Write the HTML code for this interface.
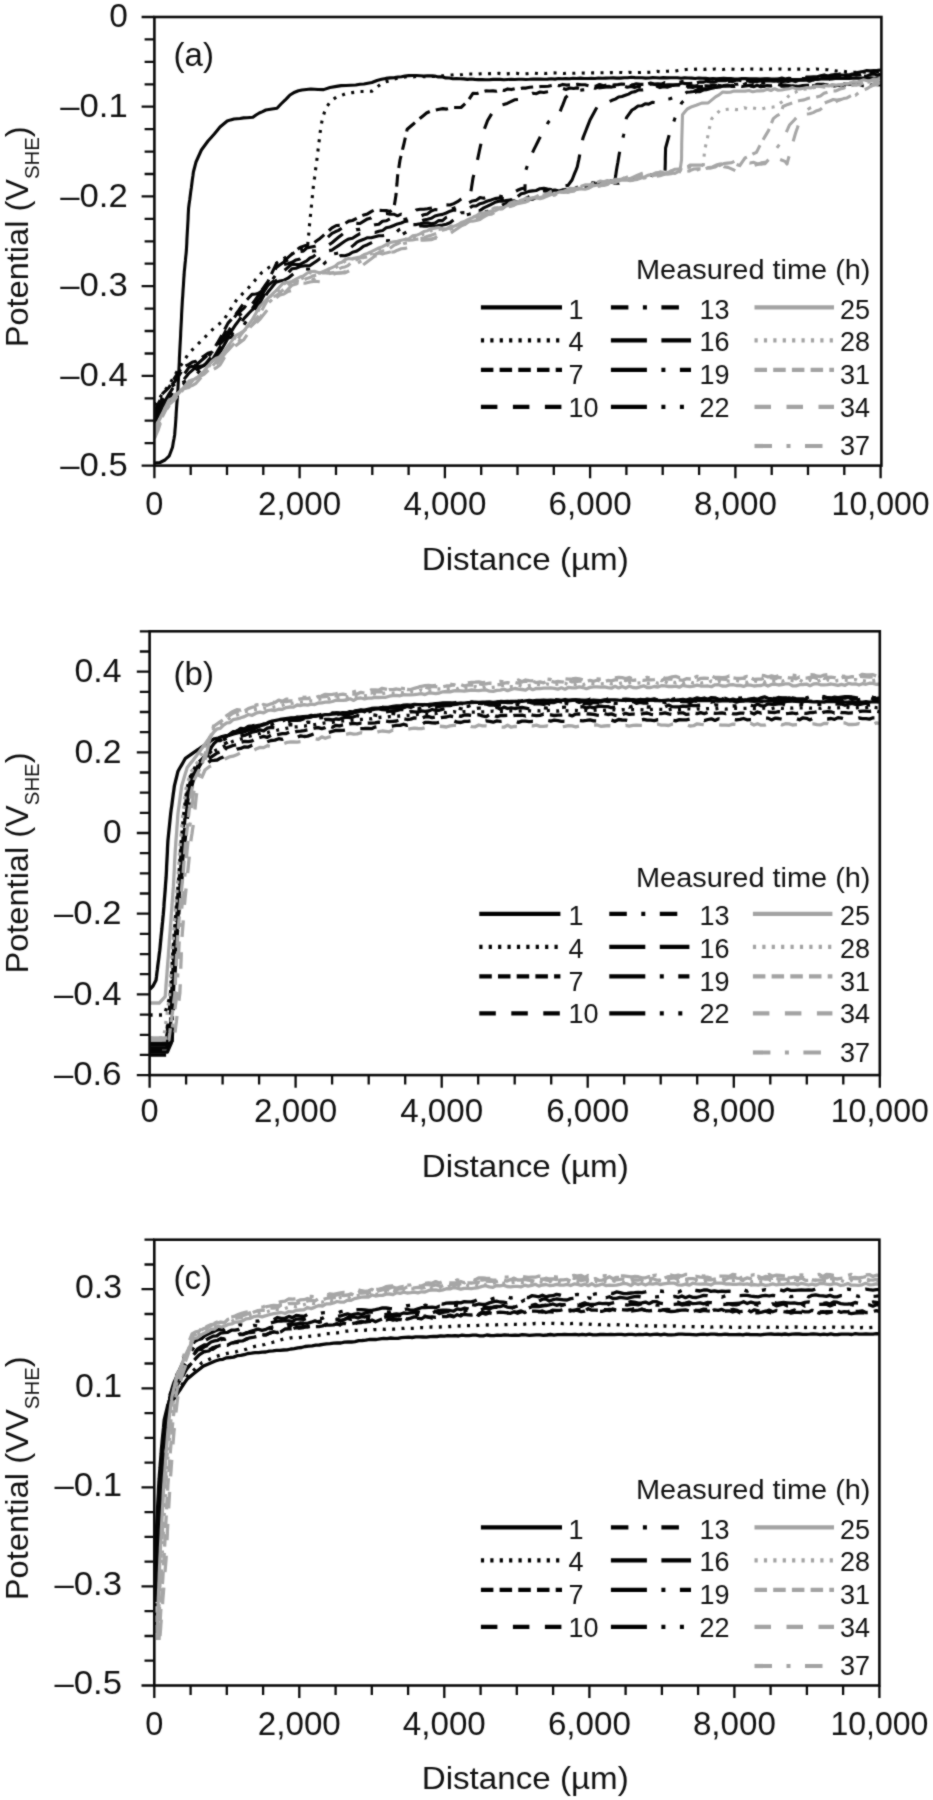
<!DOCTYPE html>
<html><head><meta charset="utf-8"><title>Potential vs distance</title>
<style>html,body{margin:0;padding:0;background:#fff;}svg{display:block;}</style>
</head><body>
<svg width="933" height="1800" viewBox="0 0 933 1800">
<defs><filter id="soft" x="0" y="0" width="100%" height="100%" color-interpolation-filters="sRGB"><feConvolveMatrix order="3" kernelMatrix="1 2 1 2 12 2 1 2 1" divisor="24" edgeMode="duplicate"/></filter></defs>
<rect width="933" height="1800" fill="#fff"/>
<g filter="url(#soft)">
<rect width="933" height="1800" fill="#fff"/>
<clipPath id="clip0"><rect x="154.4" y="17.0" width="727.0" height="448.6"/></clipPath>
<g clip-path="url(#clip0)" fill="none" stroke-linejoin="round">
<path d="M154.5 463.0 L160.0 462.5 L165.0 460.0 L169.3 455.8 L170.9 451.5 L172.5 447.2 L173.2 442.9 L174.0 438.7 L174.7 434.4 L175.0 430.1 L175.4 425.8 L175.7 421.5 L176.0 417.2 L176.2 412.9 L176.5 408.6 L176.8 404.3 L177.1 400.6 L177.4 396.8 L177.6 393.1 L177.9 389.3 L178.1 385.4 L178.3 381.6 L178.5 377.7 L178.7 373.9 L178.9 370.0 L179.1 366.1 L179.3 362.2 L179.4 358.2 L179.6 354.3 L179.8 350.4 L180.0 346.5 L180.2 342.9 L180.4 339.3 L180.6 335.8 L180.7 332.2 L180.9 328.6 L181.1 325.0 L181.3 321.4 L181.5 317.9 L181.6 314.3 L181.8 310.7 L182.0 307.2 L182.2 303.6 L182.4 300.0 L182.7 296.4 L182.9 292.9 L183.1 289.3 L183.4 285.7 L183.6 282.1 L183.8 278.6 L184.1 275.0 L184.3 271.4 L184.7 267.8 L185.0 264.3 L185.4 260.7 L185.7 257.1 L186.1 253.6 L186.4 250.0 L186.6 246.5 L186.8 243.0 L186.9 239.5 L187.1 236.0 L187.3 232.5 L187.5 229.0 L187.7 225.5 L187.9 222.0 L188.1 218.5 L188.2 215.0 L188.4 211.5 L188.6 208.0 L189.1 204.0 L189.7 200.0 L190.2 196.0 L190.7 192.0 L191.3 188.0 L191.8 184.0 L192.3 180.0 L192.9 176.0 L193.4 172.0 L194.7 167.0 L196.0 162.0 L197.8 158.0 L199.6 154.0 L201.4 150.0 L203.6 147.0 L205.8 144.0 L208.0 141.0 L211.2 137.5 L214.3 134.0 L217.2 130.5 L220.0 127.0 L223.6 124.0 L227.2 121.0 L230.6 119.9 L234.0 119.0 L240.0 118.5 L243.5 117.9 L247.0 117.8 L252.9 117.3 L256.0 115.0 L259.3 113.0 L262.6 111.6 L265.8 110.0 L272.0 109.0 L277.0 108.2 L281.0 104.0 L285.0 100.2 L287.5 97.6 L290.0 95.0 L294.7 92.2 L298.4 90.8 L302.0 90.0 L306.4 89.5 L310.8 89.0 L314.4 89.2 L318.0 89.5 L323.6 89.6 L330.0 87.5 L336.5 86.4 L341.2 85.6 L346.0 85.5 L350.9 85.3 L355.8 85.0 L359.9 84.2 L364.0 84.0 L367.9 83.2 L371.9 82.5 L377.0 80.5 L381.5 79.3 L385.9 78.4 L390.2 77.9 L394.6 77.6 L398.1 77.0 L401.5 76.8 L405.0 76.0 L408.8 75.6 L412.6 75.5 L416.4 75.5 L420.1 75.7 L423.7 76.0 L427.4 75.9 L431.0 75.8 L434.7 76.0 L438.3 76.9 L442.0 76.8 L445.6 77.9 L449.3 78.0 L452.9 78.7 L456.5 78.6 L460.2 78.7 L463.8 78.9 L467.5 79.4 L471.1 79.0 L474.7 79.4 L478.4 79.6 L482.0 79.5 L485.7 79.7 L489.3 79.8 L492.9 79.4 L496.6 79.4 L500.2 79.4 L503.9 79.7 L507.5 79.5 L511.2 79.3 L514.8 79.5 L518.5 79.3 L522.1 79.2 L525.8 79.5 L529.4 79.3 L533.0 79.0 L536.7 79.1 L540.3 79.0 L544.0 79.2 L547.6 79.1 L551.3 78.7 L554.9 79.1 L558.6 78.5 L562.2 78.7 L565.8 78.6 L569.5 78.8 L573.1 78.3 L576.8 78.5 L580.4 78.1 L584.0 78.5 L587.7 78.5 L591.3 78.3 L595.0 78.5 L598.6 78.0 L602.2 78.2 L605.9 78.1 L609.5 78.0 L613.2 77.9 L616.8 78.1 L620.4 78.1 L624.1 77.7 L627.7 77.8 L631.4 77.3 L635.0 77.6 L638.5 77.8 L642.1 77.8 L645.6 78.1 L649.2 78.0 L652.7 77.6 L656.2 77.7 L659.8 78.0 L663.3 77.6 L666.9 77.9 L670.4 77.7 L674.0 77.7 L677.5 77.7 L681.0 78.3 L684.6 77.9 L688.1 78.0 L691.7 78.1 L695.2 78.5 L698.8 78.0 L702.3 78.3 L705.8 78.4 L709.4 78.7 L712.9 78.6 L716.5 78.7 L720.0 78.5 L723.6 78.4 L727.3 78.5 L730.9 78.5 L734.5 79.0 L738.2 79.0 L741.8 78.5 L745.5 78.6 L749.1 78.7 L752.7 78.7 L756.4 78.9 L760.0 79.1 L763.6 78.9 L767.3 78.7 L770.9 79.1 L774.5 79.1 L778.2 79.3 L781.8 79.6 L785.5 79.5 L789.1 79.4 L792.7 79.5 L796.4 79.6 L800.0 79.5 L803.5 79.1 L807.0 79.6 L810.6 79.5 L814.1 79.5 L817.6 79.4 L821.1 79.0 L824.7 79.0 L828.2 78.7 L831.7 79.0 L835.2 78.5 L838.7 78.5 L842.3 78.5 L845.8 78.4 L849.3 78.5 L852.8 78.2 L856.3 78.1 L859.9 78.1 L863.4 78.0 L866.9 78.2 L870.4 77.9 L874.0 78.4 L877.5 78.1 L881.0 78.0" stroke="#050505" stroke-width="3.1"/>
<path d="M154.5 405.0 L157.1 401.4 L159.6 397.9 L162.0 394.5 L164.4 391.1 L166.9 387.8 L169.3 384.4 L171.5 380.8 L173.7 377.2 L175.8 373.6 L178.0 370.0 L180.1 366.7 L182.2 363.4 L184.4 360.1 L186.5 356.8 L188.6 353.5 L191.3 350.8 L194.0 348.1 L196.7 345.4 L199.4 342.7 L202.1 340.0 L205.0 337.1 L207.9 334.2 L210.8 331.3 L213.7 328.4 L216.9 325.8 L220.1 323.3 L223.3 320.7 L225.2 317.7 L227.2 314.6 L229.1 311.6 L231.0 308.6 L232.9 305.6 L234.9 302.5 L236.8 299.5 L239.7 296.6 L242.6 293.7 L245.5 290.8 L248.4 287.9 L251.1 284.8 L253.8 281.7 L256.5 278.6 L259.2 275.5 L261.9 272.4 L265.8 269.6 L269.6 267.0 L273.5 264.7 L276.8 262.8 L280.1 260.6 L283.4 258.6 L286.7 256.9 L290.0 255.0 L293.3 253.3 L296.7 251.5 L300.0 250.0 L303.8 247.9 L307.6 246.0 L307.9 242.5 L308.2 239.0 L308.6 235.5 L308.9 232.0 L309.2 228.5 L309.5 225.0 L309.9 221.0 L310.3 217.0 L310.7 213.0 L311.1 209.0 L311.5 205.0 L311.9 201.0 L312.3 197.0 L312.7 193.0 L313.1 189.0 L313.5 185.0 L314.0 181.1 L314.6 177.2 L315.1 173.2 L315.6 169.3 L316.1 165.7 L316.6 162.2 L317.0 158.6 L317.5 155.0 L317.9 151.2 L318.4 147.4 L318.8 143.6 L319.4 139.1 L319.9 134.5 L320.5 130.0 L321.2 125.5 L322.0 121.0 L323.2 116.5 L324.5 112.0 L326.8 106.6 L331.0 101.0 L336.5 97.0 L340.8 95.7 L345.0 94.0 L348.6 93.1 L352.2 92.6 L355.8 92.2 L359.9 91.5 L364.0 91.5 L367.9 91.2 L371.9 91.2 L375.1 88.6 L378.3 86.1 L381.5 83.5 L385.9 81.7 L390.2 80.8 L394.6 79.0 L398.1 78.2 L401.5 78.0 L405.0 77.0 L408.8 76.6 L412.6 76.9 L416.4 76.5 L420.1 76.5 L423.7 76.6 L427.4 76.6 L431.0 76.3 L434.7 76.5 L439.0 75.9 L443.4 75.9 L447.7 75.1 L452.0 75.0 L455.6 74.5 L459.2 74.8 L462.8 74.5 L466.4 74.0 L470.0 74.0 L473.6 74.0 L477.2 74.2 L480.8 73.7 L484.4 73.6 L488.0 73.8 L491.6 73.6 L495.2 73.7 L498.8 73.4 L502.4 73.9 L506.0 73.9 L509.6 73.6 L513.2 73.5 L516.8 73.4 L520.4 73.9 L524.0 73.8 L527.6 73.6 L531.2 73.2 L534.8 73.2 L538.4 73.6 L542.0 73.1 L545.6 73.5 L549.2 73.2 L552.8 72.9 L556.4 73.0 L560.0 73.2 L563.6 73.5 L567.3 73.0 L570.9 73.2 L574.5 73.3 L578.2 73.0 L581.8 73.0 L585.5 73.2 L589.1 73.1 L592.7 72.9 L596.4 72.9 L600.0 72.8 L603.6 72.8 L607.3 72.9 L610.9 72.6 L614.5 73.0 L618.2 72.5 L621.8 72.5 L625.5 73.0 L629.1 72.3 L632.7 72.5 L636.4 72.6 L640.0 72.5 L643.5 72.3 L647.0 72.4 L650.5 72.2 L654.0 71.9 L657.5 71.4 L661.0 71.9 L664.5 71.4 L668.0 71.2 L671.5 71.0 L675.0 71.0 L678.8 70.4 L682.5 69.9 L686.2 69.5 L690.0 69.3 L693.6 69.4 L697.2 69.1 L700.8 69.3 L704.4 69.4 L708.0 68.9 L711.6 69.4 L715.2 69.0 L718.8 69.4 L722.4 69.5 L726.0 69.1 L729.6 69.0 L733.2 69.2 L736.8 69.4 L740.4 69.5 L744.0 69.3 L747.6 69.0 L751.2 69.0 L754.8 69.2 L758.4 69.0 L762.0 69.3 L765.6 68.9 L769.2 69.1 L772.8 69.0 L776.4 69.0 L780.0 69.0 L783.6 69.3 L787.3 69.3 L790.9 69.3 L794.5 69.2 L798.2 69.1 L801.8 69.1 L805.5 69.2 L809.1 69.5 L812.7 69.4 L816.4 69.0 L820.0 69.3 L823.8 69.5 L827.5 69.7 L831.2 70.2 L835.0 70.9 L838.8 71.1 L842.5 71.0 L846.2 71.8 L850.0 72.0 L853.9 72.2 L857.8 72.2 L861.6 72.0 L865.5 72.2 L869.4 72.3 L873.2 73.0 L877.1 72.8 L881.0 73.0" stroke="#050505" stroke-width="3.1" stroke-dasharray="3 6.4"/>
<path d="M154.5 411.4 L156.2 407.9 L158.0 404.3 L159.7 400.6 L161.3 396.9 L163.0 393.1 L166.0 390.3 L169.0 387.4 L171.0 384.0 L173.0 380.6 L175.0 377.3 L177.3 374.0 L179.7 370.7 L182.0 367.5 L185.5 365.9 L189.0 364.4 L192.5 362.0 L196.0 361.4 L200.0 358.6 L204.0 356.1 L208.0 353.3 L212.0 352.1 L214.0 348.7 L216.0 345.4 L218.0 342.0 L220.0 338.6 L222.0 334.7 L224.0 330.8 L226.0 327.0 L228.0 323.1 L230.7 320.1 L233.3 317.1 L236.0 314.0 L238.7 310.4 L241.3 306.7 L244.0 303.0 L246.7 300.1 L249.3 297.3 L252.0 294.4 L256.0 294.0 L260.0 292.5 L262.7 288.8 L265.3 285.1 L268.0 281.4 L269.6 278.0 L271.2 274.6 L272.8 271.2 L274.4 267.8 L276.0 264.4 L280.0 262.7 L284.0 261.0 L286.7 258.6 L289.3 256.3 L292.0 254.0 L296.0 250.7 L300.0 247.4 L305.0 245.6 L310.0 245.5 L313.3 243.2 L316.7 240.8 L320.0 238.4 L323.0 235.8 L326.0 233.1 L329.0 230.5 L332.0 227.9 L336.3 225.5 L340.7 225.4 L345.0 223.5 L348.8 221.1 L352.5 220.5 L356.2 218.6 L360.0 216.6 L363.8 214.9 L367.5 213.9 L371.2 211.7 L375.0 209.8 L378.8 210.4 L382.5 210.5 L386.2 210.6 L390.0 211.6 L393.0 209.5 L394.4 205.0 L395.2 200.0 L396.0 195.0 L396.3 191.2 L396.6 187.3 L397.0 183.5 L397.3 179.6 L397.6 175.8 L398.2 171.9 L398.8 167.9 L399.4 163.9 L400.0 160.0 L401.0 155.9 L402.0 151.8 L403.0 147.7 L404.0 143.6 L404.8 140.0 L405.6 136.4 L406.4 132.8 L407.2 129.2 L410.4 126.5 L413.7 123.7 L416.9 121.0 L420.1 118.3 L423.3 115.7 L426.5 113.0 L430.8 111.0 L435.1 110.3 L439.4 109.2 L442.9 108.6 L446.5 109.1 L450.0 108.2 L453.7 107.5 L457.3 107.5 L461.0 107.5 L464.4 104.3 L467.7 101.2 L470.3 97.3 L472.9 93.4 L477.2 93.5 L481.4 92.0 L485.7 90.9 L489.4 91.0 L493.0 90.9 L496.7 91.2 L500.4 89.6 L504.1 90.5 L507.7 88.9 L511.4 89.6 L515.1 88.7 L518.8 89.0 L522.5 88.1 L526.1 88.1 L529.8 87.2 L533.5 86.9 L537.2 87.0 L540.9 86.5 L544.5 86.5 L548.2 86.3 L551.9 85.5 L555.6 84.9 L559.2 85.7 L562.9 84.4 L566.6 85.1 L570.2 84.9 L573.9 85.0 L577.6 84.4 L581.3 84.7 L584.9 84.7 L588.6 85.7 L592.3 86.5 L595.9 86.2 L599.6 84.5 L603.3 85.7 L607.0 85.0 L610.6 85.5 L614.3 84.9 L618.0 84.6 L621.6 84.0 L625.3 84.2 L629.0 84.5 L632.7 85.0 L636.3 83.8 L640.0 84.4 L643.7 84.4 L647.4 85.5 L651.0 83.9 L654.7 84.6 L658.4 85.6 L662.1 85.3 L665.8 85.9 L669.4 85.4 L673.1 85.5 L676.8 84.8 L680.5 85.2 L684.1 85.6 L687.8 86.3 L691.5 85.7 L695.1 86.0 L698.7 85.4 L702.3 86.4 L705.9 85.9 L709.5 86.1 L713.1 85.0 L716.7 85.2 L720.3 85.8 L723.9 85.5 L727.6 85.1 L731.2 86.4 L734.8 86.5 L738.4 85.9 L742.0 86.5 L745.6 86.0 L749.2 85.4 L752.8 84.8 L756.4 85.6 L760.0 85.5 L763.6 86.3 L767.1 85.6 L770.7 85.9 L774.2 85.2 L777.8 84.5 L781.4 85.4 L784.9 85.1 L788.5 85.5 L792.0 86.3 L795.6 86.3 L799.1 86.2 L802.7 85.6 L806.3 85.4 L809.8 85.4 L813.4 86.1 L816.9 84.3 L820.5 84.3 L824.1 84.4 L827.6 85.1 L831.2 86.2 L834.7 86.0 L838.3 85.3 L841.9 86.1 L845.4 85.6 L849.0 85.8 L852.5 84.6 L856.1 84.3 L859.6 84.5 L863.2 85.8 L866.8 85.8 L870.3 85.2 L873.9 84.3 L877.4 84.8 L881.0 85.0" stroke="#050505" stroke-width="3.1" stroke-dasharray="12.5 6.2"/>
<path d="M154.5 411.5 L158.0 407.9 L159.7 403.8 L161.3 399.8 L163.0 395.8 L166.0 391.7 L169.0 387.5 L172.0 384.5 L175.0 381.5 L177.3 378.0 L179.7 374.4 L182.0 370.9 L185.5 368.0 L189.0 365.0 L192.5 365.9 L196.0 365.1 L198.7 362.8 L201.3 360.5 L204.0 358.2 L208.0 354.8 L212.0 351.5 L214.7 348.4 L217.3 345.3 L220.0 342.3 L221.6 339.0 L223.2 335.8 L224.8 332.6 L226.4 329.4 L228.0 326.2 L230.7 322.5 L233.3 318.8 L236.0 315.1 L238.7 312.8 L241.3 310.4 L244.0 308.1 L246.7 304.6 L249.3 301.2 L252.0 297.7 L256.0 294.6 L260.0 292.3 L262.7 289.8 L265.3 287.2 L268.0 284.7 L269.6 281.3 L271.2 277.9 L272.8 274.5 L274.4 271.2 L276.0 267.8 L280.0 264.8 L284.0 262.0 L288.0 259.8 L292.0 258.9 L294.7 256.4 L297.3 253.9 L300.0 251.4 L303.3 251.1 L306.7 248.0 L310.0 247.3 L315.0 246.3 L320.0 244.5 L323.0 241.7 L326.0 238.9 L329.0 236.1 L332.0 233.3 L335.2 231.8 L338.5 230.4 L341.8 228.2 L345.0 226.7 L348.8 225.7 L352.5 224.9 L356.2 223.4 L360.0 223.5 L363.8 221.1 L367.5 218.9 L371.2 217.9 L375.0 215.3 L378.8 214.9 L382.5 213.9 L386.2 213.6 L390.0 214.3 L393.8 214.2 L397.5 215.8 L401.2 214.2 L405.0 215.4 L408.8 213.8 L412.5 212.9 L416.2 210.0 L420.0 209.2 L423.8 209.2 L427.5 208.8 L431.2 208.0 L435.0 206.8 L438.8 205.6 L442.5 206.7 L446.2 204.9 L450.0 205.0 L453.8 203.6 L457.5 201.7 L461.2 199.1 L465.0 197.1 L470.0 197.5 L470.6 193.6 L471.2 189.7 L471.8 185.8 L472.4 181.9 L473.0 178.0 L474.0 174.3 L475.0 170.7 L476.0 167.0 L476.8 163.2 L477.6 159.4 L478.4 155.6 L479.2 151.8 L480.0 148.0 L480.8 144.4 L481.6 140.8 L482.4 137.2 L483.2 133.6 L484.0 130.0 L485.8 125.2 L487.6 120.5 L489.8 116.9 L492.0 113.2 L494.1 109.6 L496.3 106.0 L499.9 105.4 L503.6 104.4 L507.2 103.4 L510.8 101.7 L514.5 99.8 L518.3 99.5 L522.0 97.0 L525.6 96.2 L529.2 94.7 L532.8 93.2 L536.4 93.7 L540.0 92.0 L543.8 92.5 L547.5 91.7 L551.2 90.8 L555.0 90.5 L558.8 89.3 L562.5 88.3 L566.2 89.4 L570.0 88.0 L573.6 88.5 L577.1 87.9 L580.7 88.5 L584.3 87.0 L587.9 86.8 L591.4 87.1 L595.0 88.3 L598.6 87.1 L602.1 86.5 L605.7 86.6 L609.3 86.4 L612.9 87.9 L616.4 88.0 L620.0 87.0 L623.6 86.1 L627.3 87.3 L630.9 86.4 L634.5 87.6 L638.2 86.4 L641.8 87.4 L645.5 85.9 L649.1 87.0 L652.7 86.6 L656.4 86.0 L660.0 87.6 L663.6 86.7 L667.3 87.2 L670.9 86.1 L674.5 86.3 L678.2 87.4 L681.8 86.7 L685.5 87.5 L689.1 86.9 L692.7 87.5 L696.4 86.2 L700.0 86.5 L703.6 86.5 L707.1 87.3 L710.7 85.5 L714.3 86.5 L717.9 85.4 L721.4 85.9 L725.0 86.2 L728.6 85.9 L732.1 85.5 L735.7 85.5 L739.3 86.6 L742.9 87.0 L746.4 86.5 L750.0 85.9 L753.6 86.7 L757.1 85.3 L760.7 86.7 L764.3 86.3 L767.9 86.2 L771.4 86.3 L775.0 85.4 L778.6 86.0 L782.1 86.2 L785.7 86.0 L789.3 86.1 L792.9 85.8 L796.4 86.2 L800.0 86.0 L803.5 85.6 L807.0 86.6 L810.6 85.1 L814.1 86.0 L817.6 85.4 L821.1 86.0 L824.7 85.6 L828.2 84.9 L831.7 85.8 L835.2 85.3 L838.7 83.9 L842.3 84.1 L845.8 83.8 L849.3 84.1 L852.8 84.1 L856.3 83.9 L859.9 84.6 L863.4 83.4 L866.9 84.2 L870.4 83.3 L874.0 83.6 L877.5 82.4 L881.0 83.0" stroke="#050505" stroke-width="3.1" stroke-dasharray="16.5 15.5"/>
<path d="M154.5 413.1 L158.0 409.2 L160.5 405.3 L163.0 401.4 L165.0 397.2 L167.0 393.1 L169.0 389.0 L172.0 386.4 L175.0 383.9 L178.5 380.7 L182.0 377.5 L184.3 374.1 L186.7 370.7 L189.0 367.3 L192.5 366.2 L196.0 366.8 L200.0 364.2 L204.0 363.0 L206.7 359.3 L209.3 355.6 L212.0 351.9 L214.7 349.2 L217.3 346.5 L220.0 343.9 L222.0 341.0 L224.0 338.1 L226.0 335.2 L228.0 332.3 L230.0 328.7 L232.0 325.1 L234.0 321.5 L236.0 317.8 L240.0 314.7 L244.0 311.6 L246.7 309.1 L249.3 306.7 L252.0 304.3 L254.7 300.6 L257.3 296.9 L260.0 293.2 L262.7 290.7 L265.3 288.2 L268.0 285.7 L270.7 282.0 L273.3 278.3 L276.0 274.5 L278.7 271.2 L281.3 267.9 L284.0 264.6 L288.0 263.8 L292.0 262.3 L296.0 259.9 L300.0 258.9 L303.3 256.2 L306.7 253.5 L310.0 250.8 L315.0 251.0 L320.0 249.4 L324.0 247.8 L328.0 245.4 L332.0 242.7 L335.2 240.0 L338.5 237.3 L341.8 234.7 L345.0 232.0 L348.8 231.3 L352.5 231.4 L356.2 229.6 L360.0 229.4 L363.8 228.5 L367.5 226.9 L371.2 225.9 L375.0 224.8 L378.8 224.2 L382.5 221.2 L386.2 220.8 L390.0 218.8 L393.8 219.5 L397.5 218.2 L401.2 220.2 L405.0 219.3 L408.8 218.5 L412.5 217.9 L416.2 216.7 L420.0 216.4 L423.8 214.8 L427.5 213.9 L431.2 211.0 L435.0 209.6 L438.8 209.9 L442.5 209.9 L446.2 209.9 L450.0 209.0 L453.8 208.3 L457.5 206.7 L461.2 205.4 L465.0 204.6 L468.8 202.7 L472.5 200.9 L476.2 200.2 L480.0 197.6 L483.8 198.3 L487.5 197.0 L491.2 197.1 L495.0 197.6 L498.8 195.8 L502.5 196.8 L506.2 194.2 L510.0 194.2 L513.8 192.4 L517.5 190.3 L521.2 188.8 L525.0 187.8 L525.0 189.9 L525.0 186.4 L525.1 182.8 L525.1 179.2 L525.2 175.6 L525.2 172.0 L526.4 168.5 L527.6 165.0 L528.8 161.5 L530.0 158.0 L532.0 153.7 L534.0 149.4 L535.9 145.6 L537.8 141.7 L539.7 137.9 L541.4 134.7 L543.2 131.5 L544.9 128.4 L546.7 125.2 L548.4 122.0 L550.9 119.3 L553.5 116.7 L556.0 114.0 L560.0 111.8 L561.4 108.2 L562.9 104.6 L564.3 101.0 L565.7 97.4 L568.9 94.7 L572.0 92.0 L575.6 92.1 L579.2 90.3 L582.8 89.9 L586.4 89.5 L590.0 88.0 L593.6 87.8 L597.1 88.1 L600.7 87.7 L604.3 87.1 L607.9 86.7 L611.4 87.1 L615.0 86.4 L618.6 85.4 L622.1 86.2 L625.7 85.8 L629.3 85.8 L632.9 84.9 L636.4 84.2 L640.0 84.0 L643.5 83.6 L647.1 84.0 L650.6 83.0 L654.1 84.0 L657.6 83.8 L661.2 84.1 L664.7 82.6 L668.2 83.2 L671.8 83.0 L675.3 83.0 L678.8 82.5 L682.4 81.6 L685.9 83.3 L689.4 83.2 L692.9 81.6 L696.5 82.9 L700.0 82.0 L703.6 82.1 L707.1 80.9 L710.7 82.1 L714.3 81.3 L717.9 81.4 L721.4 80.8 L725.0 82.2 L728.6 81.7 L732.1 80.8 L735.7 81.4 L739.3 81.1 L742.9 82.1 L746.4 80.5 L750.0 81.4 L753.6 81.5 L757.1 81.6 L760.7 80.3 L764.3 81.4 L767.9 80.0 L771.4 79.9 L775.0 80.7 L778.6 81.2 L782.1 80.2 L785.7 79.6 L789.3 79.4 L792.9 80.0 L796.4 80.8 L800.0 80.0 L803.5 79.9 L807.0 79.3 L810.6 79.0 L814.1 78.0 L817.6 77.7 L821.1 77.4 L824.7 78.0 L828.2 77.5 L831.7 76.0 L835.2 76.7 L838.7 77.1 L842.3 75.0 L845.8 74.8 L849.3 76.1 L852.8 74.8 L856.3 75.2 L859.9 74.8 L863.4 73.7 L866.9 74.4 L870.4 72.6 L874.0 72.3 L877.5 71.8 L881.0 72.0" stroke="#050505" stroke-width="3.1" stroke-dasharray="17.5 14.5 4 14.5"/>
<path d="M154.5 418.2 L156.2 413.8 L158.0 409.3 L163.0 404.6 L165.0 401.1 L167.0 397.6 L169.0 394.1 L171.0 391.0 L173.0 387.9 L175.0 384.8 L178.5 383.3 L182.0 381.8 L184.3 378.9 L186.7 376.0 L189.0 373.1 L192.5 370.1 L196.0 367.0 L200.0 366.3 L204.0 365.7 L206.7 362.4 L209.3 359.2 L212.0 356.0 L214.0 353.0 L216.0 350.0 L218.0 347.0 L220.0 344.0 L222.7 341.4 L225.3 338.9 L228.0 336.4 L230.0 333.3 L232.0 330.3 L234.0 327.2 L236.0 324.2 L238.7 320.6 L241.3 317.1 L244.0 313.5 L248.0 311.5 L252.0 308.8 L254.7 305.1 L257.3 301.4 L260.0 297.8 L262.0 294.6 L264.0 291.5 L266.0 288.4 L268.0 285.2 L272.0 282.2 L276.0 279.2 L278.7 276.4 L281.3 273.6 L284.0 270.7 L288.0 267.4 L292.0 264.1 L296.0 264.5 L300.0 264.4 L303.3 262.7 L306.7 260.9 L310.0 258.0 L313.3 256.7 L316.7 253.7 L320.0 252.5 L324.0 251.2 L328.0 250.8 L332.0 250.1 L335.2 247.8 L338.5 245.6 L341.8 243.3 L345.0 241.0 L348.8 238.9 L352.5 238.2 L356.2 235.9 L360.0 233.6 L363.8 233.3 L367.5 232.8 L371.2 232.2 L375.0 232.5 L378.8 231.3 L382.5 230.6 L386.2 227.7 L390.0 227.0 L393.8 225.5 L397.5 223.9 L401.2 223.0 L405.0 221.4 L408.8 221.0 L412.5 220.7 L416.2 222.1 L420.0 221.8 L423.8 220.0 L427.5 219.2 L431.2 218.3 L435.0 216.0 L438.8 215.0 L442.5 214.4 L446.2 213.0 L450.0 211.2 L453.8 210.1 L457.5 210.3 L461.2 210.9 L465.0 210.4 L468.8 208.7 L472.5 206.0 L476.2 206.0 L480.0 203.7 L483.8 202.7 L487.5 201.0 L491.2 199.9 L495.0 198.6 L498.8 198.0 L502.5 198.8 L506.2 198.0 L510.0 198.8 L513.8 197.6 L517.5 196.7 L521.2 193.8 L525.0 192.9 L528.8 191.4 L532.5 190.9 L536.2 190.5 L540.0 188.7 L543.8 188.3 L547.5 189.0 L551.2 189.6 L555.0 189.7 L559.3 187.6 L563.7 185.9 L568.0 185.4 L572.0 180.0 L573.3 176.7 L574.6 173.4 L576.0 170.1 L577.3 166.8 L578.0 163.2 L578.8 159.6 L579.5 155.9 L580.2 152.3 L580.9 148.7 L581.6 145.1 L582.3 141.5 L583.0 137.9 L584.4 134.3 L585.8 130.7 L587.2 127.2 L588.6 123.6 L590.0 120.0 L591.9 116.5 L593.8 113.0 L595.7 109.5 L597.6 106.0 L601.2 105.1 L604.8 103.4 L608.4 101.9 L612.0 100.3 L615.3 99.1 L618.6 97.0 L621.9 96.5 L625.3 95.3 L628.6 94.1 L631.9 92.2 L635.2 91.6 L638.7 89.9 L642.3 90.0 L645.8 89.6 L649.4 88.7 L652.9 88.5 L656.5 86.5 L660.0 86.0 L663.6 85.4 L667.3 84.9 L670.9 84.9 L674.5 84.9 L678.2 84.9 L681.8 83.0 L685.5 83.6 L689.1 83.6 L692.7 83.2 L696.4 82.2 L700.0 82.0 L703.6 81.0 L707.1 81.4 L710.7 81.8 L714.3 82.0 L717.9 80.7 L721.4 80.8 L725.0 80.7 L728.6 80.0 L732.1 81.7 L735.7 80.3 L739.3 80.3 L742.9 81.2 L746.4 80.7 L750.0 80.0 L753.5 79.4 L757.1 80.5 L760.6 80.1 L764.1 79.4 L767.6 79.0 L771.2 79.6 L774.7 79.6 L778.2 78.9 L781.8 78.1 L785.3 79.0 L788.8 78.4 L792.4 78.7 L795.9 78.3 L799.4 77.9 L802.9 78.1 L806.5 77.1 L810.0 77.0 L813.5 76.9 L817.1 76.8 L820.6 75.8 L824.2 74.9 L827.8 75.9 L831.3 75.0 L834.9 74.5 L838.4 74.3 L842.0 73.4 L845.5 74.2 L849.0 72.7 L852.6 72.3 L856.1 72.7 L859.7 72.1 L863.2 71.4 L866.8 70.6 L870.4 70.9 L873.9 70.5 L877.5 70.4 L881.0 70.0" stroke="#050505" stroke-width="3.1" stroke-dasharray="36 14.5"/>
<path d="M154.5 423.4 L155.7 419.8 L156.8 416.1 L158.0 412.5 L160.5 408.6 L163.0 404.6 L166.0 402.0 L169.0 399.4 L171.0 395.9 L173.0 392.4 L175.0 388.9 L178.5 385.9 L182.0 382.9 L185.5 381.0 L189.0 379.1 L191.3 376.2 L193.7 373.3 L196.0 370.3 L200.0 367.7 L204.0 365.1 L208.0 362.6 L212.0 360.3 L214.0 357.0 L216.0 353.7 L218.0 350.4 L220.0 347.1 L222.7 343.8 L225.3 340.4 L228.0 337.1 L232.0 333.9 L236.0 330.8 L238.0 327.7 L240.0 324.6 L242.0 321.6 L244.0 318.5 L246.7 315.6 L249.3 312.8 L252.0 310.0 L254.7 307.5 L257.3 305.1 L260.0 302.7 L262.0 298.9 L264.0 295.2 L266.0 291.4 L268.0 287.7 L270.7 285.3 L273.3 283.0 L276.0 280.6 L280.0 279.5 L284.0 277.3 L286.7 274.5 L289.3 271.6 L292.0 268.7 L296.0 268.2 L300.0 266.5 L305.0 265.8 L310.0 265.6 L313.3 263.3 L316.7 260.9 L320.0 258.6 L324.0 257.2 L328.0 255.9 L332.0 254.2 L336.3 253.4 L340.7 252.6 L345.0 250.4 L348.0 249.0 L351.0 247.3 L354.0 244.9 L357.0 242.2 L360.0 240.7 L363.8 239.3 L367.5 237.7 L371.2 237.8 L375.0 236.8 L378.8 235.8 L382.5 235.8 L386.2 235.3 L390.0 235.8 L393.0 232.9 L396.0 232.5 L399.0 229.7 L402.0 228.5 L405.0 226.3 L408.8 226.5 L412.5 224.6 L416.2 224.6 L420.0 223.8 L423.8 222.9 L427.5 222.7 L431.2 223.7 L435.0 223.1 L438.8 220.5 L442.5 220.6 L446.2 217.4 L450.0 216.1 L453.8 216.0 L457.5 215.3 L461.2 212.7 L465.0 212.6 L468.8 211.9 L472.5 211.6 L476.2 210.5 L480.0 210.5 L483.8 207.9 L487.5 206.2 L491.2 204.3 L495.0 202.3 L498.8 201.2 L502.5 201.3 L506.2 200.6 L510.0 199.9 L513.8 199.7 L517.5 198.4 L521.2 199.9 L525.0 198.8 L528.8 196.8 L532.5 195.1 L536.2 192.9 L540.0 191.7 L543.8 190.9 L547.5 191.1 L551.2 190.4 L555.0 190.1 L558.8 190.9 L562.5 189.9 L566.2 189.6 L570.0 189.7 L573.8 188.8 L577.5 187.1 L581.2 185.8 L585.0 183.2 L588.8 183.6 L592.5 182.8 L596.2 183.0 L600.0 182.0 L603.8 181.3 L607.5 181.2 L611.2 181.0 L615.0 181.9 L615.0 179.9 L615.7 175.6 L616.3 171.3 L617.0 167.0 L617.8 162.8 L618.5 158.5 L619.2 154.2 L620.0 150.0 L620.9 146.2 L621.8 142.5 L622.7 138.8 L623.6 135.0 L624.2 131.5 L624.8 128.0 L625.3 124.6 L625.9 121.1 L626.5 117.6 L629.2 113.8 L632.0 110.0 L635.0 108.3 L638.0 106.0 L641.6 105.8 L645.1 103.8 L648.7 104.1 L652.2 102.3 L655.8 102.7 L659.3 100.5 L662.9 100.0 L666.4 99.2 L670.0 98.8 L673.3 97.6 L676.7 97.1 L680.0 95.4 L683.3 94.9 L686.7 92.3 L690.0 92.0 L693.8 91.5 L697.5 89.6 L701.2 88.9 L705.0 88.8 L708.8 89.0 L712.5 87.9 L716.2 87.2 L720.0 86.0 L723.6 84.9 L727.3 86.0 L730.9 85.4 L734.5 84.3 L738.2 84.3 L741.8 83.3 L745.5 83.5 L749.1 82.2 L752.7 82.1 L756.4 81.0 L760.0 81.0 L763.5 81.1 L767.1 80.7 L770.6 81.0 L774.1 81.2 L777.6 80.9 L781.2 80.2 L784.7 80.2 L788.2 78.8 L791.8 78.4 L795.3 78.6 L798.8 79.2 L802.4 78.6 L805.9 78.4 L809.4 78.0 L812.9 78.6 L816.5 77.6 L820.0 78.0 L823.6 77.1 L827.2 76.2 L830.8 77.5 L834.4 76.0 L837.9 76.5 L841.5 75.0 L845.1 75.4 L848.7 74.9 L852.3 74.0 L855.9 74.0 L859.5 73.6 L863.1 72.6 L866.6 72.6 L870.2 71.5 L873.8 72.7 L877.4 70.7 L881.0 71.0" stroke="#050505" stroke-width="3.1" stroke-dasharray="36 14.5 4 14.5"/>
<path d="M154.5 425.0 L156.2 421.1 L158.0 417.3 L159.7 413.3 L161.3 409.4 L163.0 405.4 L166.0 403.2 L169.0 401.0 L172.0 397.8 L175.0 394.5 L177.3 391.2 L179.7 387.9 L182.0 384.6 L185.5 383.0 L189.0 381.4 L192.5 378.3 L196.0 375.3 L198.7 371.9 L201.3 368.6 L204.0 365.2 L208.0 362.6 L212.0 361.1 L214.7 358.0 L217.3 355.0 L220.0 352.0 L222.0 348.6 L224.0 345.2 L226.0 341.8 L228.0 338.3 L232.0 336.8 L236.0 333.6 L238.7 330.7 L241.3 327.8 L244.0 324.9 L246.0 321.6 L248.0 318.2 L250.0 314.9 L252.0 311.5 L254.7 309.0 L257.3 306.5 L260.0 304.0 L262.0 301.0 L264.0 298.0 L266.0 295.0 L268.0 292.0 L270.7 288.8 L273.3 285.5 L276.0 282.3 L280.0 281.0 L284.0 280.2 L288.0 278.2 L292.0 275.0 L296.0 271.9 L300.0 268.8 L305.0 269.0 L310.0 269.3 L313.3 267.2 L316.7 267.0 L320.0 266.0 L323.0 264.6 L326.0 261.9 L329.0 260.4 L332.0 258.1 L336.3 257.5 L340.7 255.6 L345.0 255.8 L348.8 254.6 L352.5 252.3 L356.2 251.3 L360.0 249.0 L363.8 246.1 L367.5 244.7 L371.2 242.9 L375.0 240.8 L378.8 241.1 L382.5 240.6 L386.2 240.8 L390.0 240.5 L393.8 238.1 L397.5 236.2 L401.2 235.2 L405.0 232.8 L408.8 230.7 L412.5 229.8 L416.2 226.7 L420.0 225.8 L423.8 226.1 L427.5 226.1 L431.2 225.4 L435.0 226.5 L438.8 225.6 L442.5 225.1 L446.2 224.3 L450.0 222.7 L453.8 219.8 L457.5 218.4 L461.2 216.9 L465.0 214.9 L468.8 214.3 L472.5 213.4 L476.2 213.3 L480.0 213.6 L483.8 212.2 L487.5 211.6 L491.2 209.6 L495.0 207.8 L498.8 206.6 L502.5 205.0 L506.2 203.4 L510.0 201.1 L513.8 200.8 L517.5 202.1 L521.2 200.6 L525.0 201.2 L528.8 199.3 L532.5 199.3 L536.2 197.7 L540.0 196.7 L543.8 196.1 L547.5 193.8 L551.2 192.8 L555.0 190.7 L558.8 191.3 L562.5 191.8 L566.2 192.2 L570.0 191.5 L573.8 190.0 L577.5 190.0 L581.2 189.4 L585.0 187.6 L588.8 186.2 L592.5 183.9 L596.2 184.2 L600.0 182.0 L603.8 182.2 L607.5 182.1 L611.2 182.1 L615.0 183.2 L618.8 183.1 L622.5 180.8 L626.2 181.1 L630.0 179.6 L633.8 178.0 L637.5 176.5 L641.2 176.3 L645.0 174.4 L648.8 174.0 L652.5 175.7 L656.2 175.3 L660.0 175.6 L665.0 173.1 L665.1 169.5 L665.2 166.0 L665.3 162.4 L665.3 158.8 L665.4 155.2 L665.5 151.6 L665.6 148.0 L666.7 144.0 L667.8 140.0 L668.9 136.0 L670.0 132.0 L671.2 128.5 L672.5 125.0 L673.8 121.5 L675.0 118.0 L676.6 114.2 L678.2 110.5 L679.9 106.8 L681.5 103.0 L684.3 100.3 L687.2 97.7 L690.0 95.0 L693.3 93.3 L696.7 91.7 L700.0 91.6 L703.3 90.0 L706.7 89.6 L710.0 88.0 L713.6 87.7 L717.1 87.1 L720.7 86.9 L724.3 85.6 L727.9 85.5 L731.4 86.6 L735.0 84.8 L738.6 84.7 L742.1 85.3 L745.7 83.6 L749.3 83.8 L752.9 84.6 L756.4 84.0 L760.0 83.0 L763.5 83.1 L767.1 82.5 L770.6 82.5 L774.1 82.0 L777.6 82.5 L781.2 82.5 L784.7 81.0 L788.2 81.5 L791.8 80.6 L795.3 81.6 L798.8 80.3 L802.4 80.2 L805.9 79.9 L809.4 81.2 L812.9 80.1 L816.5 79.5 L820.0 80.0 L823.6 80.3 L827.2 80.2 L830.8 78.1 L834.4 79.3 L837.9 78.8 L841.5 78.0 L845.1 78.1 L848.7 76.7 L852.3 76.8 L855.9 77.3 L859.5 75.2 L863.1 75.9 L866.6 76.2 L870.2 74.6 L873.8 73.9 L877.4 75.2 L881.0 74.0" stroke="#050505" stroke-width="3.1" stroke-dasharray="36 14.5 4 14.5 4 14.5"/>
<path d="M154.5 426.9 L158.0 422.1 L159.7 418.8 L161.3 415.4 L163.0 412.1 L165.0 408.0 L167.0 404.0 L169.0 399.9 L175.0 397.2 L178.5 393.5 L182.0 389.8 L184.3 386.8 L186.7 383.8 L189.0 380.9 L192.5 379.7 L196.0 378.8 L198.7 376.2 L201.3 373.7 L204.0 371.1 L206.7 367.8 L209.3 364.6 L212.0 361.3 L216.0 358.2 L220.0 357.0 L222.7 353.3 L225.3 349.6 L228.0 346.0 L230.7 342.4 L233.3 338.8 L236.0 335.3 L240.0 333.3 L244.0 330.9 L246.7 327.3 L249.3 323.6 L252.0 320.0 L254.0 316.6 L256.0 313.1 L258.0 309.6 L260.0 306.2 L262.7 303.5 L265.3 300.9 L268.0 298.2 L270.7 295.7 L273.3 293.2 L276.0 290.7 L278.7 287.9 L281.3 285.1 L284.0 282.4 L288.0 282.5 L292.0 281.4 L296.0 279.2 L300.0 277.0 L303.3 276.1 L306.7 273.5 L310.0 271.5 L315.0 271.4 L320.0 273.0 L324.0 271.2 L328.0 269.3 L332.0 267.6 L335.2 266.2 L338.5 263.2 L341.8 262.2 L345.0 259.7 L348.8 258.4 L352.5 259.1 L356.2 257.8 L360.0 257.1 L363.8 254.8 L367.5 253.4 L371.2 251.7 L375.0 249.8 L378.8 247.9 L382.5 246.7 L386.2 244.6 L390.0 242.6 L393.8 241.8 L397.5 241.3 L401.2 240.2 L405.0 239.5 L408.8 238.9 L412.5 235.9 L416.2 235.4 L420.0 233.9 L423.8 231.5 L427.5 230.7 L431.2 228.6 L435.0 228.1 L438.8 227.5 L442.5 228.6 L446.2 228.7 L450.0 228.1 L453.8 226.2 L457.5 225.1 L461.2 222.5 L465.0 221.2 L468.8 219.1 L472.5 217.7 L476.2 215.9 L480.0 213.0 L483.8 213.1 L487.5 211.9 L491.2 211.0 L495.0 211.0 L498.8 208.8 L502.5 208.9 L506.2 205.9 L510.0 205.0 L513.8 203.4 L517.5 202.1 L521.2 200.8 L525.0 198.6 L528.8 198.4 L532.5 197.7 L536.2 197.9 L540.0 198.7 L543.8 197.7 L547.5 196.1 L551.2 194.6 L555.0 193.8 L558.8 192.1 L562.5 191.6 L566.2 190.2 L570.0 188.5 L573.8 188.7 L577.5 188.0 L581.2 189.0 L585.0 189.3 L588.8 188.2 L592.5 186.1 L596.2 185.2 L600.0 184.7 L603.8 183.0 L607.5 181.6 L611.2 181.2 L615.0 179.7 L618.8 180.3 L622.5 180.1 L626.2 180.0 L630.0 180.7 L633.8 180.1 L637.5 179.4 L641.2 178.1 L645.0 176.7 L648.8 175.0 L652.5 174.5 L656.2 172.7 L660.0 172.2 L663.8 172.7 L667.5 173.1 L671.2 172.2 L675.0 173.4 L680.0 170.7 L680.5 167.1 L681.0 163.6 L681.5 160.0 L681.6 156.0 L681.6 152.0 L681.7 148.0 L681.7 144.0 L681.8 140.0 L681.9 136.4 L682.0 132.8 L682.1 129.2 L682.2 125.5 L682.3 121.9 L682.4 118.3 L682.5 114.7 L684.9 111.8 L687.3 109.0 L691.8 106.7 L696.2 105.3 L701.7 103.1 L708.2 102.9 L711.9 99.9 L715.5 96.9 L719.1 94.9 L722.7 92.0 L726.5 92.4 L730.2 92.2 L734.0 91.0 L737.7 91.1 L741.5 91.1 L745.2 91.1 L749.0 90.5 L752.7 91.7 L756.5 90.9 L760.1 90.9 L763.7 90.6 L767.3 89.2 L771.0 90.5 L774.6 88.7 L778.2 90.2 L781.8 90.0 L785.4 89.3 L789.0 88.7 L792.6 87.6 L796.3 88.9 L799.9 89.0 L803.5 88.3 L807.1 87.6 L810.7 88.0 L814.3 86.3 L818.0 86.3 L821.6 86.6 L825.2 85.6 L828.8 86.0 L832.3 84.5 L835.8 85.1 L839.2 84.8 L842.7 84.4 L846.2 83.6 L849.7 83.2 L853.2 81.9 L856.6 82.4 L860.1 81.1 L863.6 79.8 L867.1 80.7 L870.6 80.5 L874.0 79.0 L877.5 79.2 L881.0 78.0" stroke="#a6a6a6" stroke-width="3.1"/>
<path d="M154.5 428.4 L156.2 425.1 L158.0 421.9 L160.5 418.0 L163.0 414.1 L164.5 410.7 L166.0 407.3 L167.5 403.9 L169.0 400.5 L172.0 398.3 L175.0 396.1 L178.5 393.6 L182.0 391.2 L184.3 388.0 L186.7 384.7 L189.0 381.5 L192.5 380.1 L196.0 378.0 L200.0 376.0 L204.0 373.1 L206.7 369.5 L209.3 366.0 L212.0 362.4 L216.0 360.0 L220.0 356.7 L222.7 353.9 L225.3 351.1 L228.0 348.4 L230.0 345.4 L232.0 342.4 L234.0 339.5 L236.0 336.5 L240.0 334.2 L244.0 330.7 L246.7 328.0 L249.3 325.3 L252.0 322.6 L254.0 318.9 L256.0 315.2 L258.0 311.5 L260.0 307.8 L262.7 304.7 L265.3 301.5 L268.0 298.4 L272.0 295.3 L276.0 293.3 L278.7 290.1 L281.3 287.0 L284.0 283.8 L288.0 282.4 L292.0 281.3 L296.0 280.7 L300.0 279.5 L303.3 277.8 L306.7 275.6 L310.0 272.7 L315.0 273.2 L320.0 272.9 L324.0 271.3 L328.0 270.7 L332.0 270.3 L335.2 268.0 L338.5 265.8 L341.8 263.5 L345.0 261.3 L348.8 259.5 L352.5 258.5 L356.2 257.8 L360.0 257.2 L363.8 255.5 L367.5 255.5 L371.2 253.7 L375.0 252.3 L378.8 249.3 L382.5 248.4 L386.2 246.0 L390.0 243.7 L393.8 242.6 L397.5 241.8 L401.2 240.1 L405.0 239.4 L408.8 237.8 L412.5 238.2 L416.2 237.0 L420.0 236.5 L423.8 233.9 L427.5 233.8 L431.2 230.6 L435.0 229.2 L438.8 229.4 L442.5 228.7 L446.2 228.8 L450.0 227.6 L453.8 226.6 L457.5 224.8 L461.2 224.6 L465.0 223.1 L468.0 221.7 L471.0 219.4 L474.0 216.6 L477.0 215.5 L480.0 213.4 L483.8 213.4 L487.5 211.6 L491.2 211.5 L495.0 209.9 L498.8 209.3 L502.5 208.0 L506.2 207.3 L510.0 206.4 L513.8 203.5 L517.5 203.0 L521.2 200.2 L525.0 198.4 L528.8 197.8 L532.5 196.9 L536.2 197.6 L540.0 197.3 L543.8 196.6 L547.5 195.2 L551.2 196.0 L555.0 194.9 L558.8 193.0 L562.5 192.0 L566.2 189.4 L570.0 188.2 L573.8 188.6 L577.5 188.5 L581.2 188.1 L585.0 187.8 L588.8 186.8 L592.5 187.2 L596.2 187.0 L600.0 185.9 L603.8 184.1 L607.5 183.2 L611.2 180.8 L615.0 179.4 L618.8 179.4 L622.5 179.0 L626.2 178.3 L630.0 179.2 L633.8 178.0 L637.5 178.0 L641.2 178.4 L645.0 177.8 L648.8 175.8 L652.5 175.7 L656.2 173.3 L660.0 171.9 L663.8 172.4 L667.5 171.1 L671.2 172.3 L675.0 172.1 L678.8 171.4 L682.5 172.4 L686.2 171.3 L690.0 171.0 L694.3 170.7 L698.7 169.4 L703.0 168.9 L703.3 165.1 L703.6 161.3 L704.0 157.6 L704.3 153.8 L704.6 150.0 L705.8 145.2 L707.0 140.3 L707.8 136.3 L708.6 132.2 L709.4 128.2 L710.6 123.4 L711.8 118.6 L714.6 115.8 L717.5 112.9 L720.3 110.1 L724.3 109.7 L728.3 109.3 L732.3 108.9 L736.3 109.6 L740.4 109.4 L744.4 107.7 L748.4 109.0 L752.5 107.8 L756.5 108.5 L760.3 109.0 L764.2 108.3 L768.0 107.3 L771.9 107.2 L775.7 106.5 L778.9 104.1 L782.2 101.7 L785.4 99.3 L788.4 96.3 L791.4 93.3 L795.1 92.3 L798.8 90.3 L802.6 89.3 L806.3 89.0 L810.0 88.0 L813.5 87.8 L817.1 87.0 L820.6 86.5 L824.2 87.2 L827.8 85.1 L831.3 85.9 L834.9 86.0 L838.4 85.4 L842.0 85.1 L845.5 84.0 L849.0 82.7 L852.6 83.4 L856.1 81.8 L859.7 82.1 L863.2 82.2 L866.8 82.3 L870.4 81.7 L873.9 79.9 L877.5 81.1 L881.0 80.0" stroke="#a6a6a6" stroke-width="3.1" stroke-dasharray="3 6.4"/>
<path d="M154.5 433.8 L155.7 429.8 L156.8 425.8 L158.0 421.9 L160.5 418.7 L163.0 415.5 L165.0 411.6 L167.0 407.7 L169.0 403.9 L171.0 400.7 L173.0 397.5 L175.0 394.3 L178.5 392.8 L182.0 391.3 L185.5 388.2 L189.0 385.0 L191.3 382.3 L193.7 379.6 L196.0 376.9 L200.0 376.5 L204.0 374.3 L206.7 371.8 L209.3 369.3 L212.0 366.9 L214.7 363.4 L217.3 360.0 L220.0 356.6 L224.0 353.5 L228.0 350.4 L230.7 347.4 L233.3 344.4 L236.0 341.4 L238.7 337.8 L241.3 334.3 L244.0 330.8 L248.0 327.5 L252.0 325.2 L254.0 322.3 L256.0 319.3 L258.0 316.4 L260.0 313.5 L262.0 309.9 L264.0 306.3 L266.0 302.7 L268.0 299.1 L272.0 297.0 L276.0 295.8 L278.7 293.6 L281.3 291.3 L284.0 289.0 L286.7 286.5 L289.3 284.0 L292.0 281.5 L296.0 281.1 L300.0 281.8 L303.3 280.0 L306.7 278.5 L310.0 277.5 L313.3 275.7 L316.7 275.0 L320.0 273.0 L324.0 272.8 L328.0 273.1 L332.0 272.9 L335.2 271.9 L338.5 269.3 L341.8 267.5 L345.0 266.9 L348.0 265.6 L351.0 262.8 L354.0 260.5 L357.0 259.6 L360.0 257.6 L363.8 257.6 L367.5 256.9 L371.2 254.6 L375.0 254.7 L378.8 252.6 L382.5 251.0 L386.2 250.6 L390.0 248.2 L393.8 245.4 L397.5 243.8 L401.2 241.8 L405.0 239.5 L408.8 240.3 L412.5 240.0 L416.2 239.3 L420.0 239.0 L423.8 238.0 L427.5 236.2 L431.2 235.3 L435.0 233.9 L438.8 232.5 L442.5 230.2 L446.2 229.2 L450.0 226.8 L453.8 225.2 L457.5 226.6 L461.2 225.6 L465.0 224.5 L468.8 221.8 L472.5 219.6 L476.2 218.2 L480.0 216.7 L483.8 214.4 L487.5 212.2 L491.2 209.7 L495.0 207.7 L498.8 207.9 L502.5 207.4 L506.2 207.6 L510.0 206.6 L513.8 205.5 L517.5 203.1 L521.2 201.4 L525.0 200.6 L528.8 199.5 L532.5 198.1 L536.2 196.7 L540.0 194.5 L543.8 194.8 L547.5 194.2 L551.2 193.9 L555.0 194.7 L558.8 193.1 L562.5 192.4 L566.2 192.0 L570.0 190.2 L573.8 188.9 L577.5 187.0 L581.2 186.3 L585.0 184.9 L588.8 184.9 L592.5 185.1 L596.2 184.9 L600.0 185.7 L603.8 185.5 L607.5 184.5 L611.2 181.6 L615.0 181.3 L618.8 179.6 L622.5 178.9 L626.2 177.4 L630.0 176.1 L633.8 176.6 L637.5 177.4 L641.2 177.2 L645.0 177.6 L648.8 177.0 L652.5 175.3 L656.2 175.1 L660.0 174.0 L663.8 173.7 L667.5 172.5 L671.2 170.9 L675.0 169.3 L678.8 169.0 L682.5 170.1 L686.2 170.4 L690.0 170.6 L693.8 169.0 L697.5 168.8 L701.2 168.9 L705.0 167.9 L710.0 168.2 L715.0 167.1 L720.0 164.0 L724.0 166.7 L728.0 167.4 L732.0 169.1 L736.0 171.0 L738.2 167.8 L740.5 164.5 L742.8 161.2 L745.0 158.0 L748.8 156.2 L752.7 154.0 L756.5 152.3 L758.1 149.1 L759.7 145.9 L761.3 142.7 L763.1 139.7 L764.9 136.6 L766.7 133.6 L768.5 130.6 L770.1 126.6 L771.7 122.6 L773.3 118.6 L777.0 115.6 L780.6 113.8 L781.8 110.2 L783.0 106.5 L787.8 104.4 L792.6 102.9 L796.2 101.3 L799.9 100.5 L804.1 99.9 L808.3 98.2 L812.5 97.9 L816.7 96.9 L820.4 95.9 L824.0 93.3 L828.0 92.1 L832.0 90.9 L836.0 90.9 L840.0 89.0 L843.4 88.2 L846.8 87.2 L850.2 85.9 L853.7 85.1 L857.1 85.1 L860.5 84.4 L863.9 82.7 L867.3 82.2 L870.8 80.7 L874.2 81.0 L877.6 79.4 L881.0 79.0" stroke="#a6a6a6" stroke-width="3.1" stroke-dasharray="12.5 6.2"/>
<path d="M154.5 438.4 L156.2 434.4 L158.0 430.4 L159.2 426.7 L160.5 423.0 L161.8 419.3 L163.0 415.6 L165.0 412.0 L167.0 408.3 L169.0 404.7 L172.0 402.0 L175.0 399.3 L177.3 395.9 L179.7 392.4 L182.0 389.0 L185.5 387.6 L189.0 386.3 L192.5 385.4 L196.0 383.3 L198.7 380.2 L201.3 377.0 L204.0 373.8 L208.0 371.2 L212.0 370.1 L216.0 367.9 L220.0 364.9 L222.0 361.6 L224.0 358.2 L226.0 354.9 L228.0 351.6 L232.0 348.5 L236.0 345.4 L240.0 342.4 L244.0 339.4 L246.0 336.4 L248.0 333.4 L250.0 330.3 L252.0 327.3 L254.7 324.6 L257.3 321.9 L260.0 319.2 L262.7 315.8 L265.3 312.5 L268.0 309.1 L270.7 305.3 L273.3 301.5 L276.0 297.8 L280.0 295.0 L284.0 294.0 L288.0 291.5 L292.0 290.5 L294.7 288.0 L297.3 285.5 L300.0 283.0 L305.0 283.2 L310.0 282.0 L315.0 281.2 L320.0 281.8 L324.0 279.6 L328.0 277.3 L332.0 274.9 L336.3 273.3 L340.7 272.9 L345.0 272.9 L348.8 271.0 L352.5 269.1 L356.2 268.5 L360.0 267.2 L363.0 265.0 L366.0 262.7 L369.0 260.5 L372.0 258.2 L375.0 256.0 L378.8 255.9 L382.5 253.6 L386.2 252.5 L390.0 252.2 L393.8 252.0 L397.5 250.2 L401.2 248.8 L405.0 248.4 L408.8 247.2 L412.5 245.1 L416.2 242.6 L420.0 240.3 L423.8 240.1 L427.5 240.0 L431.2 239.8 L435.0 238.3 L438.8 237.9 L442.5 236.4 L446.2 234.1 L450.0 233.7 L453.0 231.6 L456.0 229.5 L459.0 227.4 L462.0 225.4 L465.0 223.3 L468.8 221.8 L472.5 220.1 L476.2 219.4 L480.0 218.4 L483.8 217.0 L487.5 214.8 L491.2 214.3 L495.0 212.2 L498.0 210.6 L501.0 209.4 L504.0 206.2 L507.0 205.8 L510.0 202.9 L513.8 201.6 L517.5 202.1 L521.2 200.1 L525.0 200.2 L528.8 199.5 L532.5 199.4 L536.2 197.3 L540.0 197.6 L543.8 196.4 L547.5 193.5 L551.2 191.3 L555.0 190.2 L558.8 189.1 L562.5 190.5 L566.2 189.6 L570.0 189.8 L573.8 188.6 L577.5 189.5 L581.2 188.4 L585.0 187.9 L588.8 185.7 L592.5 184.7 L596.2 182.6 L600.0 181.1 L603.8 181.8 L607.5 180.5 L611.2 181.6 L615.0 180.7 L618.8 179.7 L622.5 180.6 L626.2 178.9 L630.0 178.6 L633.8 176.8 L637.5 175.1 L641.2 173.6 L645.0 172.8 L648.8 173.9 L652.5 172.7 L656.2 174.6 L660.0 173.9 L663.8 174.0 L667.5 174.1 L671.2 173.7 L675.0 172.4 L678.8 169.9 L682.5 169.6 L686.2 167.7 L690.0 165.1 L693.8 165.1 L697.5 165.1 L701.2 165.1 L705.0 166.1 L708.8 165.7 L712.5 165.1 L716.2 166.2 L720.0 165.5 L723.8 163.5 L727.5 163.1 L731.2 162.8 L735.0 161.1 L738.8 161.7 L742.5 161.2 L746.2 162.6 L750.0 163.1 L753.8 162.3 L757.5 163.9 L761.2 164.3 L765.0 163.4 L768.8 162.9 L772.5 160.8 L776.2 159.8 L780.0 159.4 L785.0 161.4 L787.0 164.0 L788.0 160.2 L789.0 156.5 L790.0 152.8 L791.0 149.0 L792.0 145.5 L793.0 142.0 L794.0 138.5 L795.0 135.0 L796.1 131.6 L797.3 128.2 L798.4 124.8 L799.6 121.4 L800.7 118.0 L806.0 114.0 L809.6 113.8 L813.2 112.6 L816.8 110.7 L820.1 109.7 L823.4 106.8 L826.7 105.3 L830.0 104.0 L833.4 103.7 L836.8 101.2 L840.2 99.7 L843.6 98.6 L847.0 97.9 L850.2 96.1 L853.4 94.4 L856.6 93.9 L859.8 91.0 L863.0 90.0 L866.6 88.8 L870.2 86.7 L873.8 83.7 L877.4 82.8 L881.0 81.0" stroke="#a6a6a6" stroke-width="3.1" stroke-dasharray="16.5 15.5"/>
<path d="M154.5 437.9 L155.7 433.8 L156.8 429.6 L158.0 425.5 L159.7 421.8 L161.3 418.1 L163.0 414.4 L166.0 410.2 L169.0 406.1 L171.0 402.8 L173.0 399.5 L175.0 396.2 L178.5 392.6 L182.0 389.0 L185.5 388.2 L189.0 387.5 L191.3 384.8 L193.7 382.1 L196.0 379.4 L200.0 376.2 L204.0 372.9 L208.0 370.7 L212.0 370.3 L214.7 366.9 L217.3 363.4 L220.0 360.0 L222.7 356.6 L225.3 353.3 L228.0 349.9 L232.0 347.7 L236.0 345.2 L238.7 341.6 L241.3 337.9 L244.0 334.3 L246.7 331.3 L249.3 328.3 L252.0 325.2 L254.7 322.9 L257.3 320.5 L260.0 318.1 L262.0 314.4 L264.0 310.7 L266.0 307.0 L268.0 303.3 L270.7 300.8 L273.3 298.3 L276.0 295.8 L280.0 294.4 L284.0 293.3 L286.7 290.6 L289.3 287.9 L292.0 285.2 L296.0 284.1 L300.0 281.4 L305.0 281.8 L310.0 281.6 L313.3 279.4 L316.7 277.4 L320.0 276.6 L324.0 275.9 L328.0 274.2 L332.0 272.9 L336.3 273.1 L340.7 272.9 L345.0 271.7 L348.0 269.7 L351.0 267.6 L354.0 265.6 L357.0 263.6 L360.0 261.6 L363.8 259.9 L367.5 258.6 L371.2 255.5 L375.0 254.4 L378.8 253.0 L382.5 254.1 L386.2 252.9 L390.0 252.0 L393.8 249.8 L397.5 247.2 L401.2 244.7 L405.0 243.1 L408.8 242.6 L412.5 241.3 L416.2 238.9 L420.0 238.7 L423.8 238.0 L427.5 239.3 L431.2 238.9 L435.0 237.9 L438.8 235.0 L442.5 234.2 L446.2 230.9 L450.0 229.3 L453.8 228.0 L457.5 227.1 L461.2 224.8 L465.0 223.0 L468.8 221.2 L472.5 221.2 L476.2 220.5 L480.0 219.4 L483.0 217.3 L486.0 215.2 L489.0 213.1 L492.0 211.1 L495.0 209.0 L498.8 207.4 L502.5 206.6 L506.2 205.5 L510.0 203.9 L513.8 203.9 L517.5 203.8 L521.2 202.9 L525.0 202.2 L528.8 200.8 L532.5 198.4 L536.2 196.9 L540.0 195.1 L543.8 195.1 L547.5 193.6 L551.2 193.2 L555.0 191.6 L558.8 192.3 L562.5 192.0 L566.2 192.3 L570.0 191.8 L573.8 191.2 L577.5 188.6 L581.2 186.3 L585.0 185.4 L588.8 184.6 L592.5 183.8 L596.2 182.3 L600.0 182.6 L603.8 182.3 L607.5 181.8 L611.2 182.3 L615.0 182.8 L618.8 181.1 L622.5 178.7 L626.2 177.1 L630.0 176.3 L633.8 176.1 L637.5 176.1 L641.2 175.3 L645.0 174.4 L648.8 174.8 L652.5 174.5 L656.2 176.3 L660.0 175.7 L663.8 174.6 L667.5 172.6 L671.2 171.0 L675.0 169.8 L678.8 169.5 L682.5 168.1 L686.2 167.6 L690.0 167.1 L693.8 167.8 L697.5 168.5 L701.2 168.7 L705.0 168.8 L708.8 167.5 L712.5 167.0 L716.2 165.1 L720.0 164.1 L723.8 163.7 L727.5 164.4 L731.2 164.4 L735.0 163.9 L738.8 165.3 L742.5 166.0 L746.2 165.6 L750.0 166.4 L753.8 165.5 L757.5 164.5 L761.2 162.9 L765.0 162.4 L765.0 163.7 L769.0 159.0 L771.2 155.8 L773.4 152.5 L775.8 149.3 L778.2 146.1 L780.6 142.9 L783.0 139.7 L784.6 136.0 L786.2 132.3 L787.9 128.7 L789.5 125.0 L794.3 120.0 L797.5 116.5 L800.7 113.0 L803.8 112.0 L806.9 109.9 L810.0 108.0 L813.9 106.7 L817.9 105.8 L821.8 104.5 L825.8 102.5 L829.7 101.0 L833.2 99.5 L836.8 100.0 L840.3 99.6 L843.9 98.3 L847.4 97.9 L851.4 95.6 L855.4 95.4 L859.4 92.0 L863.4 91.0 L866.9 88.4 L870.4 86.5 L874.0 85.1 L877.5 84.5 L881.0 82.0" stroke="#a6a6a6" stroke-width="3.1" stroke-dasharray="17.5 14.5 4 14.5"/>
</g>
<g stroke="#0a0a0a" stroke-width="2.3" fill="none">
<rect x="154.4" y="17" width="727" height="448.6" stroke-width="2.6"/>
<path d="M141.6 17H154.4 M144.6 39.4H154.4 M144.6 61.9H154.4 M144.6 84.3H154.4 M141.6 106.7H154.4 M144.6 129.2H154.4 M144.6 151.6H154.4 M144.6 174H154.4 M141.6 196.4H154.4 M144.6 218.9H154.4 M144.6 241.3H154.4 M144.6 263.7H154.4 M141.6 286.2H154.4 M144.6 308.6H154.4 M144.6 331H154.4 M144.6 353.5H154.4 M141.6 375.9H154.4 M144.6 398.3H154.4 M144.6 420.7H154.4 M144.6 443.2H154.4 M141.6 465.6H154.4 M154.4 465.6V478.2 M190.7 465.6V475 M227 465.6V475 M263.3 465.6V475 M299.6 465.6V478.2 M336 465.6V475 M372.3 465.6V475 M408.6 465.6V475 M444.9 465.6V478.2 M481.2 465.6V475 M517.5 465.6V475 M553.8 465.6V475 M590.1 465.6V478.2 M626.4 465.6V475 M662.7 465.6V475 M699.1 465.6V475 M735.4 465.6V478.2 M771.7 465.6V475 M808 465.6V475 M844.3 465.6V475 M880.6 465.6V478.2" stroke-width="2.3"/>
</g>
<g fill="#111" font-family='"Liberation Sans", sans-serif'>
<text x="127.8" y="27.2" font-size="32.5" text-anchor="end" textLength="18.6" lengthAdjust="spacingAndGlyphs">0</text>
<text x="127.8" y="116.9" font-size="32.5" text-anchor="end" textLength="67.5" lengthAdjust="spacingAndGlyphs">–0.1</text>
<text x="127.8" y="206.6" font-size="32.5" text-anchor="end" textLength="67.5" lengthAdjust="spacingAndGlyphs">–0.2</text>
<text x="127.8" y="296.4" font-size="32.5" text-anchor="end" textLength="67.5" lengthAdjust="spacingAndGlyphs">–0.3</text>
<text x="127.8" y="386.1" font-size="32.5" text-anchor="end" textLength="67.5" lengthAdjust="spacingAndGlyphs">–0.4</text>
<text x="127.8" y="475.8" font-size="32.5" text-anchor="end" textLength="67.5" lengthAdjust="spacingAndGlyphs">–0.5</text>
<text x="154.4" y="515" font-size="32.5" text-anchor="middle">0</text>
<text x="299.6" y="515" font-size="32.5" text-anchor="middle" textLength="83" lengthAdjust="spacingAndGlyphs">2,000</text>
<text x="444.9" y="515" font-size="32.5" text-anchor="middle" textLength="83" lengthAdjust="spacingAndGlyphs">4,000</text>
<text x="590.1" y="515" font-size="32.5" text-anchor="middle" textLength="83" lengthAdjust="spacingAndGlyphs">6,000</text>
<text x="735.4" y="515" font-size="32.5" text-anchor="middle" textLength="83" lengthAdjust="spacingAndGlyphs">8,000</text>
<text x="880.6" y="515" font-size="32.5" text-anchor="middle" textLength="98" lengthAdjust="spacingAndGlyphs">10,000</text>
<text x="525.2" y="569.5" font-size="31.5" text-anchor="middle" textLength="207" lengthAdjust="spacingAndGlyphs">Distance (µm)</text>
<text x="173.6" y="65.6" font-size="33">(a)</text>
<g transform="translate(27.8 236.8) rotate(-90)">
<text x="0" y="0" font-size="32" text-anchor="middle" textLength="221" lengthAdjust="spacingAndGlyphs">Potential (V<tspan font-size="20" dy="11">SHE</tspan><tspan dy="-11">)</tspan></text>
</g>
</g>
<g fill="#111" font-family='"Liberation Sans", sans-serif'>
<text x="636" y="278.7" font-size="27" textLength="234.5" lengthAdjust="spacingAndGlyphs">Measured time (h)</text>
<text x="568.5" y="318.8" font-size="27">1</text>
<text x="568.5" y="351.2" font-size="27">4</text>
<text x="568.5" y="384" font-size="27">7</text>
<text x="568.5" y="416.8" font-size="27">10</text>
<text x="699.5" y="318.8" font-size="27">13</text>
<text x="699.5" y="351.2" font-size="27">16</text>
<text x="699.5" y="384" font-size="27">19</text>
<text x="699.5" y="416.8" font-size="27">22</text>
<text x="840" y="318.8" font-size="27">25</text>
<text x="840" y="351.2" font-size="27">28</text>
<text x="840" y="384" font-size="27">31</text>
<text x="840" y="416.8" font-size="27">34</text>
<text x="840" y="455.4" font-size="27">37</text>
</g>
<line x1="480.9" y1="307.4" x2="562" y2="307.4" stroke="#000" stroke-width="4.2"/>
<line x1="480.9" y1="340.3" x2="562" y2="340.3" stroke="#000" stroke-width="4.2" stroke-dasharray="3.2 6.2"/>
<line x1="480.9" y1="369.9" x2="562" y2="369.9" stroke="#000" stroke-width="4.2" stroke-dasharray="12.5 6.2"/>
<line x1="480.9" y1="406.9" x2="562" y2="406.9" stroke="#000" stroke-width="4.2" stroke-dasharray="16.5 15.5"/>
<line x1="610.9" y1="307.4" x2="691" y2="307.4" stroke="#000" stroke-width="4.2" stroke-dasharray="17.5 14.5 4 14.5"/>
<line x1="610.9" y1="340.3" x2="691" y2="340.3" stroke="#000" stroke-width="4.2" stroke-dasharray="36 14.5"/>
<line x1="610.9" y1="369.9" x2="691" y2="369.9" stroke="#000" stroke-width="4.2" stroke-dasharray="36 14.5 4 14.5"/>
<line x1="610.9" y1="406.9" x2="691" y2="406.9" stroke="#000" stroke-width="4.2" stroke-dasharray="36 14.5 4 14.5 4 14.5"/>
<line x1="754.5" y1="307.4" x2="834" y2="307.4" stroke="#a3a3a3" stroke-width="4.2"/>
<line x1="754.5" y1="340.3" x2="834" y2="340.3" stroke="#a3a3a3" stroke-width="4.2" stroke-dasharray="3.2 6.2"/>
<line x1="754.5" y1="369.9" x2="834" y2="369.9" stroke="#a3a3a3" stroke-width="4.2" stroke-dasharray="12.5 6.2"/>
<line x1="754.5" y1="406.9" x2="834" y2="406.9" stroke="#a3a3a3" stroke-width="4.2" stroke-dasharray="16.5 15.5"/>
<line x1="754.5" y1="446" x2="834" y2="446" stroke="#a3a3a3" stroke-width="4.2" stroke-dasharray="17.5 14.5 4 14.5"/>
<clipPath id="clip1"><rect x="149.6" y="631.3" width="730.2" height="443.8"/></clipPath>
<g clip-path="url(#clip1)" fill="none" stroke-linejoin="round">
<path d="M149.8 989.3 L153.0 986.0 L156.0 980.2 L156.5 976.5 L156.9 972.9 L157.4 969.2 L157.8 965.5 L158.3 961.8 L158.8 958.1 L159.2 954.5 L159.7 950.8 L160.1 947.1 L160.4 943.5 L160.8 939.8 L161.1 936.2 L161.5 932.5 L161.9 928.8 L162.2 925.2 L162.6 921.5 L162.9 917.9 L163.3 914.2 L163.6 910.5 L163.9 906.9 L164.1 903.2 L164.4 899.5 L164.7 895.9 L165.0 892.2 L165.3 888.5 L165.5 884.8 L165.8 881.2 L166.1 877.5 L166.3 873.8 L166.5 870.2 L166.6 866.5 L166.8 862.8 L167.0 859.1 L167.2 855.5 L167.4 851.8 L167.5 848.1 L167.7 844.5 L167.9 840.8 L168.3 836.9 L168.7 832.9 L169.1 829.0 L169.5 825.1 L169.9 821.2 L170.3 817.2 L170.7 813.3 L171.2 809.4 L171.8 805.4 L172.3 801.5 L172.8 797.6 L173.3 793.7 L173.9 789.7 L174.4 785.8 L175.3 782.1 L176.2 778.5 L177.1 774.9 L178.0 771.2 L179.8 768.0 L181.7 764.8 L183.6 761.5 L185.4 758.3 L188.6 756.1 L191.8 753.8 L195.0 751.6 L198.2 749.5 L201.5 747.1 L204.7 745.2 L207.9 743.4 L211.1 740.6 L214.3 738.8 L218.2 738.0 L222.0 736.6 L225.9 735.7 L229.7 735.3 L233.6 734.0 L237.5 732.8 L241.3 732.1 L245.2 731.0 L249.0 730.0 L252.9 729.1 L256.8 727.5 L260.6 725.7 L264.5 724.6 L268.3 722.4 L272.2 721.1 L276.1 720.3 L279.9 719.5 L283.8 719.0 L287.6 718.5 L291.5 717.9 L295.4 717.9 L299.2 717.2 L303.1 716.6 L306.9 716.4 L310.8 716.3 L314.4 716.3 L318.0 715.2 L321.5 715.3 L325.1 714.7 L328.7 714.6 L332.3 714.0 L335.8 713.9 L339.4 713.4 L343.0 713.0 L346.6 712.6 L350.1 712.2 L353.7 711.5 L357.2 710.6 L360.8 710.0 L364.3 710.1 L367.9 709.3 L371.4 708.5 L375.0 708.2 L378.6 708.2 L382.2 707.5 L385.7 707.3 L389.3 707.1 L392.9 706.3 L396.5 706.0 L400.0 706.0 L403.6 705.1 L407.2 705.0 L410.8 705.1 L414.3 704.4 L417.9 704.7 L421.5 704.6 L425.0 704.7 L428.6 704.5 L432.2 704.1 L435.7 703.7 L439.3 703.5 L442.9 703.7 L446.4 703.5 L450.0 703.4 L453.6 703.0 L457.2 703.5 L460.8 703.1 L464.4 703.1 L468.0 702.6 L471.6 702.5 L475.2 702.2 L478.8 702.4 L482.4 702.2 L486.0 702.2 L489.6 702.0 L493.2 702.3 L496.8 702.2 L500.4 701.5 L504.0 701.6 L507.6 701.3 L511.2 701.6 L514.8 701.7 L518.4 701.0 L522.0 701.3 L525.6 700.8 L529.2 700.5 L532.8 700.9 L536.4 700.5 L540.0 700.5 L543.6 700.2 L547.1 700.4 L550.7 700.2 L554.3 700.4 L557.9 700.4 L561.4 700.3 L565.0 700.4 L568.6 700.2 L572.1 700.0 L575.7 700.0 L579.3 700.0 L582.9 700.3 L586.4 700.2 L590.0 700.5 L593.6 700.2 L597.1 700.4 L600.7 700.6 L604.3 699.8 L607.9 699.8 L611.4 699.9 L615.0 700.0 L618.6 700.2 L622.1 700.3 L625.7 700.0 L629.3 700.4 L632.9 699.7 L636.4 700.3 L640.0 700.0 L643.6 699.8 L647.1 700.4 L650.7 699.7 L654.3 700.5 L657.9 700.4 L661.4 700.6 L665.0 700.3 L668.6 700.0 L672.1 700.7 L675.7 700.3 L679.3 700.1 L682.9 700.5 L686.4 700.5 L690.0 700.5 L693.6 700.3 L697.1 700.3 L700.7 700.7 L704.3 700.6 L707.9 700.4 L711.4 700.7 L715.0 700.9 L718.6 701.0 L722.1 700.8 L725.7 700.8 L729.3 700.8 L732.9 700.7 L736.4 700.7 L740.0 701.0 L743.5 701.0 L747.0 700.7 L750.5 701.2 L754.0 701.3 L757.5 701.2 L761.0 700.8 L764.5 701.1 L768.0 701.1 L771.5 700.9 L775.0 701.6 L778.5 701.5 L782.0 701.3 L785.5 701.5 L789.0 701.1 L792.5 701.2 L796.0 701.4 L799.5 701.6 L803.0 701.6 L806.5 701.1 L810.0 701.6 L813.5 701.8 L817.0 701.7 L820.5 701.9 L824.0 702.0 L827.5 701.4 L831.0 701.5 L834.5 701.7 L838.0 702.1 L841.5 701.6 L845.0 702.1 L848.5 702.0 L852.0 701.8 L855.5 701.9 L859.0 702.2 L862.5 702.1 L866.0 701.7 L869.5 702.2 L873.0 701.7 L876.5 701.9 L880.0 702.0" stroke="#050505" stroke-width="3.3"/>
<path d="M149.6 1015.0 L153.3 1015.0 L157.0 1015.0 L160.7 1015.0 L164.4 1015.0 L165.6 1011.1 L166.8 1007.2 L168.0 1003.2 L169.2 999.3 L170.3 995.4 L170.6 991.6 L170.8 987.8 L171.0 984.0 L171.2 980.2 L171.5 976.4 L171.7 972.6 L171.9 968.8 L172.1 965.0 L172.3 961.2 L172.6 957.4 L172.8 953.6 L173.1 949.9 L173.3 946.3 L173.6 942.6 L173.9 938.9 L174.1 935.2 L174.4 931.6 L174.7 927.9 L175.0 924.2 L175.2 920.6 L175.5 916.9 L175.8 913.2 L176.1 909.6 L176.4 905.9 L176.7 902.2 L177.0 898.6 L177.3 894.9 L177.6 891.3 L177.9 887.6 L178.2 883.9 L178.5 880.3 L178.8 876.5 L179.0 872.8 L179.3 869.1 L179.5 865.4 L179.8 861.7 L180.0 857.9 L180.3 854.2 L180.5 850.5 L180.8 846.8 L181.1 843.0 L181.4 839.2 L181.8 835.4 L182.1 831.6 L182.4 827.9 L182.8 824.1 L183.1 820.3 L183.5 816.5 L183.9 812.6 L184.4 808.7 L184.9 804.7 L185.4 800.8 L185.9 796.9 L186.4 792.9 L186.8 789.0 L187.9 785.2 L188.9 781.5 L190.0 777.7 L191.0 773.9 L193.4 770.1 L195.8 766.2 L198.2 762.4 L201.3 760.2 L204.5 758.0 L207.7 755.8 L210.8 753.5 L214.0 751.3 L217.2 749.7 L220.3 747.9 L223.5 746.6 L226.7 744.5 L229.8 743.0 L233.0 741.3 L236.8 740.0 L240.7 739.0 L244.5 738.2 L248.3 736.4 L252.2 735.6 L256.0 734.5 L259.8 733.5 L263.6 732.8 L267.3 732.6 L271.1 731.3 L274.9 730.8 L278.7 729.9 L282.4 729.4 L286.2 728.4 L290.0 727.7 L293.5 727.0 L297.1 726.8 L300.6 726.3 L304.1 726.1 L307.7 725.5 L311.2 724.7 L314.7 724.6 L318.3 723.9 L321.8 723.6 L325.3 722.9 L328.9 722.6 L332.4 722.4 L335.9 721.8 L339.5 721.5 L343.0 720.9 L346.6 720.7 L350.1 720.3 L353.7 720.0 L357.2 719.6 L360.8 719.4 L364.4 719.2 L367.9 718.4 L371.5 718.8 L375.1 718.0 L378.6 717.5 L382.2 717.2 L385.8 717.1 L389.3 716.6 L392.9 716.5 L396.4 716.2 L400.0 716.0 L403.6 715.8 L407.1 715.4 L410.7 715.5 L414.3 715.0 L417.9 714.4 L421.4 714.6 L425.0 714.1 L428.6 714.1 L432.1 713.6 L435.7 713.5 L439.3 712.6 L442.9 712.4 L446.4 712.7 L450.0 712.0 L453.6 711.6 L457.2 712.2 L460.8 712.2 L464.4 711.6 L468.0 711.5 L471.6 712.1 L475.2 712.1 L478.8 711.9 L482.4 711.8 L486.0 711.8 L489.6 711.4 L493.2 711.1 L496.8 711.5 L500.4 711.7 L504.0 711.7 L507.6 711.3 L511.2 710.9 L514.8 711.0 L518.4 711.1 L522.0 710.9 L525.6 710.7 L529.2 710.8 L532.8 711.0 L536.4 710.7 L540.0 710.9 L543.6 710.6 L547.1 710.6 L550.7 710.4 L554.3 711.0 L557.9 711.0 L561.4 710.4 L565.0 710.7 L568.6 710.9 L572.1 710.3 L575.7 710.3 L579.3 710.7 L582.9 710.6 L586.4 710.4 L590.0 710.5 L593.6 710.3 L597.1 710.1 L600.7 710.3 L604.3 710.3 L607.9 709.7 L611.4 709.9 L615.0 709.8 L618.6 710.2 L622.1 709.7 L625.7 710.0 L629.3 709.7 L632.9 709.7 L636.4 709.7 L640.0 709.7 L643.6 709.9 L647.1 709.7 L650.7 709.5 L654.3 709.2 L657.9 709.3 L661.4 709.4 L665.0 709.5 L668.6 709.7 L672.1 709.2 L675.7 709.6 L679.3 709.5 L682.9 709.1 L686.4 708.9 L690.0 708.9 L693.6 709.4 L697.1 708.8 L700.7 709.1 L704.3 709.1 L707.9 708.6 L711.4 708.5 L715.0 708.9 L718.6 708.4 L722.1 708.8 L725.7 709.1 L729.3 708.6 L732.9 708.5 L736.4 708.3 L740.0 708.5 L743.5 708.4 L747.0 708.3 L750.5 708.2 L754.0 708.6 L757.5 708.5 L761.0 708.5 L764.5 708.0 L768.0 708.1 L771.5 708.6 L775.0 707.9 L778.5 708.1 L782.0 708.4 L785.5 708.0 L789.0 707.9 L792.5 708.2 L796.0 707.9 L799.5 707.9 L803.0 707.9 L806.5 707.8 L810.0 708.1 L813.5 708.1 L817.0 708.1 L820.5 708.3 L824.0 707.5 L827.5 707.6 L831.0 708.2 L834.5 708.0 L838.0 707.9 L841.5 707.5 L845.0 707.4 L848.5 707.5 L852.0 707.9 L855.5 707.8 L859.0 707.5 L862.5 707.7 L866.0 707.7 L869.5 707.3 L873.0 707.2 L876.5 707.7 L880.0 707.4" stroke="#050505" stroke-width="3.3" stroke-dasharray="3 6.4"/>
<path d="M149.6 1050.0 L153.7 1050.0 L157.8 1050.0 L161.8 1050.0 L165.9 1050.0 L167.9 1046.1 L169.9 1042.2 L170.1 1038.6 L170.2 1035.0 L170.4 1031.4 L170.5 1027.7 L170.6 1024.1 L170.8 1020.5 L170.9 1016.8 L171.1 1013.2 L171.2 1009.6 L171.4 1005.9 L171.5 1002.3 L171.7 998.7 L171.8 995.0 L172.0 991.4 L172.2 987.8 L172.4 984.2 L172.6 980.6 L172.8 977.0 L173.0 973.4 L173.2 969.8 L173.4 966.2 L173.6 962.6 L173.8 959.0 L174.0 955.4 L174.2 951.8 L174.4 948.1 L174.7 944.4 L175.0 940.8 L175.2 937.1 L175.5 933.4 L175.8 929.7 L176.1 926.1 L176.3 922.4 L176.6 918.7 L176.9 915.1 L177.2 911.4 L177.5 907.7 L177.8 904.1 L178.1 900.4 L178.4 896.7 L178.8 893.1 L179.1 889.4 L179.4 885.7 L179.7 882.1 L180.0 878.4 L180.3 874.8 L180.5 871.2 L180.8 867.6 L181.0 863.9 L181.3 860.3 L181.6 856.7 L181.8 853.1 L182.1 849.5 L182.3 845.9 L182.7 842.3 L183.0 838.8 L183.3 835.2 L183.7 831.6 L184.0 828.1 L184.3 824.5 L184.7 821.0 L185.0 817.4 L185.5 813.5 L186.0 809.6 L186.4 805.7 L186.9 801.7 L187.4 797.8 L187.8 793.9 L188.3 789.9 L189.3 786.4 L190.2 782.8 L191.2 779.3 L192.1 775.7 L193.9 772.7 L195.7 769.6 L197.5 766.6 L199.2 763.6 L202.9 761.5 L206.6 758.8 L210.3 757.6 L214.0 755.2 L217.2 753.0 L220.3 751.9 L223.5 751.4 L226.7 747.8 L229.8 746.7 L233.0 745.5 L236.8 744.8 L240.7 742.3 L244.5 741.3 L248.3 741.7 L252.2 740.8 L256.0 738.6 L259.8 737.5 L263.6 736.4 L267.3 737.4 L271.1 735.2 L274.9 735.1 L278.7 734.3 L282.4 733.6 L286.2 733.5 L290.0 731.8 L293.5 732.4 L297.1 731.3 L300.6 731.1 L304.1 730.6 L307.7 729.8 L311.2 728.9 L314.7 728.0 L318.3 727.6 L321.8 728.6 L325.3 727.6 L328.9 725.9 L332.4 727.2 L335.9 725.3 L339.5 725.8 L343.0 724.9 L346.6 724.5 L350.1 723.8 L353.7 723.3 L357.2 723.8 L360.8 723.1 L364.4 723.3 L367.9 723.2 L371.5 723.1 L375.1 722.9 L378.6 722.1 L382.2 722.5 L385.8 721.2 L389.3 721.7 L392.9 721.3 L396.4 721.0 L400.0 720.0 L403.6 718.8 L407.1 719.5 L410.7 719.1 L414.3 717.9 L417.9 718.2 L421.4 718.3 L425.0 716.9 L428.6 716.6 L432.1 717.6 L435.7 716.9 L439.3 717.9 L442.9 717.3 L446.4 717.0 L450.0 716.0 L453.6 716.6 L457.2 715.3 L460.8 716.4 L464.4 715.0 L468.0 715.0 L471.6 715.5 L475.2 715.2 L478.8 714.7 L482.4 715.8 L486.0 716.7 L489.6 714.8 L493.2 715.1 L496.8 716.6 L500.4 715.7 L504.0 715.5 L507.6 715.4 L511.2 716.2 L514.8 715.4 L518.4 715.3 L522.0 715.1 L525.6 716.0 L529.2 714.3 L532.8 715.2 L536.4 715.7 L540.0 715.3 L543.6 714.2 L547.1 714.8 L550.7 714.9 L554.3 715.5 L557.9 715.2 L561.4 715.1 L565.0 714.6 L568.6 714.8 L572.1 715.9 L575.7 714.1 L579.3 714.0 L582.9 714.1 L586.4 713.8 L590.0 714.0 L593.6 714.3 L597.1 715.2 L600.7 715.6 L604.3 713.5 L607.9 714.5 L611.4 713.9 L615.0 715.3 L618.6 715.5 L622.1 714.8 L625.7 713.3 L629.3 714.3 L632.9 714.1 L636.4 714.3 L640.0 714.2 L643.6 713.5 L647.1 713.0 L650.7 714.3 L654.3 714.7 L657.9 713.6 L661.4 713.7 L665.0 712.9 L668.6 713.9 L672.1 714.5 L675.7 713.7 L679.3 712.9 L682.9 712.8 L686.4 714.4 L690.0 714.1 L693.6 713.0 L697.1 713.6 L700.7 712.7 L704.3 713.6 L707.9 712.4 L711.4 712.9 L715.0 713.3 L718.6 713.2 L722.1 712.8 L725.7 713.6 L729.3 712.6 L732.9 713.8 L736.4 713.8 L740.0 713.1 L743.5 713.2 L747.0 714.0 L750.5 712.4 L754.0 714.0 L757.5 712.0 L761.0 713.1 L764.5 712.2 L768.0 712.0 L771.5 712.3 L775.0 712.5 L778.5 711.7 L782.0 712.3 L785.5 713.7 L789.0 713.4 L792.5 713.0 L796.0 713.7 L799.5 712.6 L803.0 713.2 L806.5 713.4 L810.0 712.6 L813.5 712.5 L817.0 711.7 L820.5 713.4 L824.0 712.1 L827.5 711.7 L831.0 711.8 L834.5 713.0 L838.0 711.9 L841.5 712.7 L845.0 712.6 L848.5 713.2 L852.0 712.9 L855.5 713.2 L859.0 711.5 L862.5 711.1 L866.0 711.1 L869.5 711.4 L873.0 711.1 L876.5 711.2 L880.0 712.0" stroke="#050505" stroke-width="3.3" stroke-dasharray="12.5 6.2"/>
<path d="M149.6 1055.0 L153.3 1055.0 L157.0 1055.0 L160.7 1055.0 L164.4 1055.0 L168.1 1055.0 L169.5 1051.0 L170.8 1047.0 L172.1 1043.0 L172.3 1039.3 L172.4 1035.5 L172.6 1031.8 L172.7 1028.1 L172.9 1024.3 L173.0 1020.6 L173.1 1016.9 L173.3 1013.1 L173.4 1009.4 L173.6 1005.7 L173.7 1001.9 L173.9 998.2 L174.0 994.5 L174.2 991.0 L174.4 987.5 L174.5 984.0 L174.7 980.5 L174.9 977.0 L175.0 973.5 L175.2 970.0 L175.4 966.5 L175.5 963.0 L175.7 959.5 L175.9 956.0 L176.1 952.5 L176.2 949.0 L176.5 945.4 L176.8 941.7 L177.0 938.0 L177.3 934.3 L177.6 930.7 L177.8 927.0 L178.1 923.3 L178.4 919.7 L178.6 916.0 L178.9 912.3 L179.2 908.7 L179.6 905.0 L179.9 901.3 L180.2 897.7 L180.6 894.0 L180.9 890.3 L181.2 886.7 L181.6 883.0 L181.9 879.3 L182.2 875.7 L182.5 871.8 L182.8 867.9 L183.1 864.0 L183.4 860.1 L183.7 856.2 L184.1 852.3 L184.4 848.4 L184.7 844.5 L185.0 840.8 L185.4 837.1 L185.8 833.5 L186.2 829.8 L186.6 826.2 L187.0 822.5 L187.4 818.8 L187.8 814.9 L188.3 811.0 L188.7 807.0 L189.2 803.1 L189.6 799.2 L190.1 795.2 L190.5 791.3 L191.6 787.0 L192.7 782.8 L193.8 778.5 L195.5 775.2 L197.3 771.9 L199.1 768.6 L200.8 765.3 L204.1 763.7 L207.4 763.1 L210.7 760.6 L214.0 760.4 L217.2 760.0 L220.3 758.1 L223.5 757.0 L226.7 753.9 L229.8 752.2 L233.0 751.4 L236.8 749.2 L240.7 748.4 L244.5 746.8 L248.3 747.1 L252.2 745.2 L256.0 744.4 L259.8 744.3 L263.6 743.4 L267.3 741.7 L271.1 740.5 L274.9 740.1 L278.7 738.7 L282.4 739.3 L286.2 737.5 L290.0 737.4 L293.5 736.1 L297.1 737.3 L300.6 735.8 L304.1 736.5 L307.7 736.1 L311.2 734.9 L314.7 733.6 L318.3 732.9 L321.8 732.6 L325.3 733.2 L328.9 732.3 L332.4 731.3 L335.9 730.3 L339.5 730.5 L343.0 730.4 L346.6 729.8 L350.1 728.8 L353.7 728.9 L357.2 728.7 L360.8 728.6 L364.4 728.5 L367.9 728.3 L371.5 728.7 L375.1 727.1 L378.6 726.4 L382.2 726.5 L385.8 726.0 L389.3 726.5 L392.9 726.0 L396.4 725.3 L400.0 725.4 L403.6 724.2 L407.1 725.4 L410.7 724.8 L414.3 724.5 L417.9 724.4 L421.4 724.5 L425.0 722.4 L428.6 722.4 L432.1 722.8 L435.7 723.0 L439.3 722.3 L442.9 722.0 L446.4 721.3 L450.0 721.4 L453.6 720.8 L457.2 722.2 L460.8 722.5 L464.4 721.4 L468.0 721.3 L471.6 720.6 L475.2 721.6 L478.8 720.7 L482.4 721.6 L486.0 720.9 L489.6 721.3 L493.2 722.2 L496.8 720.9 L500.4 721.4 L504.0 721.0 L507.6 721.3 L511.2 722.2 L514.8 721.3 L518.4 722.4 L522.0 721.1 L525.6 721.2 L529.2 721.7 L532.8 721.3 L536.4 721.7 L540.0 721.3 L543.6 720.8 L547.1 720.2 L550.7 721.1 L554.3 720.2 L557.9 720.6 L561.4 721.3 L565.0 721.5 L568.6 721.9 L572.1 721.4 L575.7 721.1 L579.3 720.6 L582.9 720.8 L586.4 720.4 L590.0 719.9 L593.6 720.9 L597.1 721.0 L600.7 720.3 L604.3 721.2 L607.9 720.7 L611.4 720.2 L615.0 721.3 L618.6 719.5 L622.1 720.0 L625.7 720.1 L629.3 720.8 L632.9 719.8 L636.4 721.4 L640.0 720.3 L643.6 719.4 L647.1 720.1 L650.7 720.1 L654.3 720.7 L657.9 719.6 L661.4 719.4 L665.0 720.6 L668.6 720.7 L672.1 720.2 L675.7 720.8 L679.3 719.7 L682.9 719.8 L686.4 719.8 L690.0 719.0 L693.6 720.5 L697.1 718.8 L700.7 718.8 L704.3 720.6 L707.9 719.5 L711.4 718.8 L715.0 720.4 L718.6 718.8 L722.1 719.4 L725.7 718.4 L729.3 718.6 L732.9 719.3 L736.4 719.8 L740.0 719.3 L743.5 718.5 L747.0 719.8 L750.5 719.6 L754.0 719.6 L757.5 720.2 L761.0 719.1 L764.5 718.0 L768.0 718.1 L771.5 719.9 L775.0 718.2 L778.5 718.5 L782.0 719.3 L785.5 719.5 L789.0 719.5 L792.5 719.1 L796.0 718.5 L799.5 719.8 L803.0 717.8 L806.5 718.3 L810.0 719.9 L813.5 718.1 L817.0 719.5 L820.5 719.0 L824.0 719.0 L827.5 719.0 L831.0 718.5 L834.5 719.4 L838.0 717.6 L841.5 718.1 L845.0 719.1 L848.5 719.0 L852.0 718.8 L855.5 718.9 L859.0 718.0 L862.5 718.6 L866.0 718.6 L869.5 719.1 L873.0 717.8 L876.5 717.8 L880.0 718.3" stroke="#050505" stroke-width="3.3" stroke-dasharray="16.5 15.5"/>
<path d="M149.6 1045.0 L153.5 1045.0 L157.4 1045.0 L161.3 1045.0 L165.2 1045.0 L165.6 1041.4 L166.0 1037.9 L166.4 1034.3 L166.9 1030.8 L167.3 1027.2 L167.7 1023.7 L168.1 1020.1 L168.6 1016.6 L169.0 1013.0 L169.4 1009.4 L169.8 1005.9 L170.2 1002.3 L170.7 998.8 L171.1 995.2 L171.3 991.7 L171.5 988.1 L171.7 984.6 L171.9 981.0 L172.1 977.5 L172.3 974.0 L172.5 970.4 L172.7 966.9 L172.9 963.3 L173.1 959.8 L173.3 956.2 L173.5 952.7 L173.8 949.0 L174.0 945.3 L174.3 941.7 L174.6 938.0 L174.8 934.3 L175.1 930.7 L175.4 927.0 L175.6 923.3 L175.9 919.6 L176.2 916.0 L176.5 912.3 L176.8 908.7 L177.1 905.0 L177.4 901.3 L177.7 897.7 L178.0 894.0 L178.3 890.3 L178.7 886.7 L179.0 883.0 L179.3 879.3 L179.5 875.7 L179.8 872.0 L180.0 868.3 L180.3 864.7 L180.5 861.0 L180.8 857.3 L181.0 853.7 L181.3 850.0 L181.5 846.3 L181.9 842.7 L182.2 839.0 L182.6 835.3 L182.9 831.6 L183.2 828.0 L183.6 824.3 L183.9 820.6 L184.2 817.0 L184.7 813.1 L185.2 809.1 L185.7 805.2 L186.1 801.3 L186.6 797.3 L187.1 793.4 L187.6 789.5 L188.6 785.8 L189.6 782.1 L190.6 778.5 L191.6 774.8 L194.0 770.9 L196.3 766.9 L198.7 763.0 L201.2 760.0 L203.8 757.0 L206.3 754.1 L208.9 751.1 L211.4 748.1 L214.0 745.2 L217.2 743.2 L220.3 741.7 L223.5 739.9 L226.7 738.2 L229.8 736.9 L233.0 734.5 L236.8 734.4 L240.7 732.6 L244.5 731.8 L248.3 730.1 L252.2 728.8 L256.0 727.7 L259.8 727.7 L263.6 727.4 L267.3 725.7 L271.1 725.1 L274.9 723.1 L278.7 724.1 L282.4 722.9 L286.2 722.2 L290.0 721.2 L293.5 720.0 L297.1 720.4 L300.6 720.0 L304.1 718.6 L307.7 718.7 L311.2 719.0 L314.7 718.6 L318.3 718.0 L321.8 717.5 L325.3 717.6 L328.9 716.8 L332.4 714.8 L335.9 715.0 L339.5 713.8 L343.0 714.4 L346.6 715.0 L350.1 714.2 L353.7 712.9 L357.2 712.5 L360.8 712.3 L364.4 712.8 L367.9 712.2 L371.5 710.9 L375.1 712.0 L378.6 710.9 L382.2 710.6 L385.8 711.9 L389.3 711.4 L392.9 711.0 L396.4 710.7 L400.0 709.6 L403.6 709.5 L407.1 708.0 L410.7 708.5 L414.3 708.7 L417.9 709.1 L421.4 707.5 L425.0 706.7 L428.6 708.3 L432.1 707.5 L435.7 707.5 L439.3 706.5 L442.9 705.8 L446.4 705.5 L450.0 705.6 L453.6 704.8 L457.2 705.2 L460.8 705.6 L464.4 706.4 L468.0 706.3 L471.6 705.2 L475.2 704.5 L478.8 706.1 L482.4 703.9 L486.0 704.0 L489.6 705.2 L493.2 705.0 L496.8 705.8 L500.4 705.0 L504.0 705.3 L507.6 705.3 L511.2 705.4 L514.8 705.2 L518.4 704.3 L522.0 704.5 L525.6 704.7 L529.2 703.0 L532.8 704.1 L536.4 703.7 L540.0 703.9 L543.6 704.4 L547.1 703.1 L550.7 704.5 L554.3 703.0 L557.9 703.5 L561.4 703.7 L565.0 703.1 L568.6 703.9 L572.1 704.1 L575.7 704.4 L579.3 703.1 L582.9 704.2 L586.4 703.4 L590.0 703.8 L593.6 702.4 L597.1 702.9 L600.7 703.6 L604.3 703.2 L607.9 702.2 L611.4 703.0 L615.0 703.4 L618.6 703.5 L622.1 701.7 L625.7 701.7 L629.3 702.2 L632.9 701.4 L636.4 703.3 L640.0 702.4 L643.6 703.1 L647.1 703.0 L650.7 702.4 L654.3 701.9 L657.9 702.1 L661.4 701.2 L665.0 702.8 L668.6 701.4 L672.1 702.6 L675.7 701.6 L679.3 701.2 L682.9 701.7 L686.4 701.5 L690.0 702.8 L693.6 700.8 L697.1 701.4 L700.7 701.5 L704.3 701.7 L707.9 700.5 L711.4 702.2 L715.0 701.2 L718.6 701.8 L722.1 700.9 L725.7 700.9 L729.3 700.9 L732.9 700.9 L736.4 702.1 L740.0 701.2 L743.5 700.5 L747.0 700.1 L750.5 702.1 L754.0 700.5 L757.5 702.0 L761.0 701.4 L764.5 701.8 L768.0 700.8 L771.5 700.9 L775.0 701.5 L778.5 700.7 L782.0 700.8 L785.5 699.9 L789.0 701.1 L792.5 700.2 L796.0 701.6 L799.5 700.1 L803.0 701.4 L806.5 701.0 L810.0 701.1 L813.5 701.4 L817.0 701.2 L820.5 699.9 L824.0 700.5 L827.5 701.2 L831.0 700.3 L834.5 699.5 L838.0 699.9 L841.5 701.0 L845.0 699.3 L848.5 701.3 L852.0 699.2 L855.5 700.4 L859.0 699.6 L862.5 699.2 L866.0 700.8 L869.5 700.8 L873.0 699.3 L876.5 699.7 L880.0 700.0" stroke="#050505" stroke-width="3.3" stroke-dasharray="17.5 14.5 4 14.5"/>
<path d="M149.6 1048.0 L153.9 1048.0 L158.1 1048.0 L162.4 1048.0 L166.7 1048.0 L167.0 1044.5 L167.4 1040.9 L167.8 1037.4 L168.2 1033.8 L168.6 1030.3 L169.0 1026.7 L169.4 1023.2 L169.8 1019.7 L170.2 1016.1 L170.6 1012.6 L171.0 1009.0 L171.4 1005.5 L171.8 1001.9 L172.2 998.4 L172.6 994.9 L172.7 991.2 L172.9 987.5 L173.1 983.9 L173.3 980.2 L173.5 976.5 L173.7 972.9 L173.9 969.2 L174.1 965.5 L174.3 961.9 L174.5 958.2 L174.7 954.5 L174.8 950.9 L175.1 947.2 L175.4 943.5 L175.7 939.8 L175.9 936.2 L176.2 932.5 L176.5 928.8 L176.7 925.2 L177.0 921.5 L177.3 917.8 L177.6 914.1 L177.9 910.5 L178.2 906.8 L178.5 903.2 L178.8 899.5 L179.2 895.8 L179.5 892.2 L179.8 888.5 L180.1 884.8 L180.4 881.2 L180.8 877.5 L181.0 873.9 L181.3 870.4 L181.5 866.8 L181.8 863.2 L182.1 859.7 L182.3 856.1 L182.6 852.5 L182.8 849.0 L183.1 845.4 L183.5 841.5 L183.9 837.5 L184.3 833.6 L184.6 829.7 L185.0 825.8 L185.4 821.8 L185.8 817.9 L186.3 814.0 L186.7 810.0 L187.2 806.1 L187.7 802.2 L188.1 798.3 L188.6 794.3 L189.1 790.4 L190.0 787.0 L190.9 783.5 L191.8 780.1 L192.7 776.6 L194.5 773.5 L196.2 770.4 L198.0 767.3 L199.8 764.1 L201.8 761.2 L203.8 758.2 L205.9 755.3 L207.9 752.3 L209.9 749.4 L212.0 746.4 L214.0 743.5 L217.2 740.6 L220.3 740.7 L223.5 738.5 L226.7 735.2 L229.8 734.5 L233.0 732.6 L236.8 730.9 L240.7 731.2 L244.5 730.0 L248.3 727.7 L252.2 727.2 L256.0 725.9 L259.8 725.2 L263.6 724.0 L267.3 723.6 L271.1 722.8 L274.9 722.2 L278.7 722.6 L282.4 721.3 L286.2 719.1 L290.0 719.4 L293.5 718.6 L297.1 719.5 L300.6 718.6 L304.1 717.8 L307.7 717.5 L311.2 717.1 L314.7 715.5 L318.3 715.6 L321.8 714.8 L325.3 714.2 L328.9 714.8 L332.4 713.0 L335.9 712.8 L339.5 713.5 L343.0 712.6 L346.6 713.2 L350.1 711.6 L353.7 712.5 L357.2 712.2 L360.8 710.4 L364.4 711.8 L367.9 709.8 L371.5 710.2 L375.1 709.0 L378.6 708.8 L382.2 709.7 L385.8 709.8 L389.3 707.9 L392.9 708.1 L396.4 708.4 L400.0 707.9 L403.6 707.8 L407.1 706.5 L410.7 707.4 L414.3 705.9 L417.9 707.4 L421.4 706.5 L425.0 706.2 L428.6 706.5 L432.1 704.7 L435.7 704.4 L439.3 705.0 L442.9 705.3 L446.4 705.1 L450.0 703.9 L453.6 704.5 L457.2 704.0 L460.8 703.4 L464.4 704.2 L468.0 703.8 L471.6 704.3 L475.2 703.9 L478.8 703.3 L482.4 703.5 L486.0 702.5 L489.6 702.6 L493.2 703.6 L496.8 703.3 L500.4 701.8 L504.0 702.1 L507.6 702.5 L511.2 702.7 L514.8 702.2 L518.4 702.1 L522.0 703.3 L525.6 702.0 L529.2 702.1 L532.8 703.1 L536.4 701.7 L540.0 702.0 L543.6 702.0 L547.1 701.1 L550.7 702.6 L554.3 702.5 L557.9 701.1 L561.4 701.9 L565.0 701.0 L568.6 702.3 L572.1 701.5 L575.7 701.0 L579.3 702.4 L582.9 701.3 L586.4 701.4 L590.0 702.2 L593.6 700.7 L597.1 701.0 L600.7 702.0 L604.3 700.7 L607.9 701.7 L611.4 701.2 L615.0 701.8 L618.6 701.0 L622.1 701.6 L625.7 700.7 L629.3 700.0 L632.9 700.2 L636.4 700.5 L640.0 700.5 L643.6 700.7 L647.1 700.3 L650.7 700.0 L654.3 699.8 L657.9 700.3 L661.4 700.6 L665.0 700.5 L668.6 699.1 L672.1 699.5 L675.7 700.4 L679.3 700.0 L682.9 699.5 L686.4 700.1 L690.0 698.9 L693.6 699.8 L697.1 700.7 L700.7 699.4 L704.3 698.9 L707.9 700.0 L711.4 699.8 L715.0 699.2 L718.6 698.9 L722.1 698.4 L725.7 698.5 L729.3 700.0 L732.9 699.1 L736.4 700.1 L740.0 699.2 L743.5 700.2 L747.0 699.7 L750.5 698.8 L754.0 698.3 L757.5 700.0 L761.0 698.3 L764.5 698.2 L768.0 698.8 L771.5 698.5 L775.0 698.4 L778.5 698.2 L782.0 697.9 L785.5 697.8 L789.0 699.7 L792.5 697.9 L796.0 698.6 L799.5 699.0 L803.0 698.8 L806.5 699.5 L810.0 699.6 L813.5 698.8 L817.0 698.4 L820.5 698.8 L824.0 698.2 L827.5 697.8 L831.0 698.4 L834.5 698.4 L838.0 697.8 L841.5 698.2 L845.0 698.0 L848.5 697.4 L852.0 699.3 L855.5 698.3 L859.0 698.3 L862.5 697.2 L866.0 697.7 L869.5 697.1 L873.0 698.9 L876.5 698.3 L880.0 698.0" stroke="#050505" stroke-width="3.3" stroke-dasharray="36 14.5"/>
<path d="M149.6 1052.0 L153.2 1052.0 L156.7 1052.0 L160.3 1052.0 L163.8 1052.0 L167.4 1052.0 L169.4 1047.4 L171.4 1042.8 L171.5 1039.1 L171.7 1035.4 L171.8 1031.7 L172.0 1028.0 L172.1 1024.3 L172.3 1020.6 L172.4 1016.9 L172.6 1013.2 L172.7 1009.5 L172.8 1005.8 L173.0 1002.1 L173.1 998.4 L173.3 994.7 L173.5 990.9 L173.7 987.2 L173.8 983.5 L174.0 979.8 L174.2 976.0 L174.4 972.3 L174.6 968.6 L174.8 964.8 L175.0 961.1 L175.2 957.4 L175.3 953.7 L175.5 949.9 L175.8 946.3 L176.1 942.6 L176.3 938.9 L176.6 935.3 L176.9 931.6 L177.2 927.9 L177.4 924.2 L177.7 920.6 L178.0 916.9 L178.2 913.2 L178.6 909.6 L178.9 905.9 L179.2 902.2 L179.5 898.6 L179.9 894.9 L180.2 891.2 L180.5 887.6 L180.8 883.9 L181.2 880.2 L181.5 876.6 L181.8 873.1 L182.0 869.5 L182.3 866.0 L182.5 862.5 L182.8 859.0 L183.1 855.5 L183.3 852.0 L183.6 848.5 L183.9 844.9 L184.3 841.1 L184.7 837.3 L185.0 833.5 L185.4 829.8 L185.8 826.0 L186.2 822.2 L186.6 818.4 L187.0 814.4 L187.5 810.5 L188.0 806.6 L188.4 802.6 L188.9 798.7 L189.3 794.8 L189.8 790.9 L190.9 786.4 L192.1 782.0 L193.2 777.6 L195.0 774.4 L196.8 771.1 L198.5 767.9 L200.3 764.7 L202.2 761.6 L204.2 758.4 L206.2 755.3 L208.1 752.1 L210.1 749.0 L212.0 745.8 L214.0 742.6 L217.2 740.8 L220.3 738.3 L223.5 738.2 L226.7 736.3 L229.8 734.1 L233.0 731.7 L236.8 731.3 L240.7 728.4 L244.5 728.9 L248.3 726.4 L252.2 725.9 L256.0 725.0 L259.8 724.3 L263.6 723.0 L267.3 722.9 L271.1 722.0 L274.9 720.4 L278.7 720.2 L282.4 720.0 L286.2 719.9 L290.0 718.5 L293.5 718.5 L297.1 717.1 L300.6 718.0 L304.1 717.2 L307.7 716.7 L311.2 715.3 L314.7 716.2 L318.3 715.8 L321.8 714.2 L325.3 714.5 L328.9 714.5 L332.4 714.0 L335.9 713.0 L339.5 712.6 L343.0 711.8 L346.6 710.7 L350.1 711.9 L353.7 711.4 L357.2 710.6 L360.8 711.0 L364.4 710.7 L367.9 710.7 L371.5 709.9 L375.1 709.1 L378.6 708.9 L382.2 707.5 L385.8 708.0 L389.3 707.3 L392.9 706.8 L396.4 706.4 L400.0 707.0 L403.6 707.4 L407.1 705.5 L410.7 705.8 L414.3 706.1 L417.9 705.2 L421.4 705.6 L425.0 704.5 L428.6 705.2 L432.1 704.8 L435.7 704.9 L439.3 703.7 L442.9 702.9 L446.4 703.0 L450.0 703.0 L453.6 703.6 L457.2 702.0 L460.8 703.7 L464.4 703.3 L468.0 703.4 L471.6 701.8 L475.2 702.9 L478.8 701.5 L482.4 701.7 L486.0 701.6 L489.6 703.1 L493.2 702.7 L496.8 702.0 L500.4 701.9 L504.0 702.1 L507.6 702.3 L511.2 701.3 L514.8 701.3 L518.4 702.5 L522.0 700.8 L525.6 700.2 L529.2 702.0 L532.8 702.1 L536.4 700.9 L540.0 701.0 L543.6 701.4 L547.1 700.0 L550.7 699.8 L554.3 699.7 L557.9 699.8 L561.4 700.5 L565.0 699.5 L568.6 700.9 L572.1 700.4 L575.7 699.9 L579.3 701.0 L582.9 700.4 L586.4 700.8 L590.0 699.2 L593.6 700.3 L597.1 700.9 L600.7 700.2 L604.3 700.6 L607.9 699.0 L611.4 699.4 L615.0 700.4 L618.6 699.8 L622.1 699.4 L625.7 699.2 L629.3 699.4 L632.9 700.2 L636.4 700.3 L640.0 699.5 L643.6 700.0 L647.1 699.0 L650.7 699.7 L654.3 698.8 L657.9 700.2 L661.4 699.1 L665.0 698.6 L668.6 700.0 L672.1 699.4 L675.7 698.6 L679.3 698.6 L682.9 698.4 L686.4 699.5 L690.0 700.0 L693.6 699.0 L697.1 697.9 L700.7 698.8 L704.3 698.0 L707.9 699.2 L711.4 697.6 L715.0 697.9 L718.6 699.3 L722.1 699.3 L725.7 697.4 L729.3 697.8 L732.9 697.3 L736.4 697.5 L740.0 698.2 L743.5 697.8 L747.0 698.4 L750.5 697.2 L754.0 698.6 L757.5 699.2 L761.0 697.9 L764.5 696.9 L768.0 698.3 L771.5 698.7 L775.0 699.0 L778.5 697.4 L782.0 698.4 L785.5 698.4 L789.0 698.0 L792.5 698.1 L796.0 697.7 L799.5 697.0 L803.0 696.6 L806.5 698.0 L810.0 696.6 L813.5 696.9 L817.0 697.4 L820.5 698.5 L824.0 696.5 L827.5 697.7 L831.0 698.0 L834.5 697.2 L838.0 697.7 L841.5 697.1 L845.0 696.7 L848.5 696.7 L852.0 697.0 L855.5 697.7 L859.0 698.3 L862.5 697.1 L866.0 697.4 L869.5 696.0 L873.0 697.3 L876.5 697.7 L880.0 697.0" stroke="#050505" stroke-width="3.3" stroke-dasharray="36 14.5 4 14.5"/>
<path d="M149.6 1043.0 L153.7 1043.0 L157.8 1043.0 L161.8 1043.0 L165.9 1043.0 L166.4 1039.3 L166.8 1035.6 L167.3 1031.9 L167.7 1028.2 L168.2 1024.6 L168.6 1020.9 L169.1 1017.2 L169.5 1013.5 L170.0 1009.8 L170.5 1006.1 L170.9 1002.4 L171.4 998.7 L171.8 995.0 L172.0 991.4 L172.2 987.8 L172.4 984.2 L172.6 980.6 L172.8 977.0 L173.0 973.4 L173.2 969.8 L173.4 966.2 L173.6 962.6 L173.8 959.0 L174.0 955.4 L174.2 951.8 L174.4 948.1 L174.7 944.4 L175.0 940.8 L175.2 937.1 L175.5 933.4 L175.8 929.7 L176.1 926.1 L176.3 922.4 L176.6 918.7 L176.9 915.1 L177.2 911.4 L177.5 907.7 L177.8 904.1 L178.1 900.4 L178.4 896.7 L178.8 893.1 L179.1 889.4 L179.4 885.7 L179.7 882.1 L180.0 878.4 L180.3 874.8 L180.5 871.2 L180.8 867.6 L181.0 863.9 L181.3 860.3 L181.6 856.7 L181.8 853.1 L182.1 849.5 L182.3 845.9 L182.7 842.3 L183.0 838.8 L183.3 835.2 L183.7 831.6 L184.0 828.1 L184.3 824.5 L184.7 821.0 L185.0 817.4 L185.5 813.5 L186.0 809.6 L186.4 805.7 L186.9 801.7 L187.4 797.8 L187.8 793.9 L188.3 789.9 L189.3 786.4 L190.2 782.8 L191.2 779.3 L192.1 775.7 L193.9 772.7 L195.7 769.6 L197.5 766.6 L199.2 763.6 L201.7 761.1 L204.2 758.5 L206.6 756.0 L209.1 753.5 L211.5 751.0 L214.0 748.5 L217.2 746.9 L220.3 745.1 L223.5 744.2 L226.7 742.7 L229.8 740.5 L233.0 738.2 L236.8 736.8 L240.7 736.0 L244.5 735.4 L248.3 733.8 L252.2 732.0 L256.0 731.4 L259.8 729.9 L263.6 730.9 L267.3 728.2 L271.1 727.4 L274.9 727.7 L278.7 726.2 L282.4 725.6 L286.2 725.7 L290.0 724.7 L293.5 724.8 L297.1 723.8 L300.6 724.4 L304.1 723.1 L307.7 722.1 L311.2 722.5 L314.7 720.9 L318.3 721.1 L321.8 720.9 L325.3 719.3 L328.9 719.5 L332.4 720.0 L335.9 719.0 L339.5 719.3 L343.0 717.9 L346.6 717.1 L350.1 717.6 L353.7 716.8 L357.2 715.7 L360.8 716.6 L364.4 716.0 L367.9 714.7 L371.5 714.7 L375.1 715.2 L378.6 715.7 L382.2 714.0 L385.8 713.9 L389.3 713.9 L392.9 713.4 L396.4 714.1 L400.0 713.0 L403.6 712.7 L407.1 712.7 L410.7 711.5 L414.3 711.8 L417.9 712.1 L421.4 710.9 L425.0 711.4 L428.6 711.0 L432.1 709.5 L435.7 710.4 L439.3 710.3 L442.9 709.1 L446.4 708.3 L450.0 709.1 L453.6 708.2 L457.2 708.0 L460.8 708.7 L464.4 709.1 L468.0 708.6 L471.6 707.7 L475.2 708.7 L478.8 708.1 L482.4 708.2 L486.0 707.9 L489.6 708.4 L493.2 708.3 L496.8 707.3 L500.4 709.2 L504.0 707.1 L507.6 708.5 L511.2 707.8 L514.8 708.5 L518.4 707.9 L522.0 707.5 L525.6 708.1 L529.2 708.9 L532.8 708.4 L536.4 707.8 L540.0 707.7 L543.6 707.9 L547.1 708.2 L550.7 707.6 L554.3 706.8 L557.9 706.4 L561.4 707.4 L565.0 707.1 L568.6 707.3 L572.1 708.0 L575.7 707.1 L579.3 706.7 L582.9 706.8 L586.4 708.1 L590.0 706.8 L593.6 707.9 L597.1 706.7 L600.7 706.1 L604.3 706.7 L607.9 706.6 L611.4 707.7 L615.0 707.1 L618.6 706.6 L622.1 707.4 L625.7 705.5 L629.3 707.2 L632.9 706.0 L636.4 707.1 L640.0 706.3 L643.6 706.8 L647.1 707.0 L650.7 707.0 L654.3 706.8 L657.9 707.0 L661.4 707.1 L665.0 706.8 L668.6 705.1 L672.1 706.7 L675.7 706.8 L679.3 706.8 L682.9 706.2 L686.4 706.5 L690.0 705.3 L693.6 705.7 L697.1 705.5 L700.7 705.2 L704.3 705.1 L707.9 704.8 L711.4 706.1 L715.0 704.9 L718.6 705.1 L722.1 705.6 L725.7 705.6 L729.3 706.2 L732.9 706.0 L736.4 705.8 L740.0 705.2 L743.5 704.3 L747.0 705.6 L750.5 705.3 L754.0 706.0 L757.5 704.1 L761.0 705.8 L764.5 705.9 L768.0 703.9 L771.5 704.3 L775.0 704.4 L778.5 703.8 L782.0 703.8 L785.5 705.0 L789.0 704.7 L792.5 705.4 L796.0 704.6 L799.5 704.8 L803.0 704.3 L806.5 705.1 L810.0 703.7 L813.5 704.3 L817.0 704.4 L820.5 704.3 L824.0 704.0 L827.5 704.9 L831.0 705.0 L834.5 703.7 L838.0 704.2 L841.5 703.9 L845.0 705.3 L848.5 704.2 L852.0 703.4 L855.5 704.4 L859.0 704.6 L862.5 703.8 L866.0 703.2 L869.5 705.2 L873.0 705.1 L876.5 704.2 L880.0 704.0" stroke="#050505" stroke-width="3.3" stroke-dasharray="36 14.5 4 14.5 4 14.5"/>
<path d="M149.6 1003.0 L154.4 1003.0 L159.3 1003.0 L162.2 999.9 L165.2 996.7 L165.5 993.0 L165.8 989.4 L166.0 985.7 L166.3 982.0 L166.6 978.4 L166.9 974.7 L167.2 971.0 L167.4 967.3 L167.7 963.7 L168.0 960.0 L168.3 956.3 L168.5 952.7 L168.8 949.0 L169.1 945.3 L169.3 941.6 L169.6 938.0 L169.9 934.3 L170.2 930.6 L170.4 927.0 L170.7 923.3 L171.0 919.6 L171.2 916.0 L171.5 912.3 L171.8 908.7 L172.1 905.0 L172.3 901.3 L172.6 897.7 L172.9 894.0 L173.1 890.4 L173.4 886.7 L173.6 883.0 L173.8 879.4 L174.0 875.7 L174.2 872.0 L174.4 868.4 L174.5 864.7 L174.7 861.0 L174.9 857.3 L175.1 853.7 L175.3 850.0 L175.6 846.3 L175.8 842.7 L176.1 839.0 L176.4 835.3 L176.7 831.6 L176.9 828.0 L177.2 824.3 L177.5 820.6 L177.7 817.0 L178.0 813.3 L178.5 809.4 L179.1 805.4 L179.6 801.5 L180.1 797.6 L180.6 793.7 L181.2 789.7 L181.7 785.8 L182.8 782.1 L183.9 778.5 L185.0 774.8 L186.1 771.2 L187.2 767.5 L189.6 764.4 L192.1 761.4 L194.5 758.3 L196.7 755.4 L198.8 752.4 L201.0 749.5 L203.2 746.5 L205.3 743.6 L207.5 740.6 L209.7 737.7 L211.8 734.8 L214.0 731.8 L217.2 728.8 L220.3 728.4 L223.5 725.1 L226.7 722.9 L229.8 722.6 L233.0 719.7 L236.8 718.9 L240.7 717.8 L244.5 716.6 L248.3 714.5 L252.2 715.3 L256.0 713.2 L259.8 712.1 L263.6 712.8 L267.3 710.7 L271.1 710.0 L274.9 710.5 L278.7 709.2 L282.4 709.3 L286.2 707.6 L290.0 707.0 L293.5 707.1 L297.1 705.0 L300.6 705.5 L304.1 704.6 L307.7 705.1 L311.2 704.2 L314.7 704.6 L318.3 703.0 L321.8 702.9 L325.3 702.2 L328.9 702.2 L332.4 701.5 L335.9 700.2 L339.5 700.3 L343.0 700.4 L346.6 700.0 L350.1 698.8 L353.7 700.4 L357.2 698.4 L360.8 698.0 L364.4 698.8 L367.9 698.1 L371.5 698.1 L375.1 697.4 L378.6 697.5 L382.2 697.4 L385.8 697.3 L389.3 696.2 L392.9 695.7 L396.4 695.3 L400.0 695.8 L403.6 694.6 L407.1 694.8 L410.7 694.8 L414.3 694.7 L417.9 694.2 L421.4 693.6 L425.0 694.6 L428.6 693.0 L432.1 693.2 L435.7 693.6 L439.3 693.0 L442.9 691.8 L446.4 691.5 L450.0 691.9 L453.6 690.8 L457.2 690.5 L460.8 690.8 L464.4 691.1 L468.0 690.6 L471.6 690.0 L475.2 690.4 L478.8 690.6 L482.4 690.2 L486.0 689.9 L489.6 691.2 L493.2 691.3 L496.8 690.3 L500.4 690.1 L504.0 689.2 L507.6 690.6 L511.2 689.4 L514.8 688.5 L518.4 689.1 L522.0 689.5 L525.6 690.1 L529.2 687.9 L532.8 689.7 L536.4 688.4 L540.0 688.6 L543.6 688.2 L547.1 688.1 L550.7 687.9 L554.3 688.4 L557.9 689.1 L561.4 687.8 L565.0 689.2 L568.6 687.3 L572.1 687.9 L575.7 687.9 L579.3 686.9 L582.9 687.5 L586.4 688.7 L590.0 687.4 L593.6 686.8 L597.1 686.8 L600.7 687.2 L604.3 686.9 L607.9 687.7 L611.4 688.2 L615.0 686.3 L618.6 687.9 L622.1 686.4 L625.7 688.0 L629.3 686.1 L632.9 687.5 L636.4 687.9 L640.0 686.8 L643.6 685.8 L647.1 687.5 L650.7 687.5 L654.3 686.5 L657.9 687.0 L661.4 685.7 L665.0 685.9 L668.6 686.5 L672.1 686.5 L675.7 686.2 L679.3 687.2 L682.9 685.3 L686.4 686.1 L690.0 686.6 L693.6 686.1 L697.1 685.2 L700.7 686.0 L704.3 686.2 L707.9 686.0 L711.4 686.7 L715.0 684.8 L718.6 684.7 L722.1 686.0 L725.7 686.2 L729.3 684.9 L732.9 684.7 L736.4 685.5 L740.0 685.4 L743.5 686.4 L747.0 684.9 L750.5 685.1 L754.0 686.0 L757.5 685.6 L761.0 685.5 L764.5 684.2 L768.0 686.0 L771.5 684.4 L775.0 684.1 L778.5 685.0 L782.0 684.5 L785.5 683.9 L789.0 683.9 L792.5 685.8 L796.0 685.9 L799.5 684.7 L803.0 684.5 L806.5 684.1 L810.0 685.7 L813.5 684.0 L817.0 683.7 L820.5 684.8 L824.0 684.8 L827.5 684.6 L831.0 684.0 L834.5 684.7 L838.0 685.4 L841.5 684.4 L845.0 685.3 L848.5 683.4 L852.0 684.2 L855.5 683.8 L859.0 685.0 L862.5 683.7 L866.0 684.3 L869.5 683.2 L873.0 683.4 L876.5 684.3 L880.0 684.0" stroke="#a6a6a6" stroke-width="3.3"/>
<path d="M149.6 1038.0 L153.1 1038.0 L156.7 1038.0 L160.2 1038.0 L163.7 1038.0 L164.2 1034.5 L164.7 1030.9 L165.2 1027.4 L165.7 1023.9 L166.2 1020.3 L166.7 1016.8 L167.2 1013.3 L167.6 1009.7 L168.1 1006.2 L168.6 1002.7 L169.1 999.1 L169.6 995.6 L169.8 991.9 L170.1 988.1 L170.3 984.4 L170.5 980.7 L170.7 976.9 L171.0 973.2 L171.2 969.4 L171.4 965.7 L171.7 962.0 L171.9 958.2 L172.1 954.5 L172.4 950.8 L172.6 947.2 L172.9 943.5 L173.2 939.8 L173.5 936.2 L173.7 932.5 L174.0 928.8 L174.3 925.1 L174.5 921.5 L174.8 917.8 L175.1 914.1 L175.4 910.5 L175.7 906.8 L176.0 903.2 L176.3 899.5 L176.6 895.8 L176.9 892.2 L177.2 888.5 L177.5 884.8 L177.8 881.2 L178.1 877.4 L178.3 873.6 L178.5 869.9 L178.8 866.1 L179.0 862.3 L179.3 858.6 L179.5 854.8 L179.7 851.0 L180.0 847.2 L180.3 843.3 L180.7 839.4 L181.0 835.5 L181.3 831.6 L181.7 827.8 L182.0 823.9 L182.3 820.0 L182.7 816.1 L183.2 812.1 L183.7 808.2 L184.2 804.3 L184.6 800.3 L185.1 796.4 L185.6 792.5 L186.1 788.6 L187.2 784.7 L188.3 780.8 L189.4 776.9 L190.5 773.0 L192.9 769.3 L195.3 765.5 L197.7 761.8 L199.3 758.5 L200.9 755.1 L202.6 751.8 L204.2 748.5 L205.8 745.1 L207.5 741.8 L209.1 738.5 L210.7 735.1 L212.4 731.8 L214.0 728.5 L217.2 726.4 L220.3 724.3 L223.5 722.2 L226.7 720.2 L229.8 718.1 L233.0 716.0 L236.8 715.0 L240.7 713.0 L244.5 711.7 L248.3 711.0 L252.2 709.8 L256.0 709.5 L259.8 709.0 L263.6 708.1 L267.3 708.5 L271.1 707.8 L274.9 706.9 L278.7 706.1 L282.4 705.2 L286.2 703.4 L290.0 703.4 L293.5 703.2 L297.1 702.5 L300.6 702.1 L304.1 701.8 L307.7 701.5 L311.2 700.8 L314.7 700.8 L318.3 699.4 L321.8 698.9 L325.3 699.8 L328.9 698.9 L332.4 697.5 L335.9 698.4 L339.5 697.4 L343.0 696.9 L346.6 697.4 L350.1 695.8 L353.7 696.7 L357.2 696.8 L360.8 695.8 L364.4 695.9 L367.9 695.7 L371.5 694.3 L375.1 693.8 L378.6 694.4 L382.2 693.5 L385.8 693.0 L389.3 693.0 L392.9 693.1 L396.4 692.8 L400.0 692.3 L403.6 692.9 L407.1 692.8 L410.7 691.8 L414.3 691.8 L417.9 691.5 L421.4 689.9 L425.0 691.1 L428.6 690.9 L432.1 690.8 L435.7 689.0 L439.3 689.0 L442.9 688.8 L446.4 689.1 L450.0 688.4 L453.6 688.1 L457.2 688.9 L460.8 687.0 L464.4 688.7 L468.0 688.6 L471.6 687.1 L475.2 686.6 L478.8 687.9 L482.4 688.1 L486.0 686.6 L489.6 687.7 L493.2 687.3 L496.8 686.8 L500.4 686.2 L504.0 685.1 L507.6 687.0 L511.2 686.7 L514.8 686.8 L518.4 685.0 L522.0 686.3 L525.6 686.3 L529.2 685.5 L532.8 684.7 L536.4 684.3 L540.0 684.8 L543.6 685.7 L547.1 684.0 L550.7 684.7 L554.3 684.5 L557.9 684.1 L561.4 683.6 L565.0 683.2 L568.6 684.8 L572.1 684.4 L575.7 684.3 L579.3 683.0 L582.9 684.9 L586.4 683.3 L590.0 683.1 L593.6 683.5 L597.1 683.3 L600.7 683.8 L604.3 683.7 L607.9 682.7 L611.4 683.9 L615.0 683.4 L618.6 683.8 L622.1 682.8 L625.7 683.6 L629.3 682.6 L632.9 682.3 L636.4 683.2 L640.0 682.9 L643.6 682.9 L647.1 683.5 L650.7 683.0 L654.3 681.9 L657.9 683.3 L661.4 682.8 L665.0 681.6 L668.6 683.5 L672.1 681.7 L675.7 682.6 L679.3 681.4 L682.9 683.1 L686.4 681.8 L690.0 681.8 L693.6 683.1 L697.1 682.1 L700.7 683.0 L704.3 682.3 L707.9 682.9 L711.4 681.0 L715.0 682.7 L718.6 681.4 L722.1 682.3 L725.7 680.7 L729.3 681.1 L732.9 680.7 L736.4 680.5 L740.0 681.4 L743.5 682.1 L747.0 682.4 L750.5 680.7 L754.0 680.5 L757.5 681.7 L761.0 680.8 L764.5 682.1 L768.0 680.6 L771.5 681.2 L775.0 681.2 L778.5 680.5 L782.0 681.3 L785.5 680.1 L789.0 680.0 L792.5 680.5 L796.0 680.7 L799.5 679.9 L803.0 681.8 L806.5 681.7 L810.0 680.1 L813.5 681.3 L817.0 681.7 L820.5 680.2 L824.0 681.3 L827.5 679.8 L831.0 681.1 L834.5 681.3 L838.0 680.3 L841.5 680.3 L845.0 680.2 L848.5 680.4 L852.0 679.8 L855.5 679.6 L859.0 681.3 L862.5 680.6 L866.0 681.2 L869.5 681.0 L873.0 680.7 L876.5 679.8 L880.0 680.0" stroke="#a6a6a6" stroke-width="3.3" stroke-dasharray="3 6.4"/>
<path d="M149.6 1040.0 L153.5 1040.0 L157.3 1040.0 L161.2 1040.0 L165.0 1040.0 L168.9 1040.0 L169.3 1036.5 L169.8 1033.0 L170.2 1029.5 L170.7 1025.9 L171.1 1022.4 L171.6 1018.9 L172.0 1015.4 L172.5 1011.9 L172.9 1008.4 L173.4 1004.8 L173.8 1001.3 L174.3 997.8 L174.8 994.3 L174.9 990.7 L175.1 987.2 L175.3 983.6 L175.4 980.1 L175.6 976.5 L175.7 973.0 L175.9 969.4 L176.1 965.9 L176.2 962.3 L176.4 958.8 L176.6 955.2 L176.7 951.7 L176.9 948.1 L177.2 944.4 L177.4 940.8 L177.7 937.1 L178.0 933.4 L178.3 929.8 L178.5 926.1 L178.8 922.4 L179.1 918.7 L179.3 915.1 L179.6 911.4 L179.9 907.7 L180.3 904.1 L180.6 900.4 L180.9 896.7 L181.3 893.1 L181.6 889.4 L181.9 885.7 L182.3 882.1 L182.6 878.4 L183.0 874.7 L183.3 870.9 L183.6 867.1 L183.9 863.2 L184.2 859.4 L184.5 855.5 L184.8 851.7 L185.1 847.9 L185.4 844.0 L185.8 840.5 L186.2 837.0 L186.6 833.4 L187.0 829.9 L187.4 826.3 L187.8 822.8 L188.1 819.3 L188.6 815.4 L189.0 811.4 L189.5 807.5 L189.9 803.6 L190.4 799.6 L190.8 795.7 L191.3 791.8 L192.3 787.7 L193.3 783.5 L194.3 779.4 L196.1 776.0 L197.8 772.6 L199.6 769.3 L201.3 765.9 L202.5 762.3 L203.6 758.6 L204.8 755.0 L205.9 751.4 L207.1 747.8 L208.2 744.1 L209.4 740.5 L210.5 736.9 L211.7 733.2 L212.8 729.6 L214.0 726.0 L217.2 723.8 L220.3 721.7 L223.5 719.6 L226.7 717.5 L229.8 715.4 L233.0 713.2 L236.8 711.7 L240.7 710.2 L244.5 711.0 L248.3 708.6 L252.2 707.2 L256.0 706.8 L259.8 707.0 L263.6 704.5 L267.3 705.3 L271.1 703.8 L274.9 702.8 L278.7 702.4 L282.4 701.6 L286.2 701.7 L290.0 700.8 L293.5 701.1 L297.1 699.8 L300.6 698.8 L304.1 698.5 L307.7 698.6 L311.2 697.4 L314.7 698.2 L318.3 696.5 L321.8 696.8 L325.3 696.6 L328.9 695.9 L332.4 695.0 L335.9 696.0 L339.5 694.7 L343.0 694.2 L346.6 694.8 L350.1 693.0 L353.7 694.2 L357.2 694.1 L360.8 692.3 L364.4 693.0 L367.9 693.0 L371.5 693.0 L375.1 691.9 L378.6 691.5 L382.2 691.8 L385.8 690.7 L389.3 689.6 L392.9 689.6 L396.4 689.0 L400.0 689.7 L403.6 688.6 L407.1 689.5 L410.7 689.6 L414.3 688.3 L417.9 687.3 L421.4 687.3 L425.0 687.1 L428.6 688.1 L432.1 686.3 L435.7 686.6 L439.3 687.5 L442.9 686.7 L446.4 686.0 L450.0 685.8 L453.6 684.6 L457.2 686.0 L460.8 684.6 L464.4 686.1 L468.0 685.0 L471.6 684.9 L475.2 685.2 L478.8 683.8 L482.4 684.5 L486.0 683.8 L489.6 683.2 L493.2 683.3 L496.8 684.7 L500.4 684.6 L504.0 683.2 L507.6 682.6 L511.2 683.7 L514.8 682.4 L518.4 683.2 L522.0 681.7 L525.6 681.4 L529.2 681.5 L532.8 681.2 L536.4 682.7 L540.0 681.9 L543.6 682.8 L547.1 681.1 L550.7 681.3 L554.3 682.1 L557.9 681.5 L561.4 681.8 L565.0 682.4 L568.6 680.4 L572.1 681.9 L575.7 681.5 L579.3 681.0 L582.9 681.1 L586.4 681.4 L590.0 680.4 L593.6 681.3 L597.1 680.2 L600.7 681.2 L604.3 681.6 L607.9 680.5 L611.4 680.8 L615.0 679.8 L618.6 680.0 L622.1 679.3 L625.7 680.6 L629.3 679.5 L632.9 680.3 L636.4 680.0 L640.0 680.0 L643.6 680.4 L647.1 679.9 L650.7 679.8 L654.3 679.6 L657.9 678.8 L661.4 680.7 L665.0 678.8 L668.6 679.1 L672.1 679.2 L675.7 679.8 L679.3 679.9 L682.9 680.3 L686.4 678.7 L690.0 679.0 L693.6 679.0 L697.1 680.2 L700.7 678.3 L704.3 678.1 L707.9 678.4 L711.4 679.0 L715.0 678.6 L718.6 678.6 L722.1 679.1 L725.7 679.3 L729.3 678.7 L732.9 677.9 L736.4 678.4 L740.0 678.5 L743.5 678.1 L747.0 678.9 L750.5 677.7 L754.0 679.4 L757.5 679.2 L761.0 679.2 L764.5 677.8 L768.0 677.2 L771.5 677.9 L775.0 678.9 L778.5 677.3 L782.0 678.0 L785.5 677.2 L789.0 677.8 L792.5 677.8 L796.0 678.9 L799.5 677.0 L803.0 678.2 L806.5 678.1 L810.0 677.4 L813.5 677.2 L817.0 678.4 L820.5 676.8 L824.0 678.4 L827.5 677.4 L831.0 677.2 L834.5 677.6 L838.0 678.5 L841.5 677.7 L845.0 677.1 L848.5 677.4 L852.0 676.7 L855.5 676.9 L859.0 676.3 L862.5 676.6 L866.0 676.9 L869.5 677.1 L873.0 676.8 L876.5 677.7 L880.0 677.0" stroke="#a6a6a6" stroke-width="3.3" stroke-dasharray="12.5 6.2"/>
<path d="M149.6 1040.0 L153.7 1040.0 L157.7 1040.0 L161.8 1040.0 L165.9 1040.0 L169.9 1040.0 L174.0 1040.0 L174.5 1036.4 L174.9 1032.8 L175.4 1029.2 L175.8 1025.5 L176.3 1021.9 L176.7 1018.3 L177.2 1014.7 L177.6 1011.1 L178.1 1007.5 L178.5 1003.8 L179.0 1000.2 L179.4 996.6 L179.9 993.0 L180.0 989.3 L180.2 985.7 L180.3 982.0 L180.4 978.3 L180.5 974.7 L180.7 971.0 L180.8 967.4 L180.9 963.7 L181.1 960.0 L181.2 956.4 L181.3 952.7 L181.4 949.0 L181.6 945.4 L181.7 941.7 L182.0 938.0 L182.2 934.4 L182.5 930.7 L182.8 927.0 L183.1 923.4 L183.3 919.7 L183.6 916.0 L183.9 912.3 L184.1 908.7 L184.4 905.0 L184.8 901.3 L185.1 897.7 L185.5 894.0 L185.9 890.3 L186.2 886.6 L186.6 883.0 L187.0 879.3 L187.4 875.6 L187.7 872.0 L188.1 868.3 L188.5 864.4 L188.9 860.4 L189.3 856.5 L189.7 852.6 L190.1 848.7 L190.5 844.7 L190.9 840.8 L191.4 837.1 L192.0 833.5 L192.5 829.8 L193.1 826.2 L193.6 822.5 L194.0 818.6 L194.4 814.6 L194.8 810.7 L195.2 806.8 L195.6 802.9 L196.0 798.9 L196.4 795.0 L197.3 790.4 L198.2 785.8 L199.9 781.8 L201.6 777.9 L203.3 774.0 L205.0 770.0 L209.5 766.5 L214.0 764.8 L217.8 763.8 L221.6 760.5 L225.4 758.7 L229.2 756.9 L233.0 756.2 L236.8 754.7 L240.7 752.7 L244.5 753.2 L248.3 750.9 L252.2 751.0 L256.0 749.1 L259.8 747.5 L263.6 747.6 L267.3 745.7 L271.1 746.8 L274.9 744.3 L278.7 743.8 L282.4 744.3 L286.2 742.7 L290.0 742.0 L293.5 741.8 L297.1 742.1 L300.6 741.6 L304.1 740.7 L307.7 740.2 L311.2 739.7 L314.7 738.7 L318.3 739.3 L321.8 736.9 L325.3 738.3 L328.9 737.0 L332.4 736.2 L335.9 735.2 L339.5 734.8 L343.0 734.9 L346.6 734.2 L350.1 733.4 L353.7 734.2 L357.2 733.9 L360.8 732.7 L364.4 733.7 L367.9 733.4 L371.5 733.4 L375.1 732.7 L378.6 731.7 L382.2 731.0 L385.8 731.3 L389.3 731.8 L392.9 730.0 L396.4 730.9 L400.0 729.9 L403.6 730.4 L407.1 729.3 L410.7 728.7 L414.3 728.2 L417.9 728.5 L421.4 728.7 L425.0 727.8 L428.6 726.7 L432.1 726.5 L435.7 727.0 L439.3 726.2 L442.9 726.5 L446.4 727.0 L450.0 725.9 L453.6 725.3 L457.2 725.5 L460.8 724.9 L464.4 726.7 L468.0 725.4 L471.6 726.7 L475.2 726.8 L478.8 725.0 L482.4 725.8 L486.0 725.9 L489.6 726.3 L493.2 726.8 L496.8 725.7 L500.4 727.1 L504.0 727.2 L507.6 725.1 L511.2 727.2 L514.8 726.4 L518.4 726.7 L522.0 725.5 L525.6 726.9 L529.2 725.6 L532.8 725.8 L536.4 725.2 L540.0 726.3 L543.6 726.3 L547.1 725.9 L550.7 727.2 L554.3 725.6 L557.9 726.2 L561.4 726.8 L565.0 726.4 L568.6 725.6 L572.1 725.9 L575.7 726.8 L579.3 726.1 L582.9 726.3 L586.4 725.7 L590.0 726.4 L593.6 725.0 L597.1 725.0 L600.7 726.3 L604.3 726.0 L607.9 725.7 L611.4 725.8 L615.0 725.8 L618.6 725.3 L622.1 726.4 L625.7 725.4 L629.3 726.1 L632.9 725.4 L636.4 725.1 L640.0 725.4 L643.6 725.4 L647.1 726.3 L650.7 725.2 L654.3 724.7 L657.9 724.1 L661.4 725.2 L665.0 725.2 L668.6 725.5 L672.1 724.2 L675.7 724.1 L679.3 724.6 L682.9 725.8 L686.4 724.5 L690.0 726.0 L693.6 725.7 L697.1 723.8 L700.7 724.4 L704.3 724.7 L707.9 724.9 L711.4 724.3 L715.0 724.7 L718.6 724.8 L722.1 725.2 L725.7 725.2 L729.3 725.3 L732.9 724.1 L736.4 724.5 L740.0 724.4 L743.5 724.3 L747.0 725.1 L750.5 723.3 L754.0 725.0 L757.5 723.7 L761.0 725.2 L764.5 725.2 L768.0 724.0 L771.5 723.4 L775.0 723.7 L778.5 723.4 L782.0 724.9 L785.5 723.7 L789.0 723.9 L792.5 725.0 L796.0 724.7 L799.5 724.6 L803.0 725.1 L806.5 724.3 L810.0 723.9 L813.5 723.8 L817.0 724.6 L820.5 724.9 L824.0 723.4 L827.5 723.5 L831.0 724.7 L834.5 724.8 L838.0 723.6 L841.5 722.9 L845.0 723.0 L848.5 724.5 L852.0 724.5 L855.5 724.3 L859.0 723.6 L862.5 724.6 L866.0 724.0 L869.5 723.6 L873.0 724.6 L876.5 722.8 L880.0 723.5" stroke="#a6a6a6" stroke-width="3.3" stroke-dasharray="16.5 15.5"/>
<path d="M149.6 1038.0 L153.2 1038.0 L156.8 1038.0 L160.3 1038.0 L163.9 1038.0 L167.5 1038.0 L171.1 1038.0 L171.6 1034.3 L172.0 1030.6 L172.5 1026.9 L173.0 1023.2 L173.5 1019.6 L174.0 1015.9 L174.5 1012.2 L175.0 1008.5 L175.5 1004.8 L176.0 1001.1 L176.5 997.4 L177.0 993.7 L177.1 990.0 L177.3 986.3 L177.4 982.6 L177.6 978.9 L177.7 975.1 L177.9 971.4 L178.0 967.7 L178.2 964.0 L178.3 960.2 L178.5 956.5 L178.7 952.8 L178.8 949.1 L179.0 945.4 L179.2 941.7 L179.5 938.0 L179.8 934.4 L180.0 930.7 L180.3 927.0 L180.6 923.3 L180.8 919.7 L181.1 916.0 L181.4 912.3 L181.7 908.7 L182.0 905.0 L182.4 901.3 L182.7 897.7 L183.1 894.0 L183.4 890.3 L183.8 886.7 L184.1 883.0 L184.5 879.3 L184.8 875.6 L185.2 872.0 L185.5 868.3 L185.8 864.6 L186.1 861.0 L186.5 857.3 L186.8 853.6 L187.1 850.0 L187.5 846.3 L187.8 842.6 L188.2 839.0 L188.7 835.3 L189.1 831.6 L189.6 828.0 L190.0 824.3 L190.5 820.7 L190.9 816.7 L191.3 812.8 L191.8 808.9 L192.2 804.9 L192.6 801.0 L193.0 797.1 L193.5 793.2 L194.3 789.5 L195.2 785.8 L196.0 782.1 L197.7 778.5 L199.4 774.9 L201.2 771.3 L202.9 767.7 L203.8 764.0 L204.8 760.4 L205.7 756.8 L206.6 753.2 L207.5 749.6 L208.4 746.0 L209.4 742.4 L210.3 738.8 L211.2 735.1 L212.2 731.5 L213.1 727.9 L214.0 724.3 L217.2 722.1 L220.3 720.0 L223.5 717.8 L226.7 715.7 L229.8 713.5 L233.0 711.4 L236.8 709.7 L240.7 710.2 L244.5 708.3 L248.3 707.1 L252.2 706.5 L256.0 705.0 L259.8 704.6 L263.6 703.2 L267.3 702.8 L271.1 701.8 L274.9 702.7 L278.7 700.1 L282.4 701.4 L286.2 699.1 L290.0 699.0 L293.5 699.2 L297.1 698.7 L300.6 697.2 L304.1 697.3 L307.7 697.0 L311.2 696.7 L314.7 695.7 L318.3 696.3 L321.8 695.8 L325.3 694.4 L328.9 694.6 L332.4 694.3 L335.9 693.9 L339.5 692.6 L343.0 692.5 L346.6 692.7 L350.1 692.3 L353.7 691.9 L357.2 690.8 L360.8 691.4 L364.4 691.4 L367.9 691.5 L371.5 689.8 L375.1 689.9 L378.6 690.2 L382.2 688.3 L385.8 689.1 L389.3 689.8 L392.9 688.8 L396.4 689.3 L400.0 688.0 L403.6 688.7 L407.1 688.4 L410.7 686.5 L414.3 687.8 L417.9 687.1 L421.4 686.3 L425.0 685.6 L428.6 685.4 L432.1 685.8 L435.7 685.3 L439.3 685.2 L442.9 684.0 L446.4 684.7 L450.0 684.1 L453.6 684.9 L457.2 683.0 L460.8 683.3 L464.4 683.8 L468.0 682.8 L471.6 682.3 L475.2 682.2 L478.8 681.8 L482.4 682.6 L486.0 682.3 L489.6 683.3 L493.2 682.3 L496.8 681.8 L500.4 681.4 L504.0 682.1 L507.6 682.1 L511.2 680.7 L514.8 681.6 L518.4 680.0 L522.0 681.8 L525.6 680.0 L529.2 680.7 L532.8 680.9 L536.4 679.5 L540.0 680.0 L543.6 680.7 L547.1 679.1 L550.7 679.5 L554.3 680.8 L557.9 679.9 L561.4 678.8 L565.0 678.8 L568.6 679.2 L572.1 678.9 L575.7 678.5 L579.3 678.8 L582.9 679.8 L586.4 678.7 L590.0 679.8 L593.6 680.0 L597.1 679.0 L600.7 679.2 L604.3 678.7 L607.9 679.7 L611.4 678.2 L615.0 678.0 L618.6 677.4 L622.1 677.7 L625.7 678.6 L629.3 677.5 L632.9 679.0 L636.4 677.7 L640.0 678.0 L643.6 678.6 L647.1 677.3 L650.7 678.5 L654.3 677.8 L657.9 678.3 L661.4 676.7 L665.0 678.4 L668.6 677.8 L672.1 676.9 L675.7 676.4 L679.3 677.6 L682.9 677.5 L686.4 677.1 L690.0 677.1 L693.6 677.8 L697.1 676.4 L700.7 677.3 L704.3 676.3 L707.9 676.2 L711.4 675.9 L715.0 677.5 L718.6 677.3 L722.1 677.7 L725.7 677.5 L729.3 675.9 L732.9 676.4 L736.4 676.2 L740.0 676.5 L743.5 677.3 L747.0 676.4 L750.5 677.1 L754.0 677.2 L757.5 676.5 L761.0 675.2 L764.5 675.7 L768.0 677.0 L771.5 675.9 L775.0 676.9 L778.5 675.7 L782.0 676.9 L785.5 676.6 L789.0 676.1 L792.5 675.1 L796.0 675.6 L799.5 675.3 L803.0 676.6 L806.5 675.1 L810.0 674.7 L813.5 674.8 L817.0 676.2 L820.5 676.5 L824.0 675.1 L827.5 674.6 L831.0 675.3 L834.5 675.9 L838.0 675.7 L841.5 676.0 L845.0 676.4 L848.5 674.6 L852.0 675.1 L855.5 674.5 L859.0 676.1 L862.5 674.3 L866.0 674.8 L869.5 675.0 L873.0 674.7 L876.5 676.0 L880.0 675.0" stroke="#a6a6a6" stroke-width="3.3" stroke-dasharray="17.5 14.5 4 14.5"/>
</g>
<g stroke="#0a0a0a" stroke-width="2.3" fill="none">
<rect x="149.6" y="631.3" width="730.2" height="443.8" stroke-width="2.6"/>
<path d="M139.8 631.3H149.6 M139.8 651.5H149.6 M136.8 671.6H149.6 M139.8 691.8H149.6 M139.8 712H149.6 M139.8 732.2H149.6 M136.8 752.3H149.6 M139.8 772.5H149.6 M139.8 792.7H149.6 M139.8 812.9H149.6 M136.8 833H149.6 M139.8 853.2H149.6 M139.8 873.4H149.6 M139.8 893.5H149.6 M136.8 913.7H149.6 M139.8 933.9H149.6 M139.8 954.1H149.6 M139.8 974.2H149.6 M136.8 994.4H149.6 M139.8 1014.6H149.6 M139.8 1034.8H149.6 M139.8 1054.9H149.6 M136.8 1075.1H149.6 M149.6 1075.1V1087.7 M186.1 1075.1V1084.5 M222.6 1075.1V1084.5 M259.1 1075.1V1084.5 M295.6 1075.1V1087.7 M332.1 1075.1V1084.5 M368.7 1075.1V1084.5 M405.2 1075.1V1084.5 M441.7 1075.1V1087.7 M478.2 1075.1V1084.5 M514.7 1075.1V1084.5 M551.2 1075.1V1084.5 M587.7 1075.1V1087.7 M624.2 1075.1V1084.5 M660.7 1075.1V1084.5 M697.2 1075.1V1084.5 M733.8 1075.1V1087.7 M770.3 1075.1V1084.5 M806.8 1075.1V1084.5 M843.3 1075.1V1084.5 M879.8 1075.1V1087.7" stroke-width="2.3"/>
</g>
<g fill="#111" font-family='"Liberation Sans", sans-serif'>
<text x="121.5" y="681.8" font-size="32.5" text-anchor="end" textLength="47" lengthAdjust="spacingAndGlyphs">0.4</text>
<text x="121.5" y="762.5" font-size="32.5" text-anchor="end" textLength="47" lengthAdjust="spacingAndGlyphs">0.2</text>
<text x="121.5" y="843.2" font-size="32.5" text-anchor="end" textLength="18.6" lengthAdjust="spacingAndGlyphs">0</text>
<text x="121.5" y="923.9" font-size="32.5" text-anchor="end" textLength="67.5" lengthAdjust="spacingAndGlyphs">–0.2</text>
<text x="121.5" y="1004.6" font-size="32.5" text-anchor="end" textLength="67.5" lengthAdjust="spacingAndGlyphs">–0.4</text>
<text x="121.5" y="1085.3" font-size="32.5" text-anchor="end" textLength="67.5" lengthAdjust="spacingAndGlyphs">–0.6</text>
<text x="149.6" y="1121.5" font-size="32.5" text-anchor="middle">0</text>
<text x="295.6" y="1121.5" font-size="32.5" text-anchor="middle" textLength="83" lengthAdjust="spacingAndGlyphs">2,000</text>
<text x="441.7" y="1121.5" font-size="32.5" text-anchor="middle" textLength="83" lengthAdjust="spacingAndGlyphs">4,000</text>
<text x="587.7" y="1121.5" font-size="32.5" text-anchor="middle" textLength="83" lengthAdjust="spacingAndGlyphs">6,000</text>
<text x="733.8" y="1121.5" font-size="32.5" text-anchor="middle" textLength="83" lengthAdjust="spacingAndGlyphs">8,000</text>
<text x="879.8" y="1121.5" font-size="32.5" text-anchor="middle" textLength="98" lengthAdjust="spacingAndGlyphs">10,000</text>
<text x="525.2" y="1177" font-size="31.5" text-anchor="middle" textLength="207" lengthAdjust="spacingAndGlyphs">Distance (µm)</text>
<text x="173.6" y="684.6" font-size="33">(b)</text>
<g transform="translate(27.8 863) rotate(-90)">
<text x="0" y="0" font-size="32" text-anchor="middle" textLength="221" lengthAdjust="spacingAndGlyphs">Potential (V<tspan font-size="20" dy="11">SHE</tspan><tspan dy="-11">)</tspan></text>
</g>
</g>
<g fill="#111" font-family='"Liberation Sans", sans-serif'>
<text x="636" y="886.7" font-size="27" textLength="234.5" lengthAdjust="spacingAndGlyphs">Measured time (h)</text>
<text x="568.5" y="925.3" font-size="27">1</text>
<text x="568.5" y="957.7" font-size="27">4</text>
<text x="568.5" y="990.5" font-size="27">7</text>
<text x="568.5" y="1023.3" font-size="27">10</text>
<text x="699.5" y="925.3" font-size="27">13</text>
<text x="699.5" y="957.7" font-size="27">16</text>
<text x="699.5" y="990.5" font-size="27">19</text>
<text x="699.5" y="1023.3" font-size="27">22</text>
<text x="840" y="925.3" font-size="27">25</text>
<text x="840" y="957.7" font-size="27">28</text>
<text x="840" y="990.5" font-size="27">31</text>
<text x="840" y="1023.3" font-size="27">34</text>
<text x="840" y="1061.9" font-size="27">37</text>
</g>
<line x1="479.3" y1="913.9" x2="560.4" y2="913.9" stroke="#000" stroke-width="4.2"/>
<line x1="479.3" y1="946.8" x2="560.4" y2="946.8" stroke="#000" stroke-width="4.2" stroke-dasharray="3.2 6.2"/>
<line x1="479.3" y1="976.4" x2="560.4" y2="976.4" stroke="#000" stroke-width="4.2" stroke-dasharray="12.5 6.2"/>
<line x1="479.3" y1="1013.4" x2="560.4" y2="1013.4" stroke="#000" stroke-width="4.2" stroke-dasharray="16.5 15.5"/>
<line x1="609.3" y1="913.9" x2="689.4" y2="913.9" stroke="#000" stroke-width="4.2" stroke-dasharray="17.5 14.5 4 14.5"/>
<line x1="609.3" y1="946.8" x2="689.4" y2="946.8" stroke="#000" stroke-width="4.2" stroke-dasharray="36 14.5"/>
<line x1="609.3" y1="976.4" x2="689.4" y2="976.4" stroke="#000" stroke-width="4.2" stroke-dasharray="36 14.5 4 14.5"/>
<line x1="609.3" y1="1013.4" x2="689.4" y2="1013.4" stroke="#000" stroke-width="4.2" stroke-dasharray="36 14.5 4 14.5 4 14.5"/>
<line x1="752.9" y1="913.9" x2="832.4" y2="913.9" stroke="#a3a3a3" stroke-width="4.2"/>
<line x1="752.9" y1="946.8" x2="832.4" y2="946.8" stroke="#a3a3a3" stroke-width="4.2" stroke-dasharray="3.2 6.2"/>
<line x1="752.9" y1="976.4" x2="832.4" y2="976.4" stroke="#a3a3a3" stroke-width="4.2" stroke-dasharray="12.5 6.2"/>
<line x1="752.9" y1="1013.4" x2="832.4" y2="1013.4" stroke="#a3a3a3" stroke-width="4.2" stroke-dasharray="16.5 15.5"/>
<line x1="752.9" y1="1052.5" x2="832.4" y2="1052.5" stroke="#a3a3a3" stroke-width="4.2" stroke-dasharray="17.5 14.5 4 14.5"/>
<clipPath id="clip2"><rect x="154.3" y="1239.7" width="725.1" height="445.8"/></clipPath>
<g clip-path="url(#clip2)" fill="none" stroke-linejoin="round">
<path d="M154.6 1598.0 L154.7 1594.2 L154.7 1590.5 L154.8 1586.8 L154.8 1583.0 L154.9 1579.2 L154.9 1575.5 L155.0 1571.8 L155.1 1568.0 L155.1 1564.2 L155.2 1560.5 L155.2 1556.8 L155.3 1553.0 L155.5 1549.5 L155.7 1546.0 L155.8 1542.5 L156.0 1539.0 L156.2 1535.5 L156.4 1532.0 L156.6 1528.5 L156.7 1525.0 L156.9 1521.5 L157.1 1518.0 L157.3 1514.4 L157.5 1510.8 L157.6 1507.2 L157.8 1503.6 L158.0 1500.0 L158.2 1496.4 L158.4 1492.8 L158.5 1489.2 L158.7 1485.6 L158.9 1482.0 L159.2 1478.5 L159.4 1475.0 L159.7 1471.5 L160.0 1468.0 L160.2 1464.5 L160.5 1461.0 L160.8 1457.5 L161.1 1454.0 L161.3 1450.5 L161.6 1447.0 L162.0 1443.1 L162.3 1439.3 L162.7 1435.4 L163.1 1431.6 L163.5 1427.7 L163.8 1423.9 L164.2 1420.0 L165.1 1416.2 L166.0 1412.5 L166.9 1408.8 L167.8 1405.0 L171.1 1401.7 L174.3 1398.3 L176.5 1395.1 L178.6 1391.9 L180.8 1388.7 L182.9 1385.4 L185.0 1382.2 L187.2 1379.0 L190.4 1376.4 L193.6 1373.8 L196.8 1371.3 L200.0 1368.7 L203.2 1366.1 L207.2 1364.5 L211.2 1362.8 L215.3 1361.0 L219.3 1359.7 L222.9 1359.3 L226.5 1357.8 L230.0 1357.5 L233.6 1357.1 L237.2 1355.7 L240.8 1355.4 L244.3 1354.7 L247.9 1353.5 L251.5 1353.2 L255.1 1352.7 L258.6 1352.7 L262.2 1352.1 L265.8 1352.0 L269.3 1351.1 L272.9 1350.8 L276.5 1350.4 L280.0 1350.4 L283.6 1350.0 L287.2 1349.8 L290.8 1349.0 L294.3 1348.6 L297.9 1347.8 L301.5 1347.5 L305.1 1346.5 L308.6 1346.1 L312.2 1345.9 L315.8 1345.2 L319.4 1345.0 L323.0 1344.4 L326.5 1343.8 L330.1 1343.6 L333.7 1343.2 L337.3 1342.9 L340.8 1343.0 L344.4 1342.1 L348.0 1342.0 L351.6 1342.0 L355.1 1341.6 L358.7 1340.6 L362.2 1340.5 L365.8 1340.2 L369.3 1339.5 L372.9 1339.4 L376.4 1339.5 L380.0 1338.8 L383.6 1338.3 L387.1 1338.6 L390.7 1338.0 L394.3 1338.3 L397.9 1338.4 L401.4 1337.6 L405.0 1337.3 L408.6 1337.2 L412.1 1337.5 L415.7 1336.9 L419.3 1336.8 L422.9 1337.0 L426.4 1337.2 L430.0 1336.6 L433.6 1336.4 L437.1 1336.5 L440.7 1335.9 L444.3 1336.1 L447.9 1335.6 L451.4 1335.8 L455.0 1335.6 L458.5 1336.0 L462.1 1335.2 L465.6 1335.6 L469.1 1335.6 L472.7 1335.2 L476.2 1335.2 L479.8 1335.8 L483.3 1335.8 L486.8 1335.0 L490.4 1335.5 L493.9 1335.7 L497.4 1335.1 L501.0 1335.3 L504.5 1334.8 L508.0 1335.1 L511.6 1335.3 L515.1 1335.2 L518.7 1335.3 L522.2 1334.7 L525.7 1334.9 L529.3 1335.3 L532.8 1335.1 L536.3 1334.9 L539.9 1334.9 L543.4 1335.3 L547.0 1335.0 L550.5 1334.5 L554.0 1335.1 L557.6 1334.7 L561.1 1334.7 L564.6 1334.5 L568.2 1334.7 L571.7 1334.6 L575.2 1334.3 L578.8 1334.8 L582.3 1334.3 L585.9 1334.8 L589.4 1334.2 L592.9 1334.8 L596.5 1334.8 L600.0 1334.5 L603.6 1334.5 L607.1 1334.7 L610.7 1334.3 L614.3 1334.7 L617.9 1334.4 L621.4 1334.3 L625.0 1334.9 L628.6 1334.4 L632.1 1334.4 L635.7 1334.8 L639.3 1334.4 L642.9 1334.6 L646.4 1334.2 L650.0 1334.8 L653.6 1334.3 L657.1 1334.1 L660.7 1334.9 L664.3 1334.2 L667.9 1334.9 L671.4 1334.9 L675.0 1334.6 L678.6 1334.1 L682.1 1334.1 L685.7 1334.3 L689.3 1334.4 L692.9 1334.6 L696.4 1334.9 L700.0 1334.4 L703.6 1334.2 L707.1 1334.6 L710.7 1334.2 L714.3 1334.2 L717.9 1334.5 L721.4 1334.7 L725.0 1334.1 L728.6 1334.5 L732.1 1334.7 L735.7 1334.7 L739.3 1334.4 L742.9 1334.8 L746.4 1334.2 L750.0 1334.5 L753.5 1334.7 L757.0 1334.7 L760.5 1334.8 L764.1 1334.4 L767.6 1334.1 L771.1 1334.0 L774.6 1334.4 L778.1 1334.1 L781.6 1334.5 L785.1 1334.0 L788.6 1334.6 L792.2 1334.1 L795.7 1333.9 L799.2 1334.0 L802.7 1334.3 L806.2 1334.3 L809.7 1334.2 L813.2 1334.0 L816.8 1334.2 L820.3 1334.6 L823.8 1334.2 L827.3 1334.6 L830.8 1333.8 L834.3 1334.6 L837.8 1334.5 L841.4 1334.2 L844.9 1334.2 L848.4 1334.2 L851.9 1334.5 L855.4 1333.7 L858.9 1334.2 L862.4 1334.1 L865.9 1333.9 L869.5 1334.2 L873.0 1334.2 L876.5 1333.7 L880.0 1334.0" stroke="#050505" stroke-width="3.3"/>
<path d="M155.1 1625.0 L155.2 1621.4 L155.3 1617.9 L155.3 1614.3 L155.4 1610.8 L155.5 1607.2 L155.5 1603.6 L155.6 1600.1 L155.6 1596.5 L155.7 1592.9 L155.8 1589.4 L155.8 1585.8 L155.9 1582.3 L155.9 1578.7 L156.0 1575.1 L156.1 1571.6 L156.1 1568.0 L156.2 1564.5 L156.3 1560.9 L156.3 1557.3 L156.4 1553.8 L156.6 1550.2 L156.7 1546.7 L156.9 1543.1 L157.1 1539.6 L157.3 1536.0 L157.5 1532.4 L157.7 1528.9 L157.8 1525.3 L158.0 1521.8 L158.2 1518.2 L158.4 1514.6 L158.6 1511.0 L158.7 1507.5 L158.9 1503.9 L159.1 1500.3 L159.3 1496.7 L159.5 1493.1 L159.7 1489.5 L159.8 1485.9 L160.0 1482.3 L160.3 1478.8 L160.6 1475.3 L160.8 1471.8 L161.1 1468.3 L161.4 1464.8 L161.6 1461.3 L161.9 1457.8 L162.2 1454.3 L162.4 1450.8 L162.7 1447.3 L163.1 1443.4 L163.4 1439.5 L163.8 1435.6 L164.2 1431.7 L164.5 1427.8 L164.9 1423.9 L165.3 1420.0 L166.2 1416.0 L167.1 1411.9 L167.9 1407.9 L168.8 1403.9 L171.9 1399.8 L175.0 1395.7 L177.1 1392.4 L179.2 1389.2 L181.2 1385.9 L183.3 1382.6 L185.3 1379.3 L187.4 1376.0 L190.3 1373.3 L193.2 1370.6 L196.1 1367.9 L199.1 1365.3 L202.0 1362.6 L205.2 1361.2 L208.5 1359.7 L211.7 1358.1 L215.0 1357.2 L218.3 1355.8 L221.8 1354.6 L225.4 1353.8 L229.0 1353.0 L232.5 1352.4 L236.1 1351.8 L239.6 1350.4 L243.2 1350.0 L246.8 1349.1 L250.3 1347.6 L253.9 1346.6 L257.4 1345.8 L261.0 1345.2 L264.8 1344.5 L268.5 1343.2 L272.3 1342.5 L276.1 1341.5 L279.8 1340.2 L283.6 1339.0 L287.2 1338.7 L290.8 1337.9 L294.3 1337.5 L297.9 1337.7 L301.5 1337.3 L305.1 1337.0 L308.6 1336.4 L312.2 1336.1 L315.8 1335.6 L319.4 1335.2 L323.0 1334.9 L326.5 1333.7 L330.1 1333.6 L333.7 1332.9 L337.3 1332.8 L340.8 1332.3 L344.4 1331.3 L348.0 1331.0 L351.7 1330.5 L355.4 1330.4 L359.1 1330.3 L362.9 1330.5 L366.6 1330.0 L370.3 1330.1 L374.0 1329.6 L377.7 1329.6 L381.4 1329.1 L385.1 1329.3 L388.9 1329.0 L392.6 1329.2 L396.3 1329.1 L400.0 1328.5 L403.6 1328.4 L407.2 1327.8 L410.7 1328.4 L414.3 1328.3 L417.9 1327.7 L421.5 1327.6 L425.0 1327.8 L428.6 1327.1 L432.2 1327.0 L435.8 1327.2 L439.3 1327.0 L442.9 1326.9 L446.5 1326.9 L450.1 1326.5 L453.6 1326.2 L457.2 1325.9 L460.8 1326.0 L464.4 1325.6 L467.9 1325.6 L471.5 1325.5 L475.1 1325.7 L478.6 1325.4 L482.2 1325.2 L485.7 1324.9 L489.3 1325.0 L492.9 1324.7 L496.4 1324.9 L500.0 1324.5 L503.5 1324.6 L507.1 1324.5 L510.6 1324.2 L514.1 1324.3 L517.6 1324.4 L521.2 1324.5 L524.7 1324.1 L528.2 1323.8 L531.8 1324.1 L535.3 1323.5 L538.8 1323.6 L542.4 1323.3 L545.9 1323.7 L549.4 1323.4 L552.9 1323.4 L556.5 1323.7 L560.0 1323.4 L563.5 1323.6 L567.1 1323.2 L570.6 1323.6 L574.1 1323.4 L577.6 1324.1 L581.2 1324.0 L584.7 1324.4 L588.2 1324.0 L591.8 1324.5 L595.3 1324.0 L598.8 1324.7 L602.4 1324.4 L605.9 1324.3 L609.4 1325.1 L612.9 1325.1 L616.5 1324.6 L620.0 1325.0 L623.6 1325.2 L627.3 1325.2 L630.9 1325.0 L634.5 1325.3 L638.2 1325.9 L641.8 1325.4 L645.5 1325.9 L649.1 1325.9 L652.7 1326.0 L656.4 1326.0 L660.0 1326.3 L663.6 1326.0 L667.3 1326.2 L670.9 1326.2 L674.5 1326.0 L678.2 1326.4 L681.8 1326.8 L685.5 1326.7 L689.1 1326.5 L692.7 1326.6 L696.4 1326.9 L700.0 1327.0 L703.5 1326.7 L707.1 1326.8 L710.6 1327.2 L714.1 1326.7 L717.6 1326.7 L721.2 1326.8 L724.7 1327.1 L728.2 1326.7 L731.8 1327.3 L735.3 1327.2 L738.8 1327.3 L742.4 1327.4 L745.9 1327.3 L749.4 1327.2 L752.9 1327.0 L756.5 1327.3 L760.0 1326.9 L763.5 1327.0 L767.1 1327.4 L770.6 1327.3 L774.1 1326.9 L777.6 1327.2 L781.2 1327.4 L784.7 1327.0 L788.2 1327.4 L791.8 1327.0 L795.3 1327.0 L798.8 1327.3 L802.4 1327.2 L805.9 1327.5 L809.4 1327.3 L812.9 1327.2 L816.5 1327.7 L820.0 1327.7 L823.5 1327.6 L827.1 1327.1 L830.6 1327.2 L834.1 1327.1 L837.6 1327.7 L841.2 1327.4 L844.7 1327.1 L848.2 1327.9 L851.8 1327.1 L855.3 1327.1 L858.8 1327.9 L862.4 1327.5 L865.9 1327.9 L869.4 1327.6 L872.9 1327.3 L876.5 1327.6 L880.0 1327.6" stroke="#050505" stroke-width="3.3" stroke-dasharray="3 6.4"/>
<path d="M155.2 1595.0 L155.4 1591.4 L155.5 1587.8 L155.6 1584.2 L155.7 1580.6 L155.8 1577.0 L156.0 1573.4 L156.1 1569.8 L156.2 1566.3 L156.3 1562.7 L156.4 1559.1 L156.5 1555.5 L156.7 1551.8 L156.9 1548.1 L157.1 1544.4 L157.3 1540.8 L157.5 1537.1 L157.7 1533.4 L157.9 1529.7 L158.0 1526.1 L158.2 1522.4 L158.4 1518.7 L158.6 1515.1 L158.8 1511.6 L159.0 1508.0 L159.2 1504.4 L159.4 1500.9 L159.5 1497.3 L159.7 1493.8 L159.9 1490.2 L160.1 1486.6 L160.3 1483.1 L160.6 1479.6 L160.8 1476.1 L161.1 1472.6 L161.3 1469.1 L161.6 1465.6 L161.9 1462.1 L162.1 1458.6 L162.4 1455.1 L162.7 1451.6 L162.9 1448.1 L163.2 1444.6 L163.6 1441.0 L163.9 1437.5 L164.2 1434.0 L164.5 1430.5 L164.8 1427.0 L165.2 1423.5 L165.5 1420.0 L166.2 1416.3 L166.8 1412.6 L167.5 1408.9 L168.2 1405.2 L168.9 1401.5 L170.7 1397.7 L172.6 1393.9 L174.5 1390.1 L176.3 1386.6 L178.2 1383.2 L180.1 1379.8 L181.9 1376.3 L183.8 1372.9 L185.7 1369.5 L188.4 1366.5 L191.1 1363.6 L193.8 1360.6 L196.5 1357.7 L199.2 1354.8 L202.6 1352.6 L205.9 1351.7 L209.3 1349.3 L212.7 1349.4 L216.0 1347.1 L219.8 1345.5 L223.6 1345.4 L227.4 1345.3 L231.2 1343.1 L235.0 1342.5 L238.8 1342.4 L242.5 1340.7 L246.2 1339.1 L250.0 1337.8 L254.0 1337.2 L258.0 1336.1 L262.0 1334.6 L266.0 1335.1 L270.0 1332.9 L273.8 1332.0 L277.5 1332.7 L281.2 1331.7 L285.0 1329.0 L288.8 1328.9 L292.5 1328.7 L296.2 1328.8 L300.0 1327.4 L303.8 1326.3 L307.5 1327.0 L311.2 1326.0 L315.0 1326.7 L318.8 1326.7 L322.5 1326.0 L326.2 1324.2 L330.0 1324.6 L333.5 1324.9 L337.0 1323.8 L340.5 1324.5 L344.0 1323.3 L347.5 1324.0 L351.0 1323.9 L354.5 1323.1 L358.0 1322.8 L361.5 1322.5 L365.0 1321.4 L368.5 1321.4 L372.0 1320.1 L375.5 1321.8 L379.0 1320.2 L382.5 1318.9 L386.0 1319.6 L389.5 1319.3 L393.0 1318.5 L396.5 1320.1 L400.0 1318.7 L403.6 1317.5 L407.1 1319.2 L410.7 1318.1 L414.3 1316.9 L417.9 1317.1 L421.4 1317.1 L425.0 1316.0 L428.6 1317.3 L432.1 1316.8 L435.7 1317.4 L439.3 1316.8 L442.9 1316.4 L446.4 1316.7 L450.0 1315.2 L453.6 1316.0 L457.1 1315.1 L460.7 1314.7 L464.3 1314.4 L467.9 1314.9 L471.4 1315.0 L475.0 1314.5 L478.6 1314.3 L482.1 1312.2 L485.7 1312.9 L489.3 1311.9 L492.9 1312.9 L496.4 1312.7 L500.0 1312.2 L503.5 1312.3 L507.1 1312.9 L510.6 1311.3 L514.1 1312.4 L517.6 1311.9 L521.2 1310.9 L524.7 1312.6 L528.2 1310.3 L531.8 1311.2 L535.3 1311.2 L538.8 1311.3 L542.4 1312.1 L545.9 1311.0 L549.4 1311.6 L552.9 1310.1 L556.5 1310.5 L560.0 1310.4 L563.5 1309.5 L567.1 1310.6 L570.6 1310.0 L574.1 1310.8 L577.6 1309.2 L581.2 1309.9 L584.7 1311.1 L588.2 1308.7 L591.8 1310.2 L595.3 1310.2 L598.8 1310.3 L602.4 1309.8 L605.9 1309.6 L609.4 1310.7 L612.9 1309.0 L616.5 1309.9 L620.0 1309.4 L623.6 1309.8 L627.3 1310.0 L630.9 1309.5 L634.5 1308.4 L638.2 1310.3 L641.8 1309.1 L645.5 1310.4 L649.1 1310.9 L652.7 1310.4 L656.4 1309.6 L660.0 1310.7 L663.6 1309.6 L667.3 1309.5 L670.9 1310.1 L674.5 1310.4 L678.2 1310.5 L681.8 1310.2 L685.5 1309.9 L689.1 1310.8 L692.7 1309.8 L696.4 1310.5 L700.0 1310.3 L703.6 1309.2 L707.3 1309.5 L710.9 1311.3 L714.5 1309.8 L718.2 1310.3 L721.8 1309.4 L725.5 1311.2 L729.1 1310.2 L732.7 1309.5 L736.4 1310.1 L740.0 1311.7 L743.6 1311.3 L747.3 1309.6 L750.9 1311.9 L754.5 1309.8 L758.2 1310.8 L761.8 1311.0 L765.5 1311.6 L769.1 1310.1 L772.7 1311.8 L776.4 1310.5 L780.0 1311.1 L783.6 1311.7 L787.1 1312.1 L790.7 1311.3 L794.3 1310.0 L797.9 1311.6 L801.4 1311.0 L805.0 1311.8 L808.6 1311.9 L812.1 1310.3 L815.7 1311.4 L819.3 1311.6 L822.9 1312.3 L826.4 1311.6 L830.0 1311.6 L833.6 1312.0 L837.1 1310.6 L840.7 1312.3 L844.3 1311.6 L847.9 1311.8 L851.4 1310.6 L855.0 1311.5 L858.6 1311.3 L862.1 1310.8 L865.7 1312.6 L869.3 1312.4 L872.9 1311.5 L876.4 1310.6 L880.0 1311.6" stroke="#050505" stroke-width="3.3" stroke-dasharray="12.5 6.2"/>
<path d="M155.7 1597.0 L155.9 1593.2 L156.1 1589.5 L156.2 1585.7 L156.4 1581.9 L156.6 1578.2 L156.7 1574.4 L156.9 1570.6 L157.1 1566.9 L157.2 1563.1 L157.4 1559.3 L157.6 1555.6 L157.7 1551.9 L157.9 1548.2 L158.1 1544.5 L158.3 1540.8 L158.5 1537.1 L158.7 1533.5 L158.9 1529.8 L159.1 1526.1 L159.2 1522.4 L159.4 1518.7 L159.6 1515.2 L159.8 1511.6 L160.0 1508.0 L160.2 1504.5 L160.4 1500.9 L160.6 1497.4 L160.7 1493.8 L160.9 1490.2 L161.1 1486.7 L161.3 1483.1 L161.6 1479.6 L161.8 1476.1 L162.1 1472.6 L162.4 1469.1 L162.6 1465.6 L162.9 1462.1 L163.1 1458.6 L163.4 1455.1 L163.7 1451.6 L163.9 1448.1 L164.2 1444.6 L164.6 1441.1 L164.9 1437.6 L165.2 1434.0 L165.5 1430.5 L165.9 1427.0 L166.2 1423.5 L166.5 1420.0 L167.2 1416.3 L167.8 1412.5 L168.5 1408.8 L169.2 1405.1 L169.9 1401.3 L171.7 1397.5 L173.6 1393.6 L175.5 1389.8 L177.3 1386.3 L179.2 1382.9 L181.0 1379.5 L182.9 1376.0 L184.7 1372.6 L186.6 1369.1 L189.1 1366.2 L191.6 1363.2 L194.1 1360.3 L196.6 1357.3 L199.1 1354.4 L202.5 1351.8 L205.8 1351.5 L209.2 1350.9 L212.5 1347.8 L215.9 1346.7 L219.7 1345.8 L223.5 1344.5 L227.4 1344.4 L231.2 1343.4 L235.0 1342.0 L238.8 1341.1 L242.5 1340.9 L246.2 1339.2 L250.0 1337.6 L254.0 1336.3 L258.0 1335.5 L262.0 1335.3 L266.0 1334.5 L270.0 1333.1 L273.8 1331.8 L277.5 1332.6 L281.2 1331.1 L285.0 1331.2 L288.8 1328.9 L292.5 1328.8 L296.2 1327.5 L300.0 1328.0 L303.8 1327.5 L307.5 1326.7 L311.2 1326.6 L315.0 1325.9 L318.8 1327.1 L322.5 1326.2 L326.2 1325.2 L330.0 1325.2 L333.5 1324.9 L337.0 1323.8 L340.5 1325.3 L344.0 1324.9 L347.5 1323.8 L351.0 1322.5 L354.5 1324.1 L358.0 1322.0 L361.5 1321.3 L365.0 1322.0 L368.5 1321.5 L372.0 1321.2 L375.5 1322.0 L379.0 1320.1 L382.5 1319.6 L386.0 1320.2 L389.5 1319.0 L393.0 1320.2 L396.5 1319.5 L400.0 1319.3 L403.6 1320.0 L407.1 1319.9 L410.7 1317.9 L414.3 1319.0 L417.9 1318.1 L421.4 1318.9 L425.0 1316.6 L428.6 1317.2 L432.1 1318.2 L435.7 1315.8 L439.3 1316.1 L442.9 1315.9 L446.4 1315.8 L450.0 1315.9 L453.6 1316.8 L457.1 1314.7 L460.7 1316.0 L464.3 1314.5 L467.9 1315.7 L471.4 1313.8 L475.0 1313.5 L478.6 1315.4 L482.1 1312.9 L485.7 1314.2 L489.3 1312.9 L492.9 1313.6 L496.4 1312.8 L500.0 1313.0 L503.5 1313.2 L507.1 1313.2 L510.6 1313.3 L514.1 1311.7 L517.6 1313.3 L521.2 1311.7 L524.7 1312.5 L528.2 1312.9 L531.8 1312.7 L535.3 1312.0 L538.8 1311.8 L542.4 1310.9 L545.9 1312.5 L549.4 1311.7 L552.9 1312.1 L556.5 1312.4 L560.0 1311.2 L563.5 1311.6 L567.1 1310.6 L570.6 1311.0 L574.1 1310.2 L577.6 1310.4 L581.2 1311.7 L584.7 1311.2 L588.2 1310.0 L591.8 1310.8 L595.3 1310.4 L598.8 1311.4 L602.4 1311.3 L605.9 1310.1 L609.4 1309.4 L612.9 1309.6 L616.5 1310.5 L620.0 1310.3 L623.6 1310.0 L627.3 1309.2 L630.9 1311.0 L634.5 1310.7 L638.2 1310.1 L641.8 1309.4 L645.5 1310.3 L649.1 1310.9 L652.7 1309.7 L656.4 1309.8 L660.0 1309.7 L663.6 1309.7 L667.3 1311.2 L670.9 1311.5 L674.5 1311.3 L678.2 1310.6 L681.8 1310.7 L685.5 1310.0 L689.1 1311.9 L692.7 1311.3 L696.4 1310.5 L700.0 1311.3 L703.6 1310.4 L707.3 1310.9 L710.9 1311.2 L714.5 1312.0 L718.2 1310.5 L721.8 1312.2 L725.5 1311.0 L729.1 1310.8 L732.7 1312.0 L736.4 1310.9 L740.0 1312.9 L743.6 1312.2 L747.3 1312.4 L750.9 1312.0 L754.5 1312.8 L758.2 1312.8 L761.8 1312.1 L765.5 1311.2 L769.1 1312.5 L772.7 1313.3 L776.4 1311.5 L780.0 1312.2 L783.6 1312.7 L787.1 1311.3 L790.7 1313.0 L794.3 1312.4 L797.9 1312.4 L801.4 1312.5 L805.0 1312.4 L808.6 1312.8 L812.1 1312.7 L815.7 1311.9 L819.3 1313.3 L822.9 1311.6 L826.4 1313.1 L830.0 1312.3 L833.6 1311.6 L837.1 1312.0 L840.7 1312.5 L844.3 1311.7 L847.9 1312.9 L851.4 1313.7 L855.0 1313.2 L858.6 1312.8 L862.1 1312.9 L865.7 1312.7 L869.3 1313.4 L872.9 1313.2 L876.4 1312.8 L880.0 1312.8" stroke="#050505" stroke-width="3.3" stroke-dasharray="16.5 15.5"/>
<path d="M155.3 1600.0 L155.4 1596.4 L155.5 1592.8 L155.6 1589.1 L155.8 1585.5 L155.9 1581.9 L156.0 1578.2 L156.1 1574.6 L156.2 1571.0 L156.3 1567.4 L156.4 1563.8 L156.5 1560.1 L156.7 1556.5 L156.8 1552.8 L157.0 1549.0 L157.2 1545.2 L157.4 1541.5 L157.6 1537.8 L157.8 1534.0 L158.0 1530.2 L158.2 1526.5 L158.4 1522.8 L158.6 1519.0 L158.7 1515.5 L158.9 1511.9 L159.1 1508.3 L159.3 1504.8 L159.5 1501.2 L159.7 1497.7 L159.9 1494.2 L160.1 1490.6 L160.3 1487.0 L160.4 1483.5 L160.7 1480.0 L161.0 1476.5 L161.2 1473.0 L161.5 1469.5 L161.8 1466.0 L162.0 1462.5 L162.3 1459.0 L162.5 1455.5 L162.8 1452.0 L163.1 1448.5 L163.4 1444.9 L163.7 1441.4 L164.0 1437.8 L164.3 1434.2 L164.6 1430.7 L165.0 1427.1 L165.3 1423.6 L165.6 1420.0 L166.3 1416.0 L166.9 1412.0 L167.6 1408.0 L168.2 1404.0 L168.9 1400.0 L170.2 1396.7 L171.5 1393.3 L172.8 1390.0 L174.2 1386.7 L175.9 1383.1 L177.6 1379.6 L179.4 1376.1 L181.1 1372.5 L182.9 1369.0 L184.6 1365.5 L187.2 1362.4 L189.8 1359.3 L192.4 1356.2 L195.0 1353.1 L197.6 1350.0 L201.0 1349.4 L204.4 1346.8 L207.8 1345.3 L211.2 1343.1 L214.7 1341.8 L218.0 1340.0 L221.4 1339.7 L224.8 1338.4 L228.2 1337.4 L231.6 1336.6 L235.0 1336.6 L238.8 1334.5 L242.5 1334.7 L246.2 1332.7 L250.0 1332.7 L254.0 1332.1 L258.0 1330.7 L262.0 1331.2 L266.0 1329.8 L270.0 1328.7 L273.8 1328.7 L277.5 1327.9 L281.2 1327.5 L285.0 1327.4 L288.8 1327.0 L292.5 1324.4 L296.2 1324.1 L300.0 1324.0 L303.8 1323.2 L307.5 1322.7 L311.2 1323.6 L315.0 1323.7 L318.8 1321.3 L322.5 1321.2 L326.2 1322.6 L330.0 1321.3 L333.5 1320.0 L337.0 1319.6 L340.5 1321.3 L344.0 1319.5 L347.5 1318.5 L351.0 1319.5 L354.5 1318.3 L358.0 1318.4 L361.5 1317.9 L365.0 1318.0 L368.5 1318.5 L372.0 1318.6 L375.5 1318.3 L379.0 1317.0 L382.5 1317.7 L386.0 1316.9 L389.5 1316.3 L393.0 1316.2 L396.5 1316.0 L400.0 1315.3 L403.6 1316.1 L407.1 1314.2 L410.7 1315.5 L414.3 1315.1 L417.9 1314.3 L421.4 1313.8 L425.0 1313.0 L428.6 1314.3 L432.1 1312.8 L435.7 1311.6 L439.3 1313.6 L442.9 1312.4 L446.4 1311.8 L450.0 1311.6 L453.6 1310.2 L457.1 1310.9 L460.7 1311.9 L464.3 1311.7 L467.9 1309.5 L471.4 1309.6 L475.0 1311.0 L478.6 1310.1 L482.1 1309.4 L485.7 1308.2 L489.3 1309.1 L492.9 1307.5 L496.4 1307.2 L500.0 1308.0 L503.5 1308.4 L507.1 1306.8 L510.6 1308.8 L514.1 1306.9 L517.6 1306.3 L521.2 1306.9 L524.7 1306.6 L528.2 1308.1 L531.8 1306.7 L535.3 1306.4 L538.8 1306.7 L542.4 1306.0 L545.9 1305.2 L549.4 1305.1 L552.9 1306.5 L556.5 1306.0 L560.0 1305.9 L563.5 1304.6 L567.1 1306.9 L570.6 1305.7 L574.1 1305.5 L577.6 1305.0 L581.2 1306.4 L584.7 1304.9 L588.2 1304.0 L591.8 1306.0 L595.3 1305.2 L598.8 1305.9 L602.4 1304.4 L605.9 1305.9 L609.4 1303.6 L612.9 1304.1 L616.5 1303.7 L620.0 1304.4 L623.6 1304.3 L627.3 1305.2 L630.9 1304.4 L634.5 1304.4 L638.2 1304.8 L641.8 1303.7 L645.5 1305.7 L649.1 1303.6 L652.7 1304.4 L656.4 1305.1 L660.0 1305.2 L663.6 1303.7 L667.3 1304.5 L670.9 1304.5 L674.5 1304.4 L678.2 1303.8 L681.8 1305.0 L685.5 1304.5 L689.1 1304.3 L692.7 1305.1 L696.4 1304.5 L700.0 1304.6 L703.6 1304.6 L707.3 1304.4 L710.9 1305.3 L714.5 1304.0 L718.2 1303.5 L721.8 1304.3 L725.5 1304.3 L729.1 1303.6 L732.7 1304.9 L736.4 1304.8 L740.0 1304.0 L743.6 1304.9 L747.3 1304.0 L750.9 1305.1 L754.5 1304.1 L758.2 1305.2 L761.8 1304.2 L765.5 1305.7 L769.1 1305.8 L772.7 1303.8 L776.4 1305.9 L780.0 1304.8 L783.6 1304.0 L787.1 1305.9 L790.7 1305.8 L794.3 1304.2 L797.9 1305.3 L801.4 1304.0 L805.0 1306.0 L808.6 1304.4 L812.1 1305.3 L815.7 1304.6 L819.3 1304.3 L822.9 1304.1 L826.4 1304.3 L830.0 1305.9 L833.6 1304.4 L837.1 1304.5 L840.7 1305.6 L844.3 1306.2 L847.9 1304.9 L851.4 1304.5 L855.0 1305.7 L858.6 1304.7 L862.1 1304.7 L865.7 1305.4 L869.3 1304.8 L872.9 1306.2 L876.4 1304.7 L880.0 1305.1" stroke="#050505" stroke-width="3.3" stroke-dasharray="17.5 14.5 4 14.5"/>
<path d="M155.8 1598.0 L156.0 1594.2 L156.1 1590.5 L156.3 1586.7 L156.5 1583.0 L156.7 1579.2 L156.8 1575.5 L157.0 1571.7 L157.2 1567.9 L157.3 1564.2 L157.5 1560.4 L157.7 1556.7 L157.9 1552.9 L158.0 1549.2 L158.2 1545.4 L158.4 1541.6 L158.6 1537.9 L158.8 1534.1 L159.0 1530.3 L159.2 1526.6 L159.4 1522.8 L159.6 1519.1 L159.8 1515.5 L160.0 1512.0 L160.1 1508.4 L160.3 1504.9 L160.5 1501.3 L160.7 1497.8 L160.9 1494.2 L161.1 1490.7 L161.3 1487.1 L161.5 1483.6 L161.7 1480.1 L162.0 1476.6 L162.3 1473.1 L162.5 1469.6 L162.8 1466.1 L163.0 1462.6 L163.3 1459.1 L163.6 1455.6 L163.8 1452.1 L164.1 1448.6 L164.4 1445.0 L164.7 1441.4 L165.0 1437.9 L165.3 1434.3 L165.7 1430.7 L166.0 1427.1 L166.3 1423.6 L166.6 1420.0 L167.3 1415.9 L167.9 1411.9 L168.6 1407.8 L169.2 1403.8 L169.9 1399.7 L171.2 1396.3 L172.5 1392.9 L173.8 1389.5 L175.1 1386.0 L176.8 1382.5 L178.5 1379.0 L180.3 1375.4 L182.0 1371.9 L183.7 1368.3 L185.4 1364.8 L187.8 1361.7 L190.2 1358.6 L192.6 1355.5 L194.9 1352.3 L197.3 1349.2 L200.7 1346.9 L204.2 1344.9 L207.6 1344.6 L211.0 1342.0 L214.4 1340.9 L217.8 1340.3 L221.3 1338.3 L224.7 1339.4 L228.1 1337.7 L231.6 1335.9 L235.0 1335.5 L238.8 1333.5 L242.5 1334.4 L246.2 1333.5 L250.0 1331.6 L254.0 1330.4 L258.0 1329.1 L262.0 1330.4 L266.0 1329.3 L270.0 1327.6 L273.8 1326.9 L277.5 1325.5 L281.2 1326.5 L285.0 1326.4 L288.8 1324.2 L292.5 1323.8 L296.2 1324.4 L300.0 1323.0 L303.8 1323.2 L307.5 1323.3 L311.2 1322.2 L315.0 1320.9 L318.8 1322.3 L322.5 1321.6 L326.2 1321.4 L330.0 1320.2 L333.5 1319.5 L337.0 1319.1 L340.5 1320.4 L344.0 1319.9 L347.5 1317.6 L351.0 1317.2 L354.5 1317.0 L358.0 1318.0 L361.5 1316.7 L365.0 1317.0 L368.5 1315.9 L372.0 1316.5 L375.5 1317.3 L379.0 1315.8 L382.5 1314.6 L386.0 1314.5 L389.5 1314.6 L393.0 1314.4 L396.5 1313.8 L400.0 1314.3 L403.6 1313.0 L407.1 1313.3 L410.7 1312.8 L414.3 1312.5 L417.9 1311.9 L421.4 1312.8 L425.0 1313.0 L428.6 1311.7 L432.1 1310.9 L435.7 1311.4 L439.3 1310.3 L442.9 1310.1 L446.4 1310.2 L450.0 1310.5 L453.6 1311.2 L457.1 1308.9 L460.7 1309.6 L464.3 1308.2 L467.9 1308.8 L471.4 1310.0 L475.0 1309.4 L478.6 1308.2 L482.1 1307.5 L485.7 1307.2 L489.3 1307.6 L492.9 1307.1 L496.4 1306.4 L500.0 1306.7 L503.5 1305.4 L507.1 1307.1 L510.6 1307.5 L514.1 1307.3 L517.6 1306.0 L521.2 1305.6 L524.7 1304.8 L528.2 1306.8 L531.8 1305.3 L535.3 1304.3 L538.8 1306.3 L542.4 1305.4 L545.9 1305.5 L549.4 1304.9 L552.9 1304.0 L556.5 1305.3 L560.0 1304.4 L563.5 1304.9 L567.1 1304.2 L570.6 1305.2 L574.1 1303.3 L577.6 1305.0 L581.2 1304.0 L584.7 1302.8 L588.2 1304.5 L591.8 1304.4 L595.3 1304.3 L598.8 1303.2 L602.4 1303.6 L605.9 1303.5 L609.4 1303.6 L612.9 1302.8 L616.5 1302.0 L620.0 1302.8 L623.6 1302.5 L627.3 1302.5 L630.9 1301.7 L634.5 1302.1 L638.2 1303.2 L641.8 1302.9 L645.5 1302.1 L649.1 1303.7 L652.7 1301.7 L656.4 1301.6 L660.0 1303.2 L663.6 1303.8 L667.3 1303.7 L670.9 1303.1 L674.5 1302.7 L678.2 1302.2 L681.8 1303.9 L685.5 1303.2 L689.1 1302.1 L692.7 1303.7 L696.4 1303.4 L700.0 1302.8 L703.6 1303.9 L707.3 1302.5 L710.9 1302.6 L714.5 1303.0 L718.2 1302.3 L721.8 1302.3 L725.5 1303.8 L729.1 1303.6 L732.7 1303.7 L736.4 1303.4 L740.0 1303.2 L743.6 1301.7 L747.3 1303.6 L750.9 1302.1 L754.5 1303.1 L758.2 1303.2 L761.8 1302.1 L765.5 1303.3 L769.1 1301.8 L772.7 1301.9 L776.4 1303.4 L780.0 1302.8 L783.6 1302.4 L787.1 1302.8 L790.7 1303.2 L794.3 1302.9 L797.9 1303.7 L801.4 1303.6 L805.0 1302.3 L808.6 1301.9 L812.1 1302.8 L815.7 1303.9 L819.3 1302.3 L822.9 1303.6 L826.4 1302.8 L830.0 1304.0 L833.6 1301.9 L837.1 1302.2 L840.7 1303.6 L844.3 1304.1 L847.9 1304.0 L851.4 1303.8 L855.0 1302.5 L858.6 1303.1 L862.1 1301.8 L865.7 1302.9 L869.3 1303.0 L872.9 1302.0 L876.4 1302.3 L880.0 1303.0" stroke="#050505" stroke-width="3.3" stroke-dasharray="36 14.5"/>
<path d="M155.4 1602.0 L155.5 1598.3 L155.6 1594.6 L155.7 1590.9 L155.8 1587.2 L155.9 1583.5 L156.1 1579.8 L156.2 1576.1 L156.3 1572.4 L156.4 1568.7 L156.5 1565.0 L156.6 1561.3 L156.8 1557.6 L157.0 1553.8 L157.1 1550.0 L157.3 1546.1 L157.5 1542.3 L157.7 1538.5 L157.9 1534.6 L158.1 1530.8 L158.3 1527.0 L158.5 1523.2 L158.7 1519.3 L158.9 1515.8 L159.1 1512.3 L159.3 1508.7 L159.5 1505.2 L159.7 1501.7 L159.9 1498.1 L160.0 1494.6 L160.2 1491.0 L160.4 1487.5 L160.6 1484.0 L160.9 1480.5 L161.1 1477.0 L161.4 1473.5 L161.7 1470.0 L161.9 1466.5 L162.2 1463.0 L162.4 1459.5 L162.7 1456.0 L162.9 1452.5 L163.2 1449.0 L163.5 1445.4 L163.8 1441.7 L164.1 1438.1 L164.5 1434.5 L164.8 1430.9 L165.1 1427.2 L165.4 1423.6 L165.7 1420.0 L166.3 1416.4 L166.8 1412.8 L167.3 1409.2 L167.9 1405.6 L168.4 1402.0 L168.9 1398.4 L170.1 1394.5 L171.4 1390.7 L172.6 1386.8 L173.8 1382.9 L175.4 1379.3 L177.0 1375.7 L178.6 1372.0 L180.2 1368.4 L181.8 1364.8 L183.4 1361.2 L185.9 1357.9 L188.4 1354.7 L190.9 1351.4 L193.3 1348.2 L195.8 1344.9 L199.3 1343.6 L202.7 1341.7 L206.2 1339.8 L209.7 1337.9 L213.2 1336.1 L216.8 1335.9 L220.4 1333.2 L224.1 1332.6 L227.7 1332.3 L231.4 1330.2 L235.0 1330.1 L238.8 1329.5 L242.5 1328.0 L246.2 1328.3 L250.0 1326.6 L254.0 1325.4 L258.0 1326.1 L262.0 1325.6 L266.0 1323.4 L270.0 1323.2 L273.8 1322.2 L277.5 1321.1 L281.2 1321.2 L285.0 1320.6 L288.8 1320.8 L292.5 1321.4 L296.2 1319.2 L300.0 1319.2 L303.8 1319.4 L307.5 1318.2 L311.2 1317.8 L315.0 1317.2 L318.8 1318.3 L322.5 1318.3 L326.2 1316.2 L330.0 1316.5 L333.5 1316.7 L337.0 1316.3 L340.5 1316.0 L344.0 1314.9 L347.5 1313.9 L351.0 1315.1 L354.5 1314.1 L358.0 1313.7 L361.5 1314.3 L365.0 1313.2 L368.5 1312.2 L372.0 1312.1 L375.5 1312.0 L379.0 1313.3 L382.5 1311.9 L386.0 1311.7 L389.5 1312.1 L393.0 1310.7 L396.5 1309.8 L400.0 1310.5 L403.6 1309.7 L407.1 1309.0 L410.7 1310.2 L414.3 1310.1 L417.9 1308.9 L421.4 1307.7 L425.0 1307.5 L428.6 1307.3 L432.1 1307.2 L435.7 1307.7 L439.3 1306.2 L442.9 1306.9 L446.4 1306.5 L450.0 1306.5 L453.6 1305.3 L457.1 1305.2 L460.7 1305.9 L464.3 1305.7 L467.9 1304.2 L471.4 1304.6 L475.0 1305.1 L478.6 1304.0 L482.1 1304.4 L485.7 1304.3 L489.3 1302.9 L492.9 1301.8 L496.4 1301.2 L500.0 1302.0 L503.5 1302.2 L507.1 1302.8 L510.6 1301.8 L514.1 1301.0 L517.6 1300.3 L521.2 1301.7 L524.7 1300.0 L528.2 1301.1 L531.8 1301.2 L535.3 1300.7 L538.8 1301.1 L542.4 1299.2 L545.9 1299.1 L549.4 1301.0 L552.9 1299.7 L556.5 1299.0 L560.0 1299.4 L563.5 1299.9 L567.1 1300.0 L570.6 1298.6 L574.1 1298.2 L577.6 1298.1 L581.2 1299.0 L584.7 1299.5 L588.2 1297.8 L591.8 1298.4 L595.3 1297.3 L598.8 1297.5 L602.4 1297.8 L605.9 1297.8 L609.4 1296.7 L612.9 1298.5 L616.5 1298.4 L620.0 1297.4 L623.6 1297.9 L627.3 1298.4 L630.9 1297.4 L634.5 1296.7 L638.2 1296.5 L641.8 1297.1 L645.5 1296.7 L649.1 1297.2 L652.7 1296.8 L656.4 1296.9 L660.0 1296.4 L663.6 1297.2 L667.3 1296.6 L670.9 1297.1 L674.5 1296.4 L678.2 1297.4 L681.8 1295.9 L685.5 1297.7 L689.1 1296.2 L692.7 1297.3 L696.4 1297.5 L700.0 1296.5 L703.6 1295.4 L707.3 1295.6 L710.9 1296.3 L714.5 1296.9 L718.2 1295.6 L721.8 1297.1 L725.5 1295.8 L729.1 1296.2 L732.7 1296.5 L736.4 1295.4 L740.0 1295.6 L743.6 1295.4 L747.3 1295.4 L750.9 1296.1 L754.5 1296.5 L758.2 1296.8 L761.8 1295.8 L765.5 1295.3 L769.1 1296.0 L772.7 1295.3 L776.4 1295.8 L780.0 1295.9 L783.6 1296.0 L787.1 1295.3 L790.7 1296.7 L794.3 1296.2 L797.9 1295.0 L801.4 1294.8 L805.0 1294.8 L808.6 1296.9 L812.1 1295.3 L815.7 1294.8 L819.3 1295.6 L822.9 1295.8 L826.4 1296.4 L830.0 1295.4 L833.6 1296.8 L837.1 1296.9 L840.7 1295.6 L844.3 1295.7 L847.9 1294.7 L851.4 1294.9 L855.0 1295.3 L858.6 1296.5 L862.1 1295.2 L865.7 1295.9 L869.3 1294.6 L872.9 1296.4 L876.4 1296.2 L880.0 1295.8" stroke="#050505" stroke-width="3.3" stroke-dasharray="36 14.5 4 14.5"/>
<path d="M155.9 1600.0 L156.1 1596.2 L156.3 1592.4 L156.4 1588.6 L156.6 1584.9 L156.8 1581.1 L157.0 1577.3 L157.1 1573.5 L157.3 1569.7 L157.5 1565.9 L157.7 1562.2 L157.8 1558.4 L158.0 1554.8 L158.2 1551.3 L158.4 1547.8 L158.5 1544.2 L158.7 1540.7 L158.9 1537.2 L159.1 1533.7 L159.3 1530.1 L159.4 1526.6 L159.6 1523.1 L159.8 1519.5 L160.0 1516.0 L160.2 1512.5 L160.4 1509.0 L160.6 1505.4 L160.8 1501.9 L161.0 1498.4 L161.2 1494.9 L161.4 1491.3 L161.5 1487.8 L161.7 1484.3 L162.0 1480.8 L162.3 1477.3 L162.5 1473.8 L162.8 1470.3 L163.0 1466.8 L163.3 1463.3 L163.5 1459.8 L163.8 1456.3 L164.0 1452.8 L164.3 1449.3 L164.6 1445.6 L164.9 1442.0 L165.2 1438.3 L165.6 1434.7 L165.9 1431.0 L166.2 1427.3 L166.5 1423.7 L166.8 1420.0 L167.3 1416.2 L167.9 1412.4 L168.4 1408.7 L168.9 1404.9 L169.4 1401.1 L170.0 1397.3 L170.9 1393.9 L171.8 1390.6 L172.7 1387.2 L173.6 1383.8 L174.5 1380.4 L176.1 1376.7 L177.6 1373.0 L179.1 1369.4 L180.6 1365.7 L182.2 1362.0 L183.7 1358.3 L185.9 1354.9 L188.0 1351.6 L190.2 1348.2 L192.4 1344.8 L194.6 1341.5 L198.1 1339.6 L201.6 1338.7 L205.1 1335.4 L208.7 1333.8 L212.2 1332.3 L216.0 1330.5 L219.8 1329.3 L223.6 1330.0 L227.4 1327.0 L231.2 1326.9 L235.0 1325.7 L238.8 1324.6 L242.5 1325.2 L246.2 1322.4 L250.0 1322.6 L254.0 1321.1 L258.0 1321.2 L262.0 1319.7 L266.0 1319.9 L270.0 1319.6 L273.8 1319.7 L277.5 1317.5 L281.2 1318.4 L285.0 1318.2 L288.8 1316.4 L292.5 1317.6 L296.2 1315.4 L300.0 1316.0 L303.8 1316.5 L307.5 1314.5 L311.2 1315.9 L315.0 1315.6 L318.8 1313.7 L322.5 1312.8 L326.2 1312.6 L330.0 1313.2 L333.5 1312.1 L337.0 1313.2 L340.5 1311.7 L344.0 1311.0 L347.5 1312.4 L351.0 1311.6 L354.5 1310.0 L358.0 1309.6 L361.5 1309.7 L365.0 1310.0 L368.5 1310.5 L372.0 1310.4 L375.5 1309.7 L379.0 1308.9 L382.5 1307.9 L386.0 1308.0 L389.5 1308.5 L393.0 1308.8 L396.5 1308.2 L400.0 1307.3 L403.6 1306.6 L407.1 1305.6 L410.7 1305.3 L414.3 1305.8 L417.9 1304.6 L421.4 1306.6 L425.0 1305.2 L428.6 1305.7 L432.1 1304.9 L435.7 1303.3 L439.3 1303.4 L442.9 1304.1 L446.4 1303.2 L450.0 1303.0 L453.6 1303.0 L457.1 1302.5 L460.7 1302.9 L464.3 1301.6 L467.9 1301.9 L471.4 1301.9 L475.0 1300.8 L478.6 1299.0 L482.1 1299.3 L485.7 1299.3 L489.3 1300.2 L492.9 1298.6 L496.4 1297.7 L500.0 1298.0 L503.5 1297.3 L507.1 1296.9 L510.6 1298.0 L514.1 1297.5 L517.6 1297.3 L521.2 1296.1 L524.7 1297.1 L528.2 1297.7 L531.8 1295.7 L535.3 1296.2 L538.8 1296.8 L542.4 1295.2 L545.9 1296.8 L549.4 1295.8 L552.9 1295.7 L556.5 1294.4 L560.0 1295.0 L563.5 1296.0 L567.1 1295.9 L570.6 1294.4 L574.1 1295.1 L577.6 1294.4 L581.2 1294.8 L584.7 1293.4 L588.2 1294.2 L591.8 1294.8 L595.3 1293.9 L598.8 1293.8 L602.4 1292.5 L605.9 1292.5 L609.4 1292.7 L612.9 1293.6 L616.5 1291.9 L620.0 1292.6 L623.6 1293.6 L627.3 1293.5 L630.9 1293.0 L634.5 1292.7 L638.2 1292.3 L641.8 1292.6 L645.5 1291.9 L649.1 1291.0 L652.7 1292.5 L656.4 1290.8 L660.0 1291.0 L663.6 1291.5 L667.3 1290.8 L670.9 1291.3 L674.5 1290.6 L678.2 1292.2 L681.8 1290.5 L685.5 1292.3 L689.1 1290.9 L692.7 1290.0 L696.4 1290.5 L700.0 1291.0 L703.6 1290.0 L707.3 1290.0 L710.9 1291.4 L714.5 1290.8 L718.2 1291.7 L721.8 1291.1 L725.5 1291.5 L729.1 1291.2 L732.7 1291.4 L736.4 1289.9 L740.0 1290.5 L743.6 1289.7 L747.3 1291.2 L750.9 1289.4 L754.5 1290.7 L758.2 1289.5 L761.8 1290.4 L765.5 1289.6 L769.1 1290.6 L772.7 1290.4 L776.4 1290.6 L780.0 1289.9 L783.6 1290.9 L787.1 1289.2 L790.7 1290.3 L794.3 1290.3 L797.9 1290.1 L801.4 1290.0 L805.0 1290.2 L808.6 1290.0 L812.1 1290.2 L815.7 1289.1 L819.3 1289.7 L822.9 1290.5 L826.4 1288.7 L830.0 1289.7 L833.6 1288.9 L837.1 1289.9 L840.7 1289.2 L844.3 1290.1 L847.9 1289.1 L851.4 1289.7 L855.0 1289.0 L858.6 1289.6 L862.1 1289.8 L865.7 1289.2 L869.3 1289.7 L872.9 1290.1 L876.4 1289.7 L880.0 1289.5" stroke="#050505" stroke-width="3.3" stroke-dasharray="36 14.5 4 14.5 4 14.5"/>
<path d="M156.9 1633.0 L157.1 1629.5 L157.2 1625.9 L157.4 1622.4 L157.5 1618.9 L157.6 1615.4 L157.8 1611.8 L157.9 1608.3 L158.1 1604.8 L158.2 1601.3 L158.3 1597.7 L158.5 1594.2 L158.6 1590.7 L158.8 1587.2 L158.9 1583.6 L159.1 1580.1 L159.2 1576.6 L159.3 1573.1 L159.5 1569.5 L159.6 1566.0 L159.8 1562.5 L159.9 1559.0 L160.1 1555.4 L160.3 1551.8 L160.4 1548.3 L160.6 1544.7 L160.8 1541.1 L161.0 1537.6 L161.2 1534.0 L161.3 1530.4 L161.5 1526.8 L161.7 1523.3 L161.9 1519.7 L162.1 1516.2 L162.3 1512.7 L162.5 1509.2 L162.7 1505.6 L162.9 1502.1 L163.1 1498.6 L163.2 1495.1 L163.4 1491.6 L163.6 1488.1 L163.8 1484.6 L164.1 1481.1 L164.3 1477.6 L164.6 1474.1 L164.9 1470.6 L165.1 1467.1 L165.4 1463.6 L165.6 1460.1 L165.9 1456.6 L166.1 1453.1 L166.4 1449.6 L166.7 1445.9 L167.0 1442.2 L167.3 1438.5 L167.6 1434.8 L167.9 1431.1 L168.3 1427.4 L168.6 1423.7 L168.9 1420.0 L169.4 1416.1 L169.9 1412.2 L170.4 1408.2 L170.9 1404.3 L171.5 1400.4 L172.0 1396.5 L172.8 1392.9 L173.7 1389.2 L174.6 1385.6 L175.5 1382.0 L176.3 1378.4 L177.8 1374.7 L179.2 1370.9 L180.7 1367.2 L182.1 1363.4 L183.6 1359.7 L185.1 1356.0 L186.8 1352.5 L188.5 1349.1 L190.2 1345.6 L191.9 1342.2 L193.6 1338.7 L197.2 1337.9 L200.7 1334.9 L204.3 1333.2 L207.8 1331.6 L211.4 1329.2 L214.7 1329.0 L218.1 1326.1 L221.5 1327.0 L224.9 1326.0 L228.2 1324.4 L231.6 1323.9 L235.0 1322.2 L238.8 1322.0 L242.5 1320.9 L246.2 1318.8 L250.0 1318.4 L254.0 1316.6 L258.0 1315.9 L262.0 1316.8 L266.0 1315.7 L270.0 1314.5 L273.8 1313.6 L277.5 1313.1 L281.2 1312.5 L285.0 1313.4 L288.8 1311.6 L292.5 1311.9 L296.2 1310.3 L300.0 1310.0 L303.8 1309.8 L307.5 1307.5 L311.2 1308.6 L315.0 1307.1 L318.8 1305.5 L322.5 1306.0 L326.2 1303.8 L330.0 1303.9 L333.5 1303.0 L337.0 1301.5 L340.5 1302.2 L344.0 1302.1 L347.5 1300.1 L351.0 1300.4 L354.5 1298.6 L358.0 1297.9 L361.5 1297.2 L365.0 1296.9 L368.5 1297.0 L372.0 1295.0 L375.5 1296.0 L379.0 1295.4 L382.5 1295.4 L386.0 1294.1 L389.5 1294.0 L393.0 1294.5 L396.5 1292.7 L400.0 1293.4 L403.6 1292.2 L407.1 1293.0 L410.7 1292.6 L414.3 1292.1 L417.9 1292.9 L421.4 1291.8 L425.0 1292.0 L428.6 1290.4 L432.1 1290.0 L435.7 1289.8 L439.3 1290.6 L442.9 1289.9 L446.4 1288.7 L450.0 1288.9 L453.6 1287.5 L457.1 1288.1 L460.7 1289.1 L464.3 1288.3 L467.9 1288.3 L471.4 1288.7 L475.0 1288.0 L478.6 1287.5 L482.1 1286.4 L485.7 1285.7 L489.3 1286.9 L492.9 1287.4 L496.4 1285.5 L500.0 1285.9 L503.5 1285.1 L507.1 1286.5 L510.6 1286.8 L514.1 1286.3 L517.6 1286.3 L521.2 1286.8 L524.7 1285.2 L528.2 1286.2 L531.8 1285.4 L535.3 1284.3 L538.8 1286.1 L542.4 1285.0 L545.9 1284.5 L549.4 1285.5 L552.9 1285.4 L556.5 1284.4 L560.0 1285.1 L563.5 1285.2 L567.1 1284.4 L570.6 1285.5 L574.1 1283.9 L577.6 1284.4 L581.2 1285.4 L584.7 1284.1 L588.2 1285.7 L591.8 1283.7 L595.3 1285.8 L598.8 1285.1 L602.4 1284.0 L605.9 1285.6 L609.4 1285.1 L612.9 1285.3 L616.5 1285.2 L620.0 1284.4 L623.6 1283.3 L627.3 1283.9 L630.9 1285.5 L634.5 1283.2 L638.2 1284.5 L641.8 1283.5 L645.5 1285.1 L649.1 1283.6 L652.7 1284.1 L656.4 1283.3 L660.0 1284.5 L663.6 1283.9 L667.3 1283.3 L670.9 1283.1 L674.5 1283.2 L678.2 1284.9 L681.8 1285.1 L685.5 1284.2 L689.1 1285.2 L692.7 1283.2 L696.4 1283.9 L700.0 1284.1 L703.6 1283.9 L707.3 1284.1 L710.9 1285.0 L714.5 1283.1 L718.2 1283.2 L721.8 1283.1 L725.5 1284.0 L729.1 1283.8 L732.7 1284.3 L736.4 1284.3 L740.0 1283.9 L743.6 1284.4 L747.3 1283.9 L750.9 1285.0 L754.5 1284.6 L758.2 1285.1 L761.8 1284.4 L765.5 1285.3 L769.1 1284.8 L772.7 1283.9 L776.4 1284.8 L780.0 1284.3 L783.6 1284.4 L787.1 1283.6 L790.7 1283.8 L794.3 1283.7 L797.9 1284.8 L801.4 1283.3 L805.0 1284.1 L808.6 1285.0 L812.1 1284.1 L815.7 1285.1 L819.3 1283.7 L822.9 1283.4 L826.4 1284.2 L830.0 1284.7 L833.6 1283.9 L837.1 1283.9 L840.7 1285.5 L844.3 1284.8 L847.9 1283.6 L851.4 1285.2 L855.0 1285.2 L858.6 1285.3 L862.1 1284.8 L865.7 1283.3 L869.3 1284.8 L872.9 1284.7 L876.4 1283.8 L880.0 1284.5" stroke="#a6a6a6" stroke-width="3.3"/>
<path d="M158.0 1638.0 L158.1 1634.4 L158.3 1630.9 L158.5 1627.3 L158.7 1623.7 L158.9 1620.1 L159.0 1616.6 L159.2 1613.0 L159.4 1609.4 L159.6 1605.8 L159.8 1602.3 L160.0 1598.7 L160.1 1595.1 L160.3 1591.6 L160.5 1588.0 L160.7 1584.4 L160.9 1580.8 L161.0 1577.3 L161.2 1573.7 L161.4 1570.1 L161.6 1566.5 L161.8 1563.0 L161.9 1559.4 L162.1 1555.8 L162.3 1552.2 L162.5 1548.6 L162.7 1545.0 L162.8 1541.4 L163.0 1537.8 L163.2 1534.2 L163.4 1530.6 L163.6 1527.0 L163.7 1523.4 L163.9 1519.8 L164.1 1516.3 L164.3 1512.8 L164.5 1509.3 L164.7 1505.8 L164.9 1502.3 L165.1 1498.8 L165.3 1495.3 L165.5 1491.8 L165.7 1488.2 L165.9 1484.7 L166.2 1481.2 L166.4 1477.7 L166.7 1474.2 L166.9 1470.7 L167.2 1467.2 L167.4 1463.7 L167.7 1460.2 L167.9 1456.7 L168.2 1453.2 L168.4 1449.7 L168.7 1446.0 L169.0 1442.3 L169.4 1438.6 L169.7 1434.9 L170.0 1431.2 L170.3 1427.4 L170.6 1423.7 L170.9 1420.0 L171.4 1416.0 L171.9 1412.0 L172.5 1407.9 L173.0 1403.9 L173.5 1399.9 L174.0 1395.9 L174.8 1392.1 L175.7 1388.3 L176.5 1384.5 L177.4 1380.8 L178.2 1377.0 L179.6 1373.2 L181.0 1369.4 L182.4 1365.7 L183.8 1361.9 L185.2 1358.1 L186.6 1354.3 L187.9 1350.8 L189.2 1347.3 L190.4 1343.8 L191.7 1340.3 L193.0 1336.8 L196.5 1333.8 L200.1 1333.4 L203.7 1330.0 L207.2 1329.6 L210.8 1327.1 L214.3 1326.0 L217.7 1323.9 L221.2 1323.4 L224.6 1322.7 L228.1 1322.8 L231.5 1321.5 L235.0 1319.7 L238.8 1317.6 L242.5 1317.7 L246.2 1317.7 L250.0 1315.7 L254.0 1315.3 L258.0 1313.3 L262.0 1312.3 L266.0 1312.0 L270.0 1310.7 L273.8 1309.1 L277.5 1309.8 L281.2 1309.9 L285.0 1308.5 L288.8 1307.2 L292.5 1306.1 L296.2 1306.8 L300.0 1305.6 L303.8 1304.7 L307.5 1303.3 L311.2 1303.1 L315.0 1303.7 L318.8 1302.0 L322.5 1302.1 L326.2 1300.4 L330.0 1300.4 L333.5 1300.9 L337.0 1298.5 L340.5 1297.5 L344.0 1297.4 L347.5 1298.3 L351.0 1296.5 L354.5 1296.5 L358.0 1295.6 L361.5 1294.7 L365.0 1294.5 L368.5 1294.0 L372.0 1293.3 L375.5 1294.5 L379.0 1293.8 L382.5 1293.4 L386.0 1292.4 L389.5 1292.4 L393.0 1290.3 L396.5 1291.3 L400.0 1290.6 L403.6 1289.1 L407.1 1289.7 L410.7 1288.9 L414.3 1288.8 L417.9 1287.9 L421.4 1288.1 L425.0 1287.5 L428.6 1288.5 L432.1 1288.5 L435.7 1287.9 L439.3 1287.7 L442.9 1285.9 L446.4 1287.2 L450.0 1286.2 L453.6 1286.2 L457.1 1285.5 L460.7 1285.1 L464.3 1284.2 L467.9 1285.3 L471.4 1285.4 L475.0 1284.3 L478.6 1285.3 L482.1 1283.3 L485.7 1285.0 L489.3 1284.6 L492.9 1283.2 L496.4 1282.9 L500.0 1282.9 L503.5 1283.4 L507.1 1283.3 L510.6 1282.8 L514.1 1282.4 L517.6 1282.0 L521.2 1282.6 L524.7 1282.1 L528.2 1282.3 L531.8 1282.2 L535.3 1281.8 L538.8 1282.1 L542.4 1282.0 L545.9 1283.2 L549.4 1281.6 L552.9 1281.2 L556.5 1281.5 L560.0 1282.2 L563.5 1282.2 L567.1 1281.2 L570.6 1281.6 L574.1 1281.8 L577.6 1281.9 L581.2 1282.0 L584.7 1281.6 L588.2 1281.8 L591.8 1282.9 L595.3 1281.2 L598.8 1282.8 L602.4 1282.2 L605.9 1281.5 L609.4 1281.8 L612.9 1280.8 L616.5 1281.6 L620.0 1281.4 L623.6 1282.4 L627.3 1281.7 L630.9 1281.4 L634.5 1281.2 L638.2 1280.4 L641.8 1280.5 L645.5 1282.0 L649.1 1280.1 L652.7 1281.9 L656.4 1280.8 L660.0 1280.7 L663.6 1281.8 L667.3 1281.2 L670.9 1281.1 L674.5 1280.6 L678.2 1281.4 L681.8 1280.4 L685.5 1281.8 L689.1 1281.7 L692.7 1281.1 L696.4 1280.1 L700.0 1281.1 L703.6 1281.0 L707.3 1281.2 L710.9 1280.6 L714.5 1281.5 L718.2 1282.0 L721.8 1281.6 L725.5 1281.1 L729.1 1280.6 L732.7 1280.7 L736.4 1280.5 L740.0 1280.0 L743.6 1280.5 L747.3 1280.1 L750.9 1281.9 L754.5 1281.0 L758.2 1282.2 L761.8 1281.7 L765.5 1281.8 L769.1 1280.0 L772.7 1280.6 L776.4 1281.3 L780.0 1281.2 L783.6 1280.4 L787.1 1281.1 L790.7 1280.5 L794.3 1281.0 L797.9 1280.9 L801.4 1281.6 L805.0 1280.4 L808.6 1280.3 L812.1 1281.8 L815.7 1280.2 L819.3 1281.5 L822.9 1280.6 L826.4 1280.4 L830.0 1282.2 L833.6 1281.2 L837.1 1281.2 L840.7 1280.3 L844.3 1281.6 L847.9 1281.9 L851.4 1280.3 L855.0 1282.2 L858.6 1280.7 L862.1 1282.3 L865.7 1280.3 L869.3 1280.6 L872.9 1280.5 L876.4 1280.6 L880.0 1281.3" stroke="#a6a6a6" stroke-width="3.3" stroke-dasharray="3 6.4"/>
<path d="M159.0 1640.0 L159.2 1636.5 L159.4 1633.0 L159.6 1629.5 L159.8 1626.0 L160.1 1622.5 L160.3 1619.0 L160.5 1615.5 L160.7 1612.0 L160.9 1608.6 L161.1 1605.1 L161.4 1601.6 L161.6 1598.1 L161.8 1594.6 L162.0 1591.1 L162.2 1587.6 L162.4 1584.1 L162.7 1580.6 L162.9 1577.1 L163.1 1573.6 L163.3 1570.1 L163.5 1566.6 L163.7 1563.1 L164.0 1559.6 L164.1 1556.0 L164.3 1552.4 L164.5 1548.8 L164.7 1545.2 L164.9 1541.6 L165.0 1538.0 L165.2 1534.3 L165.4 1530.7 L165.6 1527.1 L165.8 1523.5 L166.0 1519.9 L166.2 1516.4 L166.4 1512.9 L166.6 1509.4 L166.7 1505.9 L166.9 1502.4 L167.1 1498.9 L167.3 1495.4 L167.5 1491.9 L167.7 1488.4 L167.9 1484.8 L168.2 1481.3 L168.4 1477.8 L168.7 1474.3 L168.9 1470.8 L169.2 1467.3 L169.4 1463.8 L169.7 1460.3 L170.0 1456.8 L170.2 1453.3 L170.5 1449.8 L170.8 1446.1 L171.1 1442.4 L171.4 1438.7 L171.7 1434.9 L172.0 1431.2 L172.3 1427.5 L172.6 1423.7 L173.0 1420.0 L173.4 1416.5 L173.8 1413.0 L174.3 1409.5 L174.7 1406.0 L175.1 1402.5 L175.6 1399.0 L176.0 1395.5 L176.8 1391.7 L177.6 1387.8 L178.5 1383.9 L179.3 1380.1 L180.1 1376.2 L181.5 1372.4 L182.9 1368.6 L184.2 1364.8 L185.6 1361.0 L187.0 1357.2 L188.4 1353.4 L189.2 1349.8 L190.1 1346.3 L190.9 1342.8 L191.7 1339.2 L192.6 1335.7 L196.2 1334.2 L199.7 1331.4 L203.3 1328.7 L206.9 1328.3 L210.5 1325.8 L214.0 1323.8 L217.5 1323.2 L221.0 1322.2 L224.5 1322.7 L228.0 1319.3 L231.5 1318.3 L235.0 1318.3 L238.8 1317.9 L242.5 1315.8 L246.2 1314.2 L250.0 1314.0 L254.0 1312.0 L258.0 1310.6 L262.0 1310.1 L266.0 1310.3 L270.0 1308.1 L273.8 1308.1 L277.5 1307.7 L281.2 1304.9 L285.0 1305.3 L288.8 1303.6 L292.5 1303.4 L296.2 1303.6 L300.0 1302.4 L303.8 1302.4 L307.5 1300.9 L311.2 1300.3 L315.0 1300.9 L318.8 1298.4 L322.5 1299.7 L326.2 1298.5 L330.0 1297.8 L333.5 1297.7 L337.0 1297.7 L340.5 1295.4 L344.0 1295.5 L347.5 1295.0 L351.0 1293.8 L354.5 1295.4 L358.0 1292.8 L361.5 1293.2 L365.0 1292.8 L368.5 1292.6 L372.0 1292.3 L375.5 1292.1 L379.0 1290.7 L382.5 1289.9 L386.0 1289.4 L389.5 1290.2 L393.0 1290.6 L396.5 1289.8 L400.0 1288.6 L403.6 1288.9 L407.1 1286.9 L410.7 1288.6 L414.3 1287.8 L417.9 1287.4 L421.4 1287.7 L425.0 1287.6 L428.6 1285.7 L432.1 1285.9 L435.7 1284.8 L439.3 1285.8 L442.9 1285.9 L446.4 1284.1 L450.0 1284.3 L453.6 1285.1 L457.1 1284.3 L460.7 1283.8 L464.3 1283.1 L467.9 1282.8 L471.4 1283.0 L475.0 1282.7 L478.6 1282.1 L482.1 1283.0 L485.7 1281.2 L489.3 1281.4 L492.9 1281.4 L496.4 1281.7 L500.0 1280.8 L503.5 1280.1 L507.1 1281.1 L510.6 1279.5 L514.1 1279.8 L517.6 1280.0 L521.2 1280.5 L524.7 1279.5 L528.2 1280.2 L531.8 1280.7 L535.3 1281.4 L538.8 1279.2 L542.4 1279.2 L545.9 1280.0 L549.4 1280.4 L552.9 1280.0 L556.5 1280.8 L560.0 1280.0 L563.5 1279.9 L567.1 1279.4 L570.6 1281.0 L574.1 1280.1 L577.6 1278.8 L581.2 1280.7 L584.7 1279.9 L588.2 1279.4 L591.8 1280.2 L595.3 1278.6 L598.8 1280.3 L602.4 1280.1 L605.9 1278.8 L609.4 1279.6 L612.9 1280.0 L616.5 1279.8 L620.0 1279.3 L623.6 1278.9 L627.3 1279.7 L630.9 1279.0 L634.5 1280.0 L638.2 1280.2 L641.8 1278.9 L645.5 1279.5 L649.1 1278.5 L652.7 1278.4 L656.4 1280.1 L660.0 1279.8 L663.6 1278.7 L667.3 1278.4 L670.9 1278.4 L674.5 1277.9 L678.2 1279.5 L681.8 1279.4 L685.5 1279.4 L689.1 1278.7 L692.7 1278.6 L696.4 1279.3 L700.0 1278.9 L703.6 1278.9 L707.3 1279.9 L710.9 1279.9 L714.5 1279.1 L718.2 1279.1 L721.8 1278.6 L725.5 1279.5 L729.1 1277.8 L732.7 1277.9 L736.4 1278.5 L740.0 1279.9 L743.6 1279.4 L747.3 1277.9 L750.9 1278.9 L754.5 1280.0 L758.2 1278.6 L761.8 1278.3 L765.5 1279.1 L769.1 1279.0 L772.7 1278.6 L776.4 1278.7 L780.0 1279.0 L783.6 1278.8 L787.1 1279.5 L790.7 1278.0 L794.3 1279.6 L797.9 1279.4 L801.4 1278.1 L805.0 1280.1 L808.6 1278.7 L812.1 1280.0 L815.7 1280.2 L819.3 1280.2 L822.9 1279.9 L826.4 1280.2 L830.0 1278.5 L833.6 1278.5 L837.1 1279.0 L840.7 1278.4 L844.3 1278.1 L847.9 1278.1 L851.4 1278.3 L855.0 1278.5 L858.6 1278.4 L862.1 1279.5 L865.7 1278.6 L869.3 1279.8 L872.9 1280.1 L876.4 1279.3 L880.0 1279.1" stroke="#a6a6a6" stroke-width="3.3" stroke-dasharray="12.5 6.2"/>
<path d="M160.0 1636.0 L160.3 1632.4 L160.6 1628.7 L160.8 1625.1 L161.1 1621.5 L161.4 1617.9 L161.7 1614.2 L162.0 1610.6 L162.3 1607.0 L162.6 1603.4 L162.8 1599.7 L163.1 1596.1 L163.4 1592.5 L163.7 1588.8 L164.0 1585.2 L164.3 1581.6 L164.6 1578.0 L164.8 1574.3 L165.1 1570.7 L165.4 1567.1 L165.7 1563.4 L166.0 1559.8 L166.2 1556.2 L166.3 1552.6 L166.5 1548.9 L166.7 1545.3 L166.9 1541.7 L167.1 1538.1 L167.3 1534.4 L167.4 1530.8 L167.6 1527.2 L167.8 1523.6 L168.0 1519.9 L168.2 1516.4 L168.4 1512.9 L168.6 1509.4 L168.8 1505.9 L169.0 1502.4 L169.2 1498.9 L169.4 1495.4 L169.6 1491.9 L169.8 1488.4 L170.0 1484.9 L170.2 1481.4 L170.5 1477.9 L170.7 1474.4 L171.0 1470.9 L171.2 1467.4 L171.5 1463.9 L171.7 1460.4 L172.0 1456.9 L172.2 1453.4 L172.5 1449.9 L172.8 1446.2 L173.1 1442.4 L173.4 1438.7 L173.7 1435.0 L174.0 1431.2 L174.4 1427.5 L174.7 1423.7 L175.0 1420.0 L175.4 1416.5 L175.8 1412.9 L176.3 1409.4 L176.7 1405.9 L177.1 1402.3 L177.6 1398.8 L178.0 1395.3 L178.8 1391.3 L179.6 1387.4 L180.4 1383.5 L181.2 1379.5 L182.1 1375.6 L183.4 1371.8 L184.8 1368.0 L186.1 1364.2 L187.5 1360.3 L188.8 1356.5 L190.2 1352.7 L190.6 1349.1 L191.0 1345.6 L191.4 1342.0 L191.9 1338.4 L192.3 1334.8 L195.9 1333.7 L199.5 1329.8 L203.1 1330.0 L206.7 1326.5 L210.2 1324.9 L213.8 1324.1 L217.3 1322.8 L220.9 1322.0 L224.4 1320.1 L227.9 1319.1 L231.5 1317.7 L235.0 1317.2 L238.8 1316.7 L242.5 1314.9 L246.2 1314.6 L250.0 1312.8 L253.3 1311.7 L256.7 1310.8 L260.0 1308.6 L263.3 1308.3 L266.7 1306.6 L270.0 1306.0 L273.8 1305.4 L277.5 1305.7 L281.2 1304.5 L285.0 1302.7 L288.8 1302.2 L292.5 1301.6 L296.2 1301.5 L300.0 1299.9 L303.8 1299.7 L307.5 1298.5 L311.2 1299.5 L315.0 1298.5 L318.8 1298.1 L322.5 1295.7 L326.2 1296.3 L330.0 1295.8 L333.5 1294.9 L337.0 1295.0 L340.5 1294.1 L344.0 1292.9 L347.5 1292.5 L351.0 1292.4 L354.5 1293.0 L358.0 1293.0 L361.5 1290.7 L365.0 1291.4 L368.5 1290.8 L372.0 1289.4 L375.5 1291.3 L379.0 1288.8 L382.5 1288.9 L386.0 1288.7 L389.5 1288.2 L393.0 1287.0 L396.5 1288.3 L400.0 1287.0 L403.6 1286.3 L407.1 1286.3 L410.7 1285.3 L414.3 1286.7 L417.9 1285.8 L421.4 1286.1 L425.0 1284.5 L428.6 1284.7 L432.1 1285.4 L435.7 1283.5 L439.3 1283.8 L442.9 1284.4 L446.4 1283.7 L450.0 1282.8 L453.6 1283.0 L457.1 1283.0 L460.7 1281.5 L464.3 1282.8 L467.9 1280.9 L471.4 1281.3 L475.0 1280.9 L478.6 1279.7 L482.1 1280.1 L485.7 1279.6 L489.3 1279.7 L492.9 1280.1 L496.4 1280.1 L500.0 1279.1 L503.5 1278.6 L507.1 1279.0 L510.6 1279.2 L514.1 1278.2 L517.6 1280.0 L521.2 1280.0 L524.7 1278.5 L528.2 1278.2 L531.8 1279.8 L535.3 1278.3 L538.8 1279.5 L542.4 1279.5 L545.9 1278.2 L549.4 1279.0 L552.9 1278.9 L556.5 1279.5 L560.0 1278.3 L563.5 1277.8 L567.1 1279.0 L570.6 1277.0 L574.1 1278.4 L577.6 1277.4 L581.2 1278.1 L584.7 1278.5 L588.2 1278.8 L591.8 1277.6 L595.3 1278.5 L598.8 1277.3 L602.4 1278.4 L605.9 1278.6 L609.4 1276.7 L612.9 1278.7 L616.5 1277.3 L620.0 1277.6 L623.6 1278.0 L627.3 1276.8 L630.9 1278.0 L634.5 1276.4 L638.2 1276.7 L641.8 1277.9 L645.5 1277.8 L649.1 1276.6 L652.7 1278.1 L656.4 1276.9 L660.0 1277.8 L663.6 1278.5 L667.3 1276.9 L670.9 1276.4 L674.5 1276.2 L678.2 1276.6 L681.8 1278.4 L685.5 1278.5 L689.1 1278.4 L692.7 1277.0 L696.4 1276.3 L700.0 1277.2 L703.6 1277.4 L707.3 1277.2 L710.9 1278.1 L714.5 1277.6 L718.2 1278.3 L721.8 1276.6 L725.5 1277.6 L729.1 1277.1 L732.7 1276.4 L736.4 1278.1 L740.0 1278.3 L743.6 1276.3 L747.3 1276.8 L750.9 1277.8 L754.5 1276.7 L758.2 1276.3 L761.8 1278.0 L765.5 1276.4 L769.1 1276.8 L772.7 1278.4 L776.4 1276.9 L780.0 1277.3 L783.6 1277.3 L787.1 1278.0 L790.7 1277.8 L794.3 1277.2 L797.9 1277.8 L801.4 1277.3 L805.0 1277.6 L808.6 1277.2 L812.1 1276.5 L815.7 1276.4 L819.3 1276.2 L822.9 1277.3 L826.4 1277.9 L830.0 1276.2 L833.6 1278.4 L837.1 1277.6 L840.7 1277.0 L844.3 1277.5 L847.9 1276.7 L851.4 1277.9 L855.0 1277.5 L858.6 1277.9 L862.1 1277.5 L865.7 1276.7 L869.3 1277.2 L872.9 1276.8 L876.4 1276.2 L880.0 1277.3" stroke="#a6a6a6" stroke-width="3.3" stroke-dasharray="16.5 15.5"/>
<path d="M157.5 1640.0 L157.7 1636.4 L157.8 1632.7 L158.0 1629.1 L158.1 1625.5 L158.3 1621.8 L158.5 1618.2 L158.6 1614.5 L158.8 1610.9 L158.9 1607.3 L159.1 1603.6 L159.2 1600.0 L159.4 1596.4 L159.6 1592.7 L159.7 1589.1 L159.9 1585.5 L160.0 1581.8 L160.2 1578.2 L160.4 1574.5 L160.5 1570.9 L160.7 1567.3 L160.8 1563.6 L161.0 1560.0 L161.2 1556.4 L161.4 1552.7 L161.5 1549.1 L161.7 1545.5 L161.9 1541.8 L162.1 1538.2 L162.3 1534.5 L162.5 1530.9 L162.6 1527.3 L162.8 1523.6 L163.0 1520.0 L163.2 1516.5 L163.4 1513.0 L163.6 1509.5 L163.8 1506.0 L164.0 1502.5 L164.2 1499.0 L164.4 1495.5 L164.6 1492.0 L164.8 1488.5 L165.0 1485.0 L165.2 1481.5 L165.5 1478.0 L165.8 1474.5 L166.0 1471.0 L166.2 1467.5 L166.5 1464.0 L166.8 1460.5 L167.0 1457.0 L167.2 1453.5 L167.5 1450.0 L167.8 1446.2 L168.1 1442.5 L168.4 1438.8 L168.8 1435.0 L169.1 1431.2 L169.4 1427.5 L169.7 1423.8 L170.0 1420.0 L170.4 1416.4 L170.9 1412.9 L171.3 1409.3 L171.7 1405.7 L172.1 1402.1 L172.6 1398.6 L173.0 1395.0 L173.8 1391.0 L174.6 1387.0 L175.4 1383.0 L176.2 1379.0 L177.0 1375.0 L178.3 1371.2 L179.7 1367.3 L181.0 1363.5 L182.3 1359.7 L183.7 1355.8 L185.0 1352.0 L186.4 1348.4 L187.8 1344.8 L189.2 1341.2 L190.6 1337.6 L192.0 1334.0 L195.6 1331.8 L199.2 1331.2 L202.8 1327.2 L206.4 1324.9 L210.0 1324.0 L213.6 1323.7 L217.1 1322.0 L220.7 1321.3 L224.3 1320.1 L227.9 1317.8 L231.4 1317.2 L235.0 1316.1 L238.8 1314.3 L242.5 1313.1 L246.2 1312.1 L250.0 1311.5 L253.3 1309.3 L256.7 1308.0 L260.0 1307.1 L263.3 1306.9 L266.7 1305.1 L270.0 1304.0 L273.8 1304.3 L277.5 1302.8 L281.2 1301.6 L285.0 1301.1 L288.8 1298.9 L292.5 1299.2 L296.2 1298.8 L300.0 1297.3 L303.8 1296.8 L307.5 1296.4 L311.2 1296.5 L315.0 1296.7 L318.8 1294.7 L322.5 1294.5 L326.2 1295.3 L330.0 1293.8 L333.5 1294.3 L337.0 1293.6 L340.5 1292.9 L344.0 1292.3 L347.5 1292.5 L351.0 1292.6 L354.5 1290.9 L358.0 1289.6 L361.5 1290.7 L365.0 1290.0 L368.5 1289.1 L372.0 1290.3 L375.5 1289.5 L379.0 1289.1 L382.5 1288.4 L386.0 1286.6 L389.5 1286.2 L393.0 1286.0 L396.5 1284.8 L400.0 1285.4 L403.6 1285.9 L407.1 1285.1 L410.7 1284.9 L414.3 1283.6 L417.9 1284.5 L421.4 1282.9 L425.0 1283.5 L428.6 1282.9 L432.1 1283.3 L435.7 1281.6 L439.3 1283.0 L442.9 1281.5 L446.4 1282.4 L450.0 1281.3 L453.6 1281.8 L457.1 1279.9 L460.7 1280.5 L464.3 1280.7 L467.9 1279.6 L471.4 1278.9 L475.0 1280.0 L478.6 1278.0 L482.1 1277.8 L485.7 1278.1 L489.3 1278.3 L492.9 1278.3 L496.4 1277.4 L500.0 1277.4 L503.5 1277.0 L507.1 1277.1 L510.6 1276.7 L514.1 1277.0 L517.6 1276.8 L521.2 1276.5 L524.7 1276.9 L528.2 1277.3 L531.8 1277.2 L535.3 1277.2 L538.8 1276.1 L542.4 1276.8 L545.9 1275.8 L549.4 1277.8 L552.9 1276.6 L556.5 1277.1 L560.0 1276.6 L563.5 1276.0 L567.1 1276.0 L570.6 1276.3 L574.1 1275.3 L577.6 1276.0 L581.2 1275.5 L584.7 1277.4 L588.2 1275.5 L591.8 1276.6 L595.3 1277.2 L598.8 1277.2 L602.4 1275.8 L605.9 1275.7 L609.4 1276.4 L612.9 1276.9 L616.5 1275.8 L620.0 1275.9 L623.6 1275.9 L627.3 1276.4 L630.9 1276.9 L634.5 1276.6 L638.2 1276.7 L641.8 1275.8 L645.5 1276.6 L649.1 1276.3 L652.7 1275.6 L656.4 1275.2 L660.0 1276.7 L663.6 1275.2 L667.3 1275.3 L670.9 1275.0 L674.5 1276.0 L678.2 1275.2 L681.8 1276.1 L685.5 1274.4 L689.1 1274.5 L692.7 1275.1 L696.4 1275.3 L700.0 1275.5 L703.6 1276.2 L707.3 1275.7 L710.9 1276.7 L714.5 1275.1 L718.2 1276.1 L721.8 1276.1 L725.5 1276.2 L729.1 1276.4 L732.7 1274.4 L736.4 1274.8 L740.0 1274.9 L743.6 1275.9 L747.3 1275.2 L750.9 1275.3 L754.5 1274.7 L758.2 1274.8 L761.8 1276.5 L765.5 1276.6 L769.1 1274.4 L772.7 1276.2 L776.4 1275.1 L780.0 1275.5 L783.6 1275.9 L787.1 1276.1 L790.7 1276.2 L794.3 1275.9 L797.9 1275.3 L801.4 1275.0 L805.0 1275.4 L808.6 1275.0 L812.1 1275.7 L815.7 1275.1 L819.3 1274.4 L822.9 1276.6 L826.4 1274.5 L830.0 1274.7 L833.6 1275.3 L837.1 1275.7 L840.7 1276.5 L844.3 1275.5 L847.9 1275.4 L851.4 1274.4 L855.0 1276.5 L858.6 1275.4 L862.1 1275.2 L865.7 1275.0 L869.3 1274.6 L872.9 1276.4 L876.4 1275.2 L880.0 1275.5" stroke="#a6a6a6" stroke-width="3.3" stroke-dasharray="17.5 14.5 4 14.5"/>
</g>
<g stroke="#0a0a0a" stroke-width="2.3" fill="none">
<rect x="154.3" y="1239.7" width="725.1" height="445.8" stroke-width="2.6"/>
<path d="M144.5 1239.7H154.3 M144.5 1264.5H154.3 M141.5 1289.2H154.3 M144.5 1314H154.3 M144.5 1338.8H154.3 M144.5 1363.5H154.3 M141.5 1388.3H154.3 M144.5 1413.1H154.3 M144.5 1437.8H154.3 M144.5 1462.6H154.3 M141.5 1487.4H154.3 M144.5 1512.1H154.3 M144.5 1536.9H154.3 M144.5 1561.7H154.3 M141.5 1586.4H154.3 M144.5 1611.2H154.3 M144.5 1636H154.3 M144.5 1660.7H154.3 M141.5 1685.5H154.3 M154.3 1685.5V1698.1 M190.6 1685.5V1694.9 M226.8 1685.5V1694.9 M263.1 1685.5V1694.9 M299.3 1685.5V1698.1 M335.6 1685.5V1694.9 M371.8 1685.5V1694.9 M408.1 1685.5V1694.9 M444.3 1685.5V1698.1 M480.6 1685.5V1694.9 M516.8 1685.5V1694.9 M553.1 1685.5V1694.9 M589.4 1685.5V1698.1 M625.6 1685.5V1694.9 M661.9 1685.5V1694.9 M698.1 1685.5V1694.9 M734.4 1685.5V1698.1 M770.6 1685.5V1694.9 M806.9 1685.5V1694.9 M843.1 1685.5V1694.9 M879.4 1685.5V1698.1" stroke-width="2.3"/>
</g>
<g fill="#111" font-family='"Liberation Sans", sans-serif'>
<text x="122" y="1297.9" font-size="32.5" text-anchor="end" textLength="47" lengthAdjust="spacingAndGlyphs">0.3</text>
<text x="122" y="1397" font-size="32.5" text-anchor="end" textLength="47" lengthAdjust="spacingAndGlyphs">0.1</text>
<text x="122" y="1496.1" font-size="32.5" text-anchor="end" textLength="67.5" lengthAdjust="spacingAndGlyphs">–0.1</text>
<text x="122" y="1595.1" font-size="32.5" text-anchor="end" textLength="67.5" lengthAdjust="spacingAndGlyphs">–0.3</text>
<text x="122" y="1694.2" font-size="32.5" text-anchor="end" textLength="67.5" lengthAdjust="spacingAndGlyphs">–0.5</text>
<text x="154.3" y="1734.5" font-size="32.5" text-anchor="middle">0</text>
<text x="299.3" y="1734.5" font-size="32.5" text-anchor="middle" textLength="83" lengthAdjust="spacingAndGlyphs">2,000</text>
<text x="444.3" y="1734.5" font-size="32.5" text-anchor="middle" textLength="83" lengthAdjust="spacingAndGlyphs">4,000</text>
<text x="589.4" y="1734.5" font-size="32.5" text-anchor="middle" textLength="83" lengthAdjust="spacingAndGlyphs">6,000</text>
<text x="734.4" y="1734.5" font-size="32.5" text-anchor="middle" textLength="83" lengthAdjust="spacingAndGlyphs">8,000</text>
<text x="879.4" y="1734.5" font-size="32.5" text-anchor="middle" textLength="98" lengthAdjust="spacingAndGlyphs">10,000</text>
<text x="525.2" y="1788.5" font-size="31.5" text-anchor="middle" textLength="207" lengthAdjust="spacingAndGlyphs">Distance (µm)</text>
<text x="173.6" y="1289.1" font-size="33">(c)</text>
<g transform="translate(27.8 1478.3) rotate(-90)">
<text x="0" y="0" font-size="32" text-anchor="middle" textLength="244" lengthAdjust="spacingAndGlyphs">Potential (VV<tspan font-size="20" dy="11">SHE</tspan><tspan dy="-11">)</tspan></text>
</g>
</g>
<g fill="#111" font-family='"Liberation Sans", sans-serif'>
<text x="636" y="1498.7" font-size="27" textLength="234.5" lengthAdjust="spacingAndGlyphs">Measured time (h)</text>
<text x="568.5" y="1538.8" font-size="27">1</text>
<text x="568.5" y="1571.2" font-size="27">4</text>
<text x="568.5" y="1604" font-size="27">7</text>
<text x="568.5" y="1636.8" font-size="27">10</text>
<text x="699.5" y="1538.8" font-size="27">13</text>
<text x="699.5" y="1571.2" font-size="27">16</text>
<text x="699.5" y="1604" font-size="27">19</text>
<text x="699.5" y="1636.8" font-size="27">22</text>
<text x="840" y="1538.8" font-size="27">25</text>
<text x="840" y="1571.2" font-size="27">28</text>
<text x="840" y="1604" font-size="27">31</text>
<text x="840" y="1636.8" font-size="27">34</text>
<text x="840" y="1675.4" font-size="27">37</text>
</g>
<line x1="480.9" y1="1527.4" x2="562" y2="1527.4" stroke="#000" stroke-width="4.2"/>
<line x1="480.9" y1="1560.3" x2="562" y2="1560.3" stroke="#000" stroke-width="4.2" stroke-dasharray="3.2 6.2"/>
<line x1="480.9" y1="1589.9" x2="562" y2="1589.9" stroke="#000" stroke-width="4.2" stroke-dasharray="12.5 6.2"/>
<line x1="480.9" y1="1626.9" x2="562" y2="1626.9" stroke="#000" stroke-width="4.2" stroke-dasharray="16.5 15.5"/>
<line x1="610.9" y1="1527.4" x2="691" y2="1527.4" stroke="#000" stroke-width="4.2" stroke-dasharray="17.5 14.5 4 14.5"/>
<line x1="610.9" y1="1560.3" x2="691" y2="1560.3" stroke="#000" stroke-width="4.2" stroke-dasharray="36 14.5"/>
<line x1="610.9" y1="1589.9" x2="691" y2="1589.9" stroke="#000" stroke-width="4.2" stroke-dasharray="36 14.5 4 14.5"/>
<line x1="610.9" y1="1626.9" x2="691" y2="1626.9" stroke="#000" stroke-width="4.2" stroke-dasharray="36 14.5 4 14.5 4 14.5"/>
<line x1="754.5" y1="1527.4" x2="834" y2="1527.4" stroke="#a3a3a3" stroke-width="4.2"/>
<line x1="754.5" y1="1560.3" x2="834" y2="1560.3" stroke="#a3a3a3" stroke-width="4.2" stroke-dasharray="3.2 6.2"/>
<line x1="754.5" y1="1589.9" x2="834" y2="1589.9" stroke="#a3a3a3" stroke-width="4.2" stroke-dasharray="12.5 6.2"/>
<line x1="754.5" y1="1626.9" x2="834" y2="1626.9" stroke="#a3a3a3" stroke-width="4.2" stroke-dasharray="16.5 15.5"/>
<line x1="754.5" y1="1666" x2="834" y2="1666" stroke="#a3a3a3" stroke-width="4.2" stroke-dasharray="17.5 14.5 4 14.5"/>
</g>
</svg>
</body></html>
